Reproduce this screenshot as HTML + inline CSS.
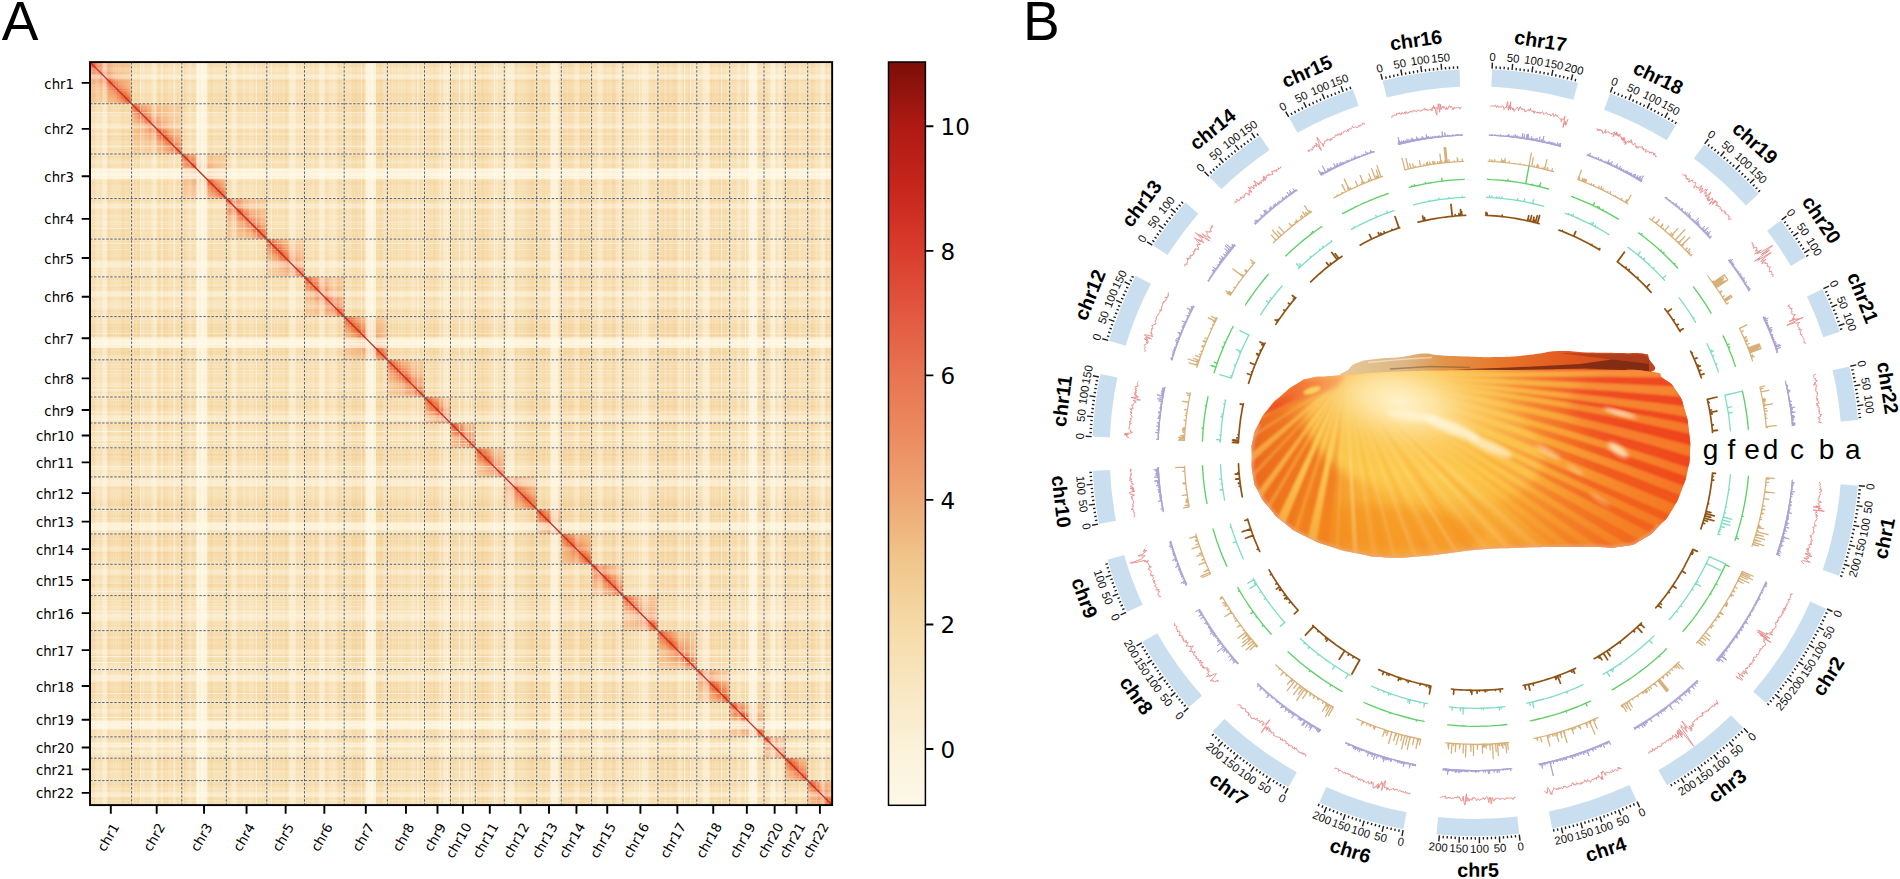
<!DOCTYPE html>
<html lang="en"><head><meta charset="utf-8"><title>Figure</title>
<style>
html,body{margin:0;padding:0;background:#fff;overflow:hidden}
svg{display:block}
.dv{font-family:"DejaVu Sans","Liberation Sans",sans-serif;fill:#000}
.ar{font-family:"Liberation Sans","DejaVu Sans",sans-serif;fill:#000}
.tl{font-size:11.4px;text-anchor:middle;fill:#111}
.cl{font-size:19.7px;font-weight:bold;text-anchor:middle}
.ln{fill:none;stroke-linejoin:round;stroke-linecap:round}
</style></head><body>
<svg width="1900" height="879" viewBox="0 0 1900 879">
<rect width="1900" height="879" fill="#fff"/>
<defs>
<linearGradient id="cbg" x1="0" y1="0" x2="0" y2="1">
<stop offset="0" stop-color="#7c0e09"/>
<stop offset="0.0863" stop-color="#ae1a13"/>
<stop offset="0.17" stop-color="#c6261c"/>
<stop offset="0.2538" stop-color="#d93c2c"/>
<stop offset="0.3375" stop-color="#e25840"/>
<stop offset="0.4213" stop-color="#e87452"/>
<stop offset="0.505" stop-color="#ec8c60"/>
<stop offset="0.5888" stop-color="#eea874"/>
<stop offset="0.6725" stop-color="#f0c68c"/>
<stop offset="0.7563" stop-color="#f5daa6"/>
<stop offset="0.84" stop-color="#f8e7c2"/>
<stop offset="0.9238" stop-color="#fbf2da"/>
<stop offset="1" stop-color="#fdf8e8"/>
</linearGradient>
<linearGradient id="dg" gradientUnits="userSpaceOnUse" x1="30" y1="122.1" x2="150" y2="2.1">
<stop offset="0.005" stop-color="#f5aa70" stop-opacity="0.26"/>
<stop offset="0.2348" stop-color="#f5aa70" stop-opacity="0.31"/>
<stop offset="0.335" stop-color="#f5a86e" stop-opacity="0.38"/>
<stop offset="0.388" stop-color="#f5a46a" stop-opacity="0.47"/>
<stop offset="0.4234" stop-color="#f49c62" stop-opacity="0.58"/>
<stop offset="0.447" stop-color="#f39058" stop-opacity="0.7"/>
<stop offset="0.4646" stop-color="#f1824c" stop-opacity="0.8"/>
<stop offset="0.4794" stop-color="#ee703e" stop-opacity="0.9"/>
<stop offset="0.4912" stop-color="#e95e32" stop-opacity="0.95"/>
<stop offset="0.5" stop-color="#e44c28" stop-opacity="0.97"/>
<stop offset="0.5088" stop-color="#e95e32" stop-opacity="0.95"/>
<stop offset="0.5206" stop-color="#ee703e" stop-opacity="0.9"/>
<stop offset="0.5354" stop-color="#f1824c" stop-opacity="0.8"/>
<stop offset="0.553" stop-color="#f39058" stop-opacity="0.7"/>
<stop offset="0.5766" stop-color="#f49c62" stop-opacity="0.58"/>
<stop offset="0.612" stop-color="#f5a46a" stop-opacity="0.47"/>
<stop offset="0.665" stop-color="#f5a86e" stop-opacity="0.38"/>
<stop offset="0.7652" stop-color="#f5aa70" stop-opacity="0.31"/>
<stop offset="0.995" stop-color="#f5aa70" stop-opacity="0.26"/>
</linearGradient>
<clipPath id="blk">
<rect x="90" y="62.1" width="41.6" height="41.65"/>
<rect x="131.6" y="103.75" width="50.2" height="50.26"/>
<rect x="181.8" y="154.01" width="44.5" height="44.55"/>
<rect x="226.3" y="198.56" width="40.5" height="40.55"/>
<rect x="266.8" y="239.1" width="37.7" height="37.74"/>
<rect x="304.5" y="276.85" width="39.7" height="39.75"/>
<rect x="344.2" y="316.59" width="43.2" height="43.25"/>
<rect x="387.4" y="359.84" width="37.1" height="37.14"/>
<rect x="424.5" y="396.98" width="26" height="26.03"/>
<rect x="450.5" y="423.01" width="24.8" height="24.83"/>
<rect x="475.3" y="447.84" width="29" height="29.03"/>
<rect x="504.3" y="476.87" width="32.4" height="32.44"/>
<rect x="536.7" y="509.31" width="24.6" height="24.63"/>
<rect x="561.3" y="533.94" width="30.3" height="30.33"/>
<rect x="591.6" y="564.27" width="31.3" height="31.34"/>
<rect x="622.9" y="595.61" width="35" height="35.04"/>
<rect x="657.9" y="630.65" width="38.9" height="38.94"/>
<rect x="696.8" y="669.59" width="32.9" height="32.94"/>
<rect x="729.7" y="702.53" width="34.3" height="34.34"/>
<rect x="764" y="736.87" width="21.3" height="21.32"/>
<rect x="785.3" y="758.2" width="22.4" height="22.43"/>
<rect x="807.7" y="780.62" width="24.45" height="24.48"/>
</clipPath>
<clipPath id="hm"><rect x="90" y="62.1" width="742.15" height="743"/></clipPath>
</defs>
<g id="panelA">
<rect x="90" y="62.1" width="742.15" height="743" fill="#f7ddae"/>
<rect x="90" y="62.1" width="742.15" height="743" fill="url(#dg)" clip-path="url(#blk)"/>
<path d="M109 63h1v742h-1zM121 63h1v742h-1zM123 63h2v742h-2zM127 63h3v742h-3zM135 63h1v742h-1zM138 63h2v742h-2zM158 63h2v742h-2zM167 63h1v742h-1zM177 63h1v742h-1zM185 63h1v742h-1zM210 63h2v742h-2zM228 63h1v742h-1zM262 63h1v742h-1zM264 63h1v742h-1zM285 63h1v742h-1zM315 63h1v742h-1zM341 63h1v742h-1zM352 63h1v742h-1zM357 63h1v742h-1zM359 63h2v742h-2zM377 63h1v742h-1zM381 63h2v742h-2zM390 63h1v742h-1zM396 63h1v742h-1zM416 63h1v742h-1zM420 63h1v742h-1zM427 63h1v742h-1zM430 63h1v742h-1zM435 63h1v742h-1zM453 63h1v742h-1zM462 63h1v742h-1zM470 63h1v742h-1zM478 63h2v742h-2zM481 63h1v742h-1zM486 63h2v742h-2zM515 63h1v742h-1zM527 63h3v742h-3zM534 63h1v742h-1zM542 63h2v742h-2zM547 63h1v742h-1zM566 63h1v742h-1zM570 63h3v742h-3zM582 63h1v742h-1zM584 63h1v742h-1zM586 63h3v742h-3zM604 63h1v742h-1zM606 63h1v742h-1zM614 63h1v742h-1zM661 63h2v742h-2zM672 63h2v742h-2zM675 63h1v742h-1zM688 63h2v742h-2zM713 63h1v742h-1zM722 63h2v742h-2zM725 63h1v742h-1zM746 63h1v742h-1zM787 63h1v742h-1zM789 63h1v742h-1zM796 63h2v742h-2zM811 63h1v742h-1zM813 63h1v742h-1zM832 63h1v742h-1z" fill="#eebb78" fill-opacity="0.08"/>
<path d="M91 81v1h741v-1zM91 93v1h741v-1zM91 95v2h741v-2zM91 99v3h741v-3zM91 107v1h741v-1zM91 110v2h741v-2zM91 130v2h741v-2zM91 139v1h741v-1zM91 149v1h741v-1zM91 157v1h741v-1zM91 182v2h741v-2zM91 200v1h741v-1zM91 234v1h741v-1zM91 236v1h741v-1zM91 257v1h741v-1zM91 287v1h741v-1zM91 313v1h741v-1zM91 324v1h741v-1zM91 329v1h741v-1zM91 331v2h741v-2zM91 349v1h741v-1zM91 353v2h741v-2zM91 362v1h741v-1zM91 368v1h741v-1zM91 388v1h741v-1zM91 392v1h741v-1zM91 399v1h741v-1zM91 402v1h741v-1zM91 407v1h741v-1zM91 425v1h741v-1zM91 434v1h741v-1zM91 442v1h741v-1zM91 450v2h741v-2zM91 453v1h741v-1zM91 458v2h741v-2zM91 487v1h741v-1zM91 499v3h741v-3zM91 506v1h741v-1zM91 514v2h741v-2zM91 519v1h741v-1zM91 538v1h741v-1zM91 542v3h741v-3zM91 554v1h741v-1zM91 556v1h741v-1zM91 558v3h741v-3zM91 576v1h741v-1zM91 578v1h741v-1zM91 586v1h741v-1zM91 633v2h741v-2zM91 644v2h741v-2zM91 647v1h741v-1zM91 660v2h741v-2zM91 685v1h741v-1zM91 694v2h741v-2zM91 697v1h741v-1zM91 718v1h741v-1zM91 759v1h741v-1zM91 761v1h741v-1zM91 768v2h741v-2zM91 783v1h741v-1zM91 785v1h741v-1zM91 804v1h741v-1z" fill="#eebb78" fill-opacity="0.08"/>
<path d="M108 63h1v742h-1zM122 63h1v742h-1zM134 63h1v742h-1zM137 63h1v742h-1zM164 63h1v742h-1zM184 63h1v742h-1zM286 63h1v742h-1zM339 63h1v742h-1zM353 63h1v742h-1zM355 63h2v742h-2zM362 63h1v742h-1zM376 63h1v742h-1zM379 63h2v742h-2zM433 63h2v742h-2zM477 63h1v742h-1zM483 63h1v742h-1zM530 63h2v742h-2zM533 63h1v742h-1zM544 63h1v742h-1zM563 63h3v742h-3zM568 63h2v742h-2zM581 63h1v742h-1zM583 63h1v742h-1zM612 63h2v742h-2zM663 63h1v742h-1zM667 63h2v742h-2zM674 63h1v742h-1zM676 63h1v742h-1zM683 63h1v742h-1zM711 63h1v742h-1zM719 63h2v742h-2zM788 63h1v742h-1zM812 63h1v742h-1zM826 63h1v742h-1z" fill="#eebb78" fill-opacity="0.16"/>
<path d="M91 80v1h741v-1zM91 94v1h741v-1zM91 106v1h741v-1zM91 109v1h741v-1zM91 136v1h741v-1zM91 156v1h741v-1zM91 258v1h741v-1zM91 311v1h741v-1zM91 325v1h741v-1zM91 327v2h741v-2zM91 334v1h741v-1zM91 348v1h741v-1zM91 351v2h741v-2zM91 405v2h741v-2zM91 449v1h741v-1zM91 455v1h741v-1zM91 502v2h741v-2zM91 505v1h741v-1zM91 516v1h741v-1zM91 535v3h741v-3zM91 540v2h741v-2zM91 553v1h741v-1zM91 555v1h741v-1zM91 584v2h741v-2zM91 635v1h741v-1zM91 639v2h741v-2zM91 646v1h741v-1zM91 648v1h741v-1zM91 655v1h741v-1zM91 683v1h741v-1zM91 691v2h741v-2zM91 760v1h741v-1zM91 784v1h741v-1zM91 798v1h741v-1z" fill="#eebb78" fill-opacity="0.16"/>
<path d="M363 63h1v742h-1zM482 63h1v742h-1zM532 63h1v742h-1zM580 63h1v742h-1z" fill="#eebb78" fill-opacity="0.26"/>
<path d="M91 335v1h741v-1zM91 454v1h741v-1zM91 504v1h741v-1zM91 552v1h741v-1z" fill="#eebb78" fill-opacity="0.26"/>
<path d="M111 63h2v742h-2zM114 63h1v742h-1zM119 63h2v742h-2zM136 63h1v742h-1zM145 63h2v742h-2zM149 63h2v742h-2zM157 63h1v742h-1zM168 63h1v742h-1zM171 63h2v742h-2zM178 63h1v742h-1zM186 63h2v742h-2zM192 63h1v742h-1zM194 63h2v742h-2zM209 63h1v742h-1zM213 63h1v742h-1zM215 63h4v742h-4zM220 63h4v742h-4zM230 63h1v742h-1zM237 63h1v742h-1zM241 63h1v742h-1zM246 63h3v742h-3zM253 63h2v742h-2zM260 63h1v742h-1zM263 63h1v742h-1zM269 63h2v742h-2zM274 63h2v742h-2zM279 63h1v742h-1zM282 63h3v742h-3zM299 63h1v742h-1zM302 63h1v742h-1zM308 63h1v742h-1zM311 63h1v742h-1zM314 63h1v742h-1zM316 63h1v742h-1zM327 63h1v742h-1zM340 63h1v742h-1zM348 63h2v742h-2zM383 63h1v742h-1zM393 63h1v742h-1zM400 63h1v742h-1zM402 63h2v742h-2zM408 63h3v742h-3zM415 63h1v742h-1zM421 63h1v742h-1zM428 63h1v742h-1zM432 63h1v742h-1zM442 63h1v742h-1zM456 63h3v742h-3zM460 63h2v742h-2zM472 63h1v742h-1zM489 63h2v742h-2zM520 63h1v742h-1zM522 63h3v742h-3zM526 63h1v742h-1zM541 63h1v742h-1zM549 63h1v742h-1zM574 63h1v742h-1zM579 63h1v742h-1zM595 63h2v742h-2zM603 63h1v742h-1zM609 63h2v742h-2zM625 63h1v742h-1zM629 63h2v742h-2zM637 63h1v742h-1zM650 63h1v742h-1zM652 63h1v742h-1zM664 63h1v742h-1zM685 63h1v742h-1zM691 63h1v742h-1zM715 63h1v742h-1zM732 63h2v742h-2zM736 63h1v742h-1zM741 63h1v742h-1zM747 63h1v742h-1zM759 63h2v742h-2zM792 63h2v742h-2zM795 63h1v742h-1zM798 63h1v742h-1zM802 63h2v742h-2zM810 63h1v742h-1zM814 63h2v742h-2zM818 63h1v742h-1zM829 63h1v742h-1z" fill="#fffaea" fill-opacity="0.08"/>
<path d="M91 83v2h741v-2zM91 86v1h741v-1zM91 91v2h741v-2zM91 108v1h741v-1zM91 117v2h741v-2zM91 121v2h741v-2zM91 129v1h741v-1zM91 140v1h741v-1zM91 143v2h741v-2zM91 150v1h741v-1zM91 158v2h741v-2zM91 164v1h741v-1zM91 166v2h741v-2zM91 181v1h741v-1zM91 185v1h741v-1zM91 187v4h741v-4zM91 192v4h741v-4zM91 202v1h741v-1zM91 209v1h741v-1zM91 213v1h741v-1zM91 218v3h741v-3zM91 225v2h741v-2zM91 232v1h741v-1zM91 235v1h741v-1zM91 241v2h741v-2zM91 246v2h741v-2zM91 251v1h741v-1zM91 254v3h741v-3zM91 271v1h741v-1zM91 274v1h741v-1zM91 280v1h741v-1zM91 283v1h741v-1zM91 286v1h741v-1zM91 288v1h741v-1zM91 299v1h741v-1zM91 312v1h741v-1zM91 320v2h741v-2zM91 355v1h741v-1zM91 365v1h741v-1zM91 372v1h741v-1zM91 374v2h741v-2zM91 380v3h741v-3zM91 387v1h741v-1zM91 393v1h741v-1zM91 400v1h741v-1zM91 404v1h741v-1zM91 414v1h741v-1zM91 428v3h741v-3zM91 432v2h741v-2zM91 444v1h741v-1zM91 461v2h741v-2zM91 492v1h741v-1zM91 494v3h741v-3zM91 498v1h741v-1zM91 513v1h741v-1zM91 521v1h741v-1zM91 546v1h741v-1zM91 551v1h741v-1zM91 567v2h741v-2zM91 575v1h741v-1zM91 581v2h741v-2zM91 597v1h741v-1zM91 601v2h741v-2zM91 609v1h741v-1zM91 622v1h741v-1zM91 624v1h741v-1zM91 636v1h741v-1zM91 657v1h741v-1zM91 663v1h741v-1zM91 687v1h741v-1zM91 704v2h741v-2zM91 708v1h741v-1zM91 713v1h741v-1zM91 719v1h741v-1zM91 731v2h741v-2zM91 764v2h741v-2zM91 767v1h741v-1zM91 770v1h741v-1zM91 774v2h741v-2zM91 782v1h741v-1zM91 786v2h741v-2zM91 790v1h741v-1zM91 801v1h741v-1z" fill="#fffaea" fill-opacity="0.08"/>
<path d="M95 63h1v742h-1zM100 63h2v742h-2zM107 63h1v742h-1zM113 63h1v742h-1zM115 63h2v742h-2zM118 63h1v742h-1zM130 63h4v742h-4zM141 63h2v742h-2zM144 63h1v742h-1zM147 63h2v742h-2zM169 63h2v742h-2zM175 63h2v742h-2zM179 63h5v742h-5zM188 63h1v742h-1zM191 63h1v742h-1zM214 63h1v742h-1zM224 63h1v742h-1zM226 63h2v742h-2zM245 63h1v742h-1zM251 63h1v742h-1zM255 63h1v742h-1zM261 63h1v742h-1zM265 63h4v742h-4zM288 63h1v742h-1zM296 63h2v742h-2zM300 63h1v742h-1zM303 63h1v742h-1zM305 63h1v742h-1zM309 63h1v742h-1zM312 63h1v742h-1zM318 63h1v742h-1zM325 63h1v742h-1zM328 63h1v742h-1zM342 63h4v742h-4zM347 63h1v742h-1zM350 63h1v742h-1zM384 63h6v742h-6zM392 63h1v742h-1zM395 63h1v742h-1zM404 63h1v742h-1zM419 63h1v742h-1zM422 63h1v742h-1zM425 63h2v742h-2zM441 63h1v742h-1zM449 63h3v742h-3zM463 63h1v742h-1zM473 63h3v742h-3zM491 63h3v742h-3zM498 63h2v742h-2zM501 63h1v742h-1zM505 63h1v742h-1zM518 63h2v742h-2zM521 63h1v742h-1zM535 63h4v742h-4zM546 63h1v742h-1zM561 63h2v742h-2zM590 63h4v742h-4zM607 63h1v742h-1zM611 63h1v742h-1zM617 63h1v742h-1zM620 63h5v742h-5zM631 63h2v742h-2zM635 63h2v742h-2zM649 63h1v742h-1zM655 63h5v742h-5zM665 63h1v742h-1zM677 63h1v742h-1zM682 63h1v742h-1zM692 63h2v742h-2zM698 63h4v742h-4zM727 63h5v742h-5zM762 63h4v742h-4zM768 63h2v742h-2zM776 63h1v742h-1zM783 63h4v742h-4zM800 63h2v742h-2zM804 63h1v742h-1zM807 63h3v742h-3zM817 63h1v742h-1zM819 63h1v742h-1zM825 63h1v742h-1zM828 63h1v742h-1z" fill="#fffaea" fill-opacity="0.16"/>
<path d="M91 67v1h741v-1zM91 72v2h741v-2zM91 79v1h741v-1zM91 85v1h741v-1zM91 87v2h741v-2zM91 90v1h741v-1zM91 102v4h741v-4zM91 113v2h741v-2zM91 116v1h741v-1zM91 119v2h741v-2zM91 141v2h741v-2zM91 147v2h741v-2zM91 151v5h741v-5zM91 160v1h741v-1zM91 163v1h741v-1zM91 186v1h741v-1zM91 196v1h741v-1zM91 198v2h741v-2zM91 217v1h741v-1zM91 223v1h741v-1zM91 227v1h741v-1zM91 233v1h741v-1zM91 237v4h741v-4zM91 260v1h741v-1zM91 268v2h741v-2zM91 272v1h741v-1zM91 275v1h741v-1zM91 277v1h741v-1zM91 281v1h741v-1zM91 284v1h741v-1zM91 290v1h741v-1zM91 297v1h741v-1zM91 300v1h741v-1zM91 314v4h741v-4zM91 319v1h741v-1zM91 322v1h741v-1zM91 356v6h741v-6zM91 364v1h741v-1zM91 367v1h741v-1zM91 376v1h741v-1zM91 391v1h741v-1zM91 394v1h741v-1zM91 397v2h741v-2zM91 413v1h741v-1zM91 421v3h741v-3zM91 435v1h741v-1zM91 445v3h741v-3zM91 463v3h741v-3zM91 470v2h741v-2zM91 473v1h741v-1zM91 477v1h741v-1zM91 490v2h741v-2zM91 493v1h741v-1zM91 507v4h741v-4zM91 518v1h741v-1zM91 533v2h741v-2zM91 562v4h741v-4zM91 579v1h741v-1zM91 583v1h741v-1zM91 589v1h741v-1zM91 592v5h741v-5zM91 603v2h741v-2zM91 607v2h741v-2zM91 621v1h741v-1zM91 627v5h741v-5zM91 637v1h741v-1zM91 649v1h741v-1zM91 654v1h741v-1zM91 664v2h741v-2zM91 670v4h741v-4zM91 699v5h741v-5zM91 734v4h741v-4zM91 740v2h741v-2zM91 748v1h741v-1zM91 755v4h741v-4zM91 772v2h741v-2zM91 776v1h741v-1zM91 779v3h741v-3zM91 789v1h741v-1zM91 791v1h741v-1zM91 797v1h741v-1zM91 800v1h741v-1z" fill="#fffaea" fill-opacity="0.16"/>
<path d="M96 63h4v742h-4zM143 63h1v742h-1zM151 63h1v742h-1zM156 63h1v742h-1zM161 63h2v742h-2zM173 63h1v742h-1zM189 63h2v742h-2zM207 63h1v742h-1zM225 63h1v742h-1zM231 63h1v742h-1zM236 63h1v742h-1zM243 63h2v742h-2zM249 63h2v742h-2zM252 63h1v742h-1zM277 63h1v742h-1zM298 63h1v742h-1zM301 63h1v742h-1zM313 63h1v742h-1zM329 63h4v742h-4zM335 63h2v742h-2zM398 63h1v742h-1zM401 63h1v742h-1zM411 63h4v742h-4zM418 63h1v742h-1zM423 63h2v742h-2zM439 63h1v742h-1zM464 63h1v742h-1zM467 63h1v742h-1zM495 63h1v742h-1zM500 63h1v742h-1zM502 63h3v742h-3zM514 63h1v742h-1zM559 63h2v742h-2zM575 63h4v742h-4zM597 63h1v742h-1zM602 63h1v742h-1zM616 63h1v742h-1zM618 63h1v742h-1zM628 63h1v742h-1zM638 63h1v742h-1zM640 63h2v742h-2zM648 63h1v742h-1zM678 63h1v742h-1zM680 63h2v742h-2zM695 63h2v742h-2zM702 63h1v742h-1zM709 63h1v742h-1zM737 63h1v742h-1zM739 63h2v742h-2zM777 63h1v742h-1zM782 63h1v742h-1zM799 63h1v742h-1zM806 63h1v742h-1zM816 63h1v742h-1z" fill="#fffaea" fill-opacity="0.26"/>
<path d="M91 68v4h741v-4zM91 115v1h741v-1zM91 123v1h741v-1zM91 128v1h741v-1zM91 133v2h741v-2zM91 145v1h741v-1zM91 161v2h741v-2zM91 179v1h741v-1zM91 197v1h741v-1zM91 203v1h741v-1zM91 208v1h741v-1zM91 215v2h741v-2zM91 221v2h741v-2zM91 224v1h741v-1zM91 249v1h741v-1zM91 270v1h741v-1zM91 273v1h741v-1zM91 285v1h741v-1zM91 301v4h741v-4zM91 307v2h741v-2zM91 370v1h741v-1zM91 373v1h741v-1zM91 383v4h741v-4zM91 390v1h741v-1zM91 395v2h741v-2zM91 411v1h741v-1zM91 436v1h741v-1zM91 439v1h741v-1zM91 467v1h741v-1zM91 472v1h741v-1zM91 474v3h741v-3zM91 486v1h741v-1zM91 531v2h741v-2zM91 547v4h741v-4zM91 569v1h741v-1zM91 574v1h741v-1zM91 588v1h741v-1zM91 590v1h741v-1zM91 600v1h741v-1zM91 610v1h741v-1zM91 612v2h741v-2zM91 620v1h741v-1zM91 650v1h741v-1zM91 652v2h741v-2zM91 667v2h741v-2zM91 674v1h741v-1zM91 681v1h741v-1zM91 709v1h741v-1zM91 711v2h741v-2zM91 749v1h741v-1zM91 754v1h741v-1zM91 771v1h741v-1zM91 778v1h741v-1zM91 788v1h741v-1z" fill="#fffaea" fill-opacity="0.26"/>
<path d="M102 63h1v742h-1zM106 63h1v742h-1zM152 63h2v742h-2zM232 63h1v742h-1zM234 63h1v742h-1zM289 63h1v742h-1zM295 63h1v742h-1zM319 63h1v742h-1zM324 63h1v742h-1zM333 63h2v742h-2zM361 63h1v742h-1zM365 63h1v742h-1zM440 63h1v742h-1zM443 63h1v742h-1zM445 63h1v742h-1zM448 63h1v742h-1zM465 63h2v742h-2zM476 63h1v742h-1zM496 63h2v742h-2zM506 63h2v742h-2zM550 63h1v742h-1zM558 63h1v742h-1zM598 63h4v742h-4zM634 63h1v742h-1zM646 63h1v742h-1zM679 63h1v742h-1zM694 63h1v742h-1zM738 63h1v742h-1zM748 63h1v742h-1zM757 63h1v742h-1zM770 63h1v742h-1zM775 63h1v742h-1zM778 63h1v742h-1zM780 63h2v742h-2zM820 63h2v742h-2zM824 63h1v742h-1z" fill="#fffaea" fill-opacity="0.38"/>
<path d="M91 74v1h741v-1zM91 78v1h741v-1zM91 124v2h741v-2zM91 204v1h741v-1zM91 206v1h741v-1zM91 261v1h741v-1zM91 267v1h741v-1zM91 291v1h741v-1zM91 296v1h741v-1zM91 305v2h741v-2zM91 333v1h741v-1zM91 337v1h741v-1zM91 412v1h741v-1zM91 415v1h741v-1zM91 417v1h741v-1zM91 420v1h741v-1zM91 437v2h741v-2zM91 448v1h741v-1zM91 468v2h741v-2zM91 478v2h741v-2zM91 522v1h741v-1zM91 530v1h741v-1zM91 570v4h741v-4zM91 606v1h741v-1zM91 618v1h741v-1zM91 651v1h741v-1zM91 666v1h741v-1zM91 710v1h741v-1zM91 720v1h741v-1zM91 729v1h741v-1zM91 742v1h741v-1zM91 747v1h741v-1zM91 750v1h741v-1zM91 752v2h741v-2zM91 792v2h741v-2zM91 796v1h741v-1z" fill="#fffaea" fill-opacity="0.38"/>
<path d="M103 63h3v742h-3zM140 63h1v742h-1zM154 63h2v742h-2zM174 63h1v742h-1zM196 63h1v742h-1zM233 63h1v742h-1zM235 63h1v742h-1zM256 63h1v742h-1zM271 63h1v742h-1zM290 63h5v742h-5zM304 63h1v742h-1zM320 63h4v742h-4zM417 63h1v742h-1zM444 63h1v742h-1zM446 63h2v742h-2zM468 63h1v742h-1zM471 63h1v742h-1zM508 63h6v742h-6zM619 63h1v742h-1zM639 63h1v742h-1zM642 63h4v742h-4zM647 63h1v742h-1zM697 63h1v742h-1zM703 63h6v742h-6zM721 63h1v742h-1zM772 63h1v742h-1zM779 63h1v742h-1zM822 63h2v742h-2z" fill="#fffaea" fill-opacity="0.52"/>
<path d="M91 75v3h741v-3zM91 112v1h741v-1zM91 126v2h741v-2zM91 146v1h741v-1zM91 168v1h741v-1zM91 205v1h741v-1zM91 207v1h741v-1zM91 228v1h741v-1zM91 243v1h741v-1zM91 262v5h741v-5zM91 276v1h741v-1zM91 292v4h741v-4zM91 389v1h741v-1zM91 416v1h741v-1zM91 418v2h741v-2zM91 440v1h741v-1zM91 443v1h741v-1zM91 480v6h741v-6zM91 591v1h741v-1zM91 611v1h741v-1zM91 614v4h741v-4zM91 619v1h741v-1zM91 669v1h741v-1zM91 675v6h741v-6zM91 693v1h741v-1zM91 744v1h741v-1zM91 751v1h741v-1zM91 794v2h741v-2z" fill="#fffaea" fill-opacity="0.52"/>
<path d="M199 63h2v742h-2zM204 63h1v742h-1zM206 63h1v742h-1zM366 63h2v742h-2zM370 63h1v742h-1zM373 63h3v742h-3zM459 63h1v742h-1zM494 63h1v742h-1zM551 63h7v742h-7zM684 63h1v742h-1zM690 63h1v742h-1zM745 63h1v742h-1zM749 63h1v742h-1zM751 63h1v742h-1zM754 63h1v742h-1zM756 63h1v742h-1zM771 63h1v742h-1zM773 63h2v742h-2z" fill="#fffaea" fill-opacity="0.68"/>
<path d="M91 171v2h741v-2zM91 176v1h741v-1zM91 178v1h741v-1zM91 338v2h741v-2zM91 342v1h741v-1zM91 345v3h741v-3zM91 431v1h741v-1zM91 466v1h741v-1zM91 523v7h741v-7zM91 656v1h741v-1zM91 662v1h741v-1zM91 717v1h741v-1zM91 721v1h741v-1zM91 723v1h741v-1zM91 726v1h741v-1zM91 728v1h741v-1zM91 743v1h741v-1zM91 745v2h741v-2z" fill="#fffaea" fill-opacity="0.68"/>
<path d="M197 63h2v742h-2zM201 63h3v742h-3zM205 63h1v742h-1zM368 63h2v742h-2zM371 63h2v742h-2zM750 63h1v742h-1zM752 63h2v742h-2zM755 63h1v742h-1z" fill="#fffaea" fill-opacity="0.84"/>
<path d="M91 169v2h741v-2zM91 173v3h741v-3zM91 177v1h741v-1zM91 340v2h741v-2zM91 343v2h741v-2zM91 722v1h741v-1zM91 724v2h741v-2zM91 727v1h741v-1z" fill="#fffaea" fill-opacity="0.84"/>
<line x1="90" y1="62.1" x2="832.15" y2="805.1" stroke="#c22c1c" stroke-width="1.3"/>
<path d="M131.6 62.1V805.1M90 103.75H832.15M181.8 62.1V805.1M90 154.01H832.15M226.3 62.1V805.1M90 198.56H832.15M266.8 62.1V805.1M90 239.1H832.15M304.5 62.1V805.1M90 276.85H832.15M344.2 62.1V805.1M90 316.59H832.15M387.4 62.1V805.1M90 359.84H832.15M424.5 62.1V805.1M90 396.98H832.15M450.5 62.1V805.1M90 423.01H832.15M475.3 62.1V805.1M90 447.84H832.15M504.3 62.1V805.1M90 476.87H832.15M536.7 62.1V805.1M90 509.31H832.15M561.3 62.1V805.1M90 533.94H832.15M591.6 62.1V805.1M90 564.27H832.15M622.9 62.1V805.1M90 595.61H832.15M657.9 62.1V805.1M90 630.65H832.15M696.8 62.1V805.1M90 669.59H832.15M729.7 62.1V805.1M90 702.53H832.15M764 62.1V805.1M90 736.87H832.15M785.3 62.1V805.1M90 758.2H832.15M807.7 62.1V805.1M90 780.62H832.15" fill="none" stroke="#566373" stroke-width="1" stroke-dasharray="2.4 1.65"/>
<rect x="90" y="62.1" width="742.15" height="743" fill="none" stroke="#000" stroke-width="1.9"/>
<path d="M110.8 806v7.7M89.1 82.92h-7.4M156.7 806v7.7M89.1 128.88h-7.4M204.05 806v7.7M89.1 176.28h-7.4M246.55 806v7.7M89.1 218.83h-7.4M285.65 806v7.7M89.1 257.97h-7.4M324.35 806v7.7M89.1 296.72h-7.4M365.8 806v7.7M89.1 338.22h-7.4M405.95 806v7.7M89.1 378.41h-7.4M437.5 806v7.7M89.1 410h-7.4M462.9 806v7.7M89.1 435.43h-7.4M489.8 806v7.7M89.1 462.36h-7.4M520.5 806v7.7M89.1 493.09h-7.4M549 806v7.7M89.1 521.63h-7.4M576.45 806v7.7M89.1 549.11h-7.4M607.25 806v7.7M89.1 579.94h-7.4M640.4 806v7.7M89.1 613.13h-7.4M677.35 806v7.7M89.1 650.12h-7.4M713.25 806v7.7M89.1 686.06h-7.4M746.85 806v7.7M89.1 719.7h-7.4M774.65 806v7.7M89.1 747.53h-7.4M796.5 806v7.7M89.1 769.41h-7.4M819.92 806v7.7M89.1 792.86h-7.4" fill="none" stroke="#000" stroke-width="1.9"/>
<text class="dv" font-size="13.3" text-anchor="end" x="74" y="88.52">chr1</text>
<text class="dv" font-size="13.3" text-anchor="end" x="74" y="134.48">chr2</text>
<text class="dv" font-size="13.3" text-anchor="end" x="74" y="181.88">chr3</text>
<text class="dv" font-size="13.3" text-anchor="end" x="74" y="224.43">chr4</text>
<text class="dv" font-size="13.3" text-anchor="end" x="74" y="263.57">chr5</text>
<text class="dv" font-size="13.3" text-anchor="end" x="74" y="302.32">chr6</text>
<text class="dv" font-size="13.3" text-anchor="end" x="74" y="343.82">chr7</text>
<text class="dv" font-size="13.3" text-anchor="end" x="74" y="384.01">chr8</text>
<text class="dv" font-size="13.3" text-anchor="end" x="74" y="415.6">chr9</text>
<text class="dv" font-size="13.3" text-anchor="end" x="74" y="441.03">chr10</text>
<text class="dv" font-size="13.3" text-anchor="end" x="74" y="467.96">chr11</text>
<text class="dv" font-size="13.3" text-anchor="end" x="74" y="498.69">chr12</text>
<text class="dv" font-size="13.3" text-anchor="end" x="74" y="527.23">chr13</text>
<text class="dv" font-size="13.3" text-anchor="end" x="74" y="554.71">chr14</text>
<text class="dv" font-size="13.3" text-anchor="end" x="74" y="585.54">chr15</text>
<text class="dv" font-size="13.3" text-anchor="end" x="74" y="618.73">chr16</text>
<text class="dv" font-size="13.3" text-anchor="end" x="74" y="655.72">chr17</text>
<text class="dv" font-size="13.3" text-anchor="end" x="74" y="691.66">chr18</text>
<text class="dv" font-size="13.3" text-anchor="end" x="74" y="725.3">chr19</text>
<text class="dv" font-size="13.3" text-anchor="end" x="74" y="753.13">chr20</text>
<text class="dv" font-size="13.3" text-anchor="end" x="74" y="775.01">chr21</text>
<text class="dv" font-size="13.3" text-anchor="end" x="74" y="798.46">chr22</text>
<text class="dv" font-size="13.3" text-anchor="middle" transform="translate(107.9 837.1) rotate(-60)" x="0" y="5.05">chr1</text>
<text class="dv" font-size="13.3" text-anchor="middle" transform="translate(153.8 837.1) rotate(-60)" x="0" y="5.05">chr2</text>
<text class="dv" font-size="13.3" text-anchor="middle" transform="translate(201.15 837.1) rotate(-60)" x="0" y="5.05">chr3</text>
<text class="dv" font-size="13.3" text-anchor="middle" transform="translate(243.65 837.1) rotate(-60)" x="0" y="5.05">chr4</text>
<text class="dv" font-size="13.3" text-anchor="middle" transform="translate(282.75 837.1) rotate(-60)" x="0" y="5.05">chr5</text>
<text class="dv" font-size="13.3" text-anchor="middle" transform="translate(321.45 837.1) rotate(-60)" x="0" y="5.05">chr6</text>
<text class="dv" font-size="13.3" text-anchor="middle" transform="translate(362.9 837.1) rotate(-60)" x="0" y="5.05">chr7</text>
<text class="dv" font-size="13.3" text-anchor="middle" transform="translate(403.05 837.1) rotate(-60)" x="0" y="5.05">chr8</text>
<text class="dv" font-size="13.3" text-anchor="middle" transform="translate(434.6 837.1) rotate(-60)" x="0" y="5.05">chr9</text>
<text class="dv" font-size="13.3" text-anchor="middle" transform="translate(458.2 840.2) rotate(-60)" x="0" y="5.05">chr10</text>
<text class="dv" font-size="13.3" text-anchor="middle" transform="translate(485.1 840.2) rotate(-60)" x="0" y="5.05">chr11</text>
<text class="dv" font-size="13.3" text-anchor="middle" transform="translate(515.8 840.2) rotate(-60)" x="0" y="5.05">chr12</text>
<text class="dv" font-size="13.3" text-anchor="middle" transform="translate(544.3 840.2) rotate(-60)" x="0" y="5.05">chr13</text>
<text class="dv" font-size="13.3" text-anchor="middle" transform="translate(571.75 840.2) rotate(-60)" x="0" y="5.05">chr14</text>
<text class="dv" font-size="13.3" text-anchor="middle" transform="translate(602.55 840.2) rotate(-60)" x="0" y="5.05">chr15</text>
<text class="dv" font-size="13.3" text-anchor="middle" transform="translate(635.7 840.2) rotate(-60)" x="0" y="5.05">chr16</text>
<text class="dv" font-size="13.3" text-anchor="middle" transform="translate(672.65 840.2) rotate(-60)" x="0" y="5.05">chr17</text>
<text class="dv" font-size="13.3" text-anchor="middle" transform="translate(708.55 840.2) rotate(-60)" x="0" y="5.05">chr18</text>
<text class="dv" font-size="13.3" text-anchor="middle" transform="translate(742.15 840.2) rotate(-60)" x="0" y="5.05">chr19</text>
<text class="dv" font-size="13.3" text-anchor="middle" transform="translate(769.95 840.2) rotate(-60)" x="0" y="5.05">chr20</text>
<text class="dv" font-size="13.3" text-anchor="middle" transform="translate(791.8 840.2) rotate(-60)" x="0" y="5.05">chr21</text>
<text class="dv" font-size="13.3" text-anchor="middle" transform="translate(815.22 840.2) rotate(-60)" x="0" y="5.05">chr22</text>
<rect x="888.5" y="62" width="36.9" height="743.3" fill="url(#cbg)" stroke="#000" stroke-width="1.5"/>
<text class="dv" font-size="23" x="940.6" y="757.8">0</text>
<text class="dv" font-size="23" x="940.6" y="633.26">2</text>
<text class="dv" font-size="23" x="940.6" y="508.72">4</text>
<text class="dv" font-size="23" x="940.6" y="384.18">6</text>
<text class="dv" font-size="23" x="940.6" y="259.64">8</text>
<text class="dv" font-size="23" x="940.6" y="135.1">10</text>
<path d="M926.1 749h7.3M926.1 624.46h7.3M926.1 499.92h7.3M926.1 375.38h7.3M926.1 250.84h7.3M926.1 126.3h7.3" fill="none" stroke="#000" stroke-width="1.9"/>
<text class="ar" font-size="55" x="1.8" y="39.9">A</text>
<text class="ar" font-size="55" x="1022.9" y="39.7">B</text>
</g>
<g id="panelB">
<path d="M1857.9 485.7A383.5 383.5 0 0 1 1839.1 575.7L1822.7 570.1A366.2 366.2 0 0 0 1840.6 484.2ZM1826.1 608.7A383.5 383.5 0 0 1 1766.3 703L1753.2 691.7A366.2 366.2 0 0 0 1810.3 601.6ZM1743.2 727.6A383.5 383.5 0 0 1 1667 785.2L1658.3 770.2A366.2 366.2 0 0 0 1731.1 715.2ZM1636.7 800.8A383.5 383.5 0 0 1 1552.3 828.5L1548.8 811.5A366.2 366.2 0 0 0 1629.4 785.1ZM1519.2 833.7A383.5 383.5 0 0 1 1436.4 834.2L1438.2 817A366.2 366.2 0 0 0 1517.3 816.5ZM1403.3 829.3A383.5 383.5 0 0 1 1319.2 802.8L1326.3 787A366.2 366.2 0 0 0 1406.6 812.3ZM1288.4 787.3A383.5 383.5 0 0 1 1212.6 731.6L1224.5 719A366.2 366.2 0 0 0 1296.9 772.2ZM1189 707.3A383.5 383.5 0 0 1 1142.2 641.8L1157.2 633.3A366.2 366.2 0 0 0 1202 695.8ZM1126.9 612A383.5 383.5 0 0 1 1107.5 559.7L1124.1 554.9A366.2 366.2 0 0 0 1142.7 604.8ZM1099 523.9A383.5 383.5 0 0 1 1092.7 470.8L1110 470A366.2 366.2 0 0 0 1116 520.7ZM1092.6 436.6A383.5 383.5 0 0 1 1100.5 374L1117.4 377.6A366.2 366.2 0 0 0 1109.9 437.4ZM1109 340.7A383.5 383.5 0 0 1 1135.6 275.7L1150.9 283.7A366.2 366.2 0 0 0 1125.6 345.8ZM1153 245.6A383.5 383.5 0 0 1 1185.3 202.4L1198.4 213.7A366.2 366.2 0 0 0 1167.6 255ZM1209.4 176.8A383.5 383.5 0 0 1 1259.9 135.8L1269.6 150.1A366.2 366.2 0 0 0 1221.4 189.3ZM1289.1 117.7A383.5 383.5 0 0 1 1353 89.4L1358.6 105.8A366.2 366.2 0 0 0 1297.5 132.8ZM1382.6 80.7A383.5 383.5 0 0 1 1459.5 69.5L1460.2 86.8A366.2 366.2 0 0 0 1386.8 97.5ZM1492.1 69.5A383.5 383.5 0 0 1 1578 83.1L1573.4 99.7A366.2 366.2 0 0 0 1491.3 86.8ZM1610 93.5A383.5 383.5 0 0 1 1675.7 125.4L1666.7 140.2A366.2 366.2 0 0 0 1604 109.7ZM1704.2 144.6A383.5 383.5 0 0 1 1758.7 193.8L1746 205.5A366.2 366.2 0 0 0 1693.9 158.5ZM1780.9 220.4A383.5 383.5 0 0 1 1805.7 257.1L1790.8 265.9A366.2 366.2 0 0 0 1767.1 230.8ZM1822.6 289.1A383.5 383.5 0 0 1 1839.7 331.8L1823.3 337.2A366.2 366.2 0 0 0 1807 296.4ZM1849.5 366.4A383.5 383.5 0 0 1 1857.9 419.9L1840.7 421.4A366.2 366.2 0 0 0 1832.6 370.3Z" fill="#c9dff0"/>
<path d="M1858.8 485.7L1864.9 486.3M1856.5 505.6L1862.6 506.5M1853.3 525.4L1859.3 526.5M1849 544.9L1854.9 546.4M1843.7 564.3L1849.5 566M1827 609L1832.5 611.5M1818.3 627.1L1823.8 629.9M1808.8 644.7L1814.1 647.8M1798.3 661.8L1803.5 665.1M1787 678.3L1792 681.9M1774.9 694.2L1779.6 698.1M1743.8 728.3L1748 732.7M1729.1 741.9L1733.1 746.5M1713.7 754.7L1717.4 759.5M1697.6 766.6L1701.1 771.6M1681 777.8L1684.2 782.9M1637 801.6L1639.6 807.2M1618.6 809.6L1620.9 815.2M1599.9 816.5L1601.8 822.3M1580.8 822.5L1582.4 828.4M1561.4 827.5L1562.7 833.4M1519.3 834.6L1520 840.7M1499.4 836.4L1499.7 842.5M1479.4 837.1L1479.4 843.2M1459.3 836.7L1459.1 842.8M1439.4 835.4L1438.8 841.4M1403.1 830.2L1402 836.2M1383.6 825.9L1382.1 831.8M1364.2 820.6L1362.5 826.4M1345.2 814.2L1343.2 820M1326.6 807L1324.2 812.6M1288 788.1L1285 793.4M1270.8 777.9L1267.5 783M1254.1 766.7L1250.6 771.7M1238.1 754.8L1234.3 759.6M1222.7 742L1218.6 746.6M1188.3 707.9L1183.8 712M1175.4 692.6L1170.7 696.4M1163.4 676.6L1158.4 680.2M1152.1 660.1L1147 663.3M1141.8 642.9L1136.5 645.9M1126.1 612.4L1120.6 614.9M1118.3 593.9L1112.6 596.2M1111.4 575.1L1105.6 577.1M1098.1 524.1L1092.1 525.2M1094.9 504.3L1088.8 505.1M1092.7 484.4L1086.6 484.9M1091.7 436.6L1085.6 436.3M1093.1 416.6L1087 416.1M1095.5 396.7L1089.5 395.9M1098.9 377L1092.9 375.8M1108.2 340.4L1102.3 338.7M1114.5 321.4L1108.8 319.4M1121.8 302.8L1116.2 300.4M1130.1 284.6L1124.6 281.9M1152.3 245.1L1147.1 241.9M1163.5 228.6L1158.5 225M1175.6 212.6L1170.8 208.8M1208.8 176.2L1204.5 171.8M1223.5 162.7L1219.5 158.1M1239 149.9L1235.2 145.1M1255.1 138L1251.6 133M1288.7 116.9L1285.7 111.6M1306.4 107.6L1303.7 102.2M1324.6 99.3L1322.2 93.7M1343.2 91.9L1341.1 86.2M1382.4 79.8L1380.9 73.9M1402 75.5L1400.8 69.5M1421.7 72.1L1420.8 66.1M1441.6 69.8L1441.1 63.7M1492.1 68.6L1492.4 62.6M1512.1 70L1512.7 63.9M1532 72.4L1532.8 66.4M1551.7 75.9L1552.9 69.9M1571.2 80.3L1572.7 74.4M1610.4 92.6L1612.5 86.9M1628.9 100.1L1631.4 94.5M1647.1 108.6L1649.8 103.1M1664.8 118L1667.8 112.6M1704.7 143.9L1708.4 139M1720.5 156.2L1724.4 151.5M1735.6 169.4L1739.7 164.9M1750 183.3L1754.3 179M1781.6 219.8L1786.5 216.1M1793.3 236.1L1798.4 232.6M1804.2 252.9L1809.4 249.7M1823.4 288.7L1829 286.1M1831.5 307L1837.2 304.7M1838.6 325.7L1844.4 323.7M1850.3 366.2L1856.3 364.9M1854.3 385.9L1860.3 384.8M1857.3 405.7L1863.4 404.9" fill="none" stroke="#222" stroke-width="1.45"/>
<path d="M1858.4 489.7L1860.9 490M1858 493.7L1860.5 494M1857.6 497.7L1860 498M1857.1 501.7L1859.5 502M1856 509.6L1858.4 510M1855.4 513.6L1857.8 514M1854.7 517.5L1857.2 517.9M1854 521.5L1856.5 521.9M1852.5 529.3L1854.9 529.8M1851.7 533.2L1854.1 533.8M1850.8 537.1L1853.2 537.7M1849.9 541.1L1852.3 541.6M1848 548.8L1850.4 549.5M1847 552.7L1849.4 553.4M1845.9 556.6L1848.3 557.2M1844.8 560.4L1847.2 561.1M1842.5 568.1L1844.9 568.8M1841.3 571.9L1843.6 572.7M1840 575.7L1842.4 576.5M1825.3 612.7L1827.6 613.7M1823.6 616.3L1825.9 617.4M1821.9 619.9L1824.2 621M1820.1 623.5L1822.4 624.7M1816.5 630.7L1818.7 631.8M1814.6 634.2L1816.8 635.4M1812.7 637.7L1814.9 638.9M1810.8 641.2L1813 642.5M1806.8 648.2L1808.9 649.5M1804.7 651.6L1806.9 652.9M1802.6 655L1804.8 656.4M1800.5 658.4L1802.6 659.8M1796.2 665.2L1798.2 666.5M1793.9 668.5L1796 669.9M1791.7 671.8L1793.7 673.2M1789.4 675.1L1791.4 676.5M1784.7 681.5L1786.7 683M1782.3 684.8L1784.2 686.3M1779.8 687.9L1781.8 689.5M1777.4 691.1L1779.3 692.6M1772.3 697.3L1774.2 698.9M1769.8 700.4L1771.7 702M1767.2 703.4L1769.1 705.1M1740.9 731.1L1742.6 732.9M1738 733.8L1739.7 735.6M1735 736.5L1736.7 738.4M1732.1 739.2L1733.7 741.1M1726 744.5L1727.7 746.4M1723 747.1L1724.6 749M1719.9 749.6L1721.5 751.6M1716.8 752.2L1718.4 754.1M1710.5 757.1L1712 759.1M1707.3 759.6L1708.8 761.5M1704.1 761.9L1705.6 764M1700.9 764.3L1702.4 766.3M1694.3 768.9L1695.8 771M1691 771.2L1692.4 773.3M1687.7 773.4L1689.1 775.5M1684.4 775.6L1685.7 777.7M1677.6 779.9L1678.9 782M1674.2 782L1675.5 784.1M1670.7 784L1672 786.2M1633.4 803.3L1634.4 805.6M1629.7 804.9L1630.7 807.2M1626.1 806.5L1627 808.8M1622.4 808.1L1623.3 810.4M1614.9 811L1615.8 813.4M1611.2 812.5L1612.1 814.8M1607.4 813.9L1608.3 816.2M1603.7 815.2L1604.5 817.6M1596.1 817.8L1596.9 820.2M1592.3 819L1593 821.4M1588.4 820.2L1589.2 822.6M1584.6 821.4L1585.3 823.8M1576.9 823.6L1577.6 826M1573 824.6L1573.7 827M1569.1 825.6L1569.8 828M1565.3 826.5L1565.8 829M1557.4 828.3L1558 830.8M1553.5 829.2L1554 831.6M1515.3 835.1L1515.6 837.5M1511.3 835.5L1511.6 837.9M1507.4 835.8L1507.6 838.3M1503.4 836.1L1503.5 838.6M1495.4 836.6L1495.5 839.1M1491.4 836.8L1491.5 839.3M1487.4 836.9L1487.4 839.4M1483.4 837L1483.4 839.5M1475.4 837.1L1475.3 839.6M1471.3 837.1L1471.3 839.6M1467.3 837L1467.3 839.5M1463.3 836.9L1463.3 839.4M1455.3 836.6L1455.2 839.1M1451.3 836.3L1451.2 838.8M1447.3 836L1447.2 838.5M1443.3 835.7L1443.1 838.2M1399.2 829.4L1398.7 831.8M1395.3 828.6L1394.7 831M1391.4 827.7L1390.8 830.1M1387.4 826.8L1386.9 829.2M1379.7 824.9L1379 827.3M1375.8 823.9L1375.1 826.3M1371.9 822.8L1371.3 825.2M1368.1 821.7L1367.4 824.1M1360.4 819.4L1359.7 821.8M1356.6 818.2L1355.8 820.5M1352.8 816.9L1352 819.3M1349 815.6L1348.2 818M1341.5 812.9L1340.6 815.2M1337.7 811.5L1336.8 813.8M1334 810L1333.1 812.3M1330.3 808.5L1329.3 810.8M1322.9 805.4L1321.9 807.7M1319.2 803.8L1318.2 806.1M1284.5 786.1L1283.2 788.3M1281 784.1L1279.8 786.3M1277.6 782.1L1276.3 784.2M1274.2 780L1272.9 782.1M1267.4 775.7L1266 777.8M1264 773.5L1262.7 775.6M1260.7 771.3L1259.3 773.4M1257.4 769L1256 771.1M1250.8 764.4L1249.4 766.4M1247.6 762L1246.1 764.1M1244.4 759.7L1242.9 761.6M1241.2 757.2L1239.7 759.2M1234.9 752.3L1233.4 754.2M1231.8 749.7L1230.2 751.7M1228.7 747.2L1227.1 749.1M1225.7 744.6L1224.1 746.5M1219.6 739.3L1218 741.2M1216.7 736.6L1215 738.5M1213.7 733.9L1212 735.7M1185.7 704.9L1183.8 706.5M1183.1 701.9L1181.2 703.5M1180.5 698.8L1178.6 700.4M1178 695.7L1176 697.3M1173 689.5L1171 691M1170.5 686.3L1168.5 687.8M1168.1 683.1L1166.1 684.6M1165.7 679.9L1163.7 681.4M1161 673.4L1159 674.8M1158.8 670.1L1156.7 671.5M1156.5 666.8L1154.4 668.1M1154.3 663.4L1152.2 664.8M1150 656.7L1147.9 658M1147.9 653.3L1145.7 654.6M1145.8 649.8L1143.7 651.1M1143.8 646.4L1141.6 647.7M1124.5 608.7L1122.2 609.7M1122.9 605L1120.6 606M1121.3 601.3L1119 602.3M1119.8 597.6L1117.5 598.6M1116.8 590.2L1114.5 591.1M1115.4 586.4L1113.1 587.3M1114 582.7L1111.7 583.5M1112.7 578.9L1110.3 579.7M1110.2 571.3L1107.8 572.1M1108.9 567.5L1106.6 568.2M1107.8 563.7L1105.4 564.4M1097.4 520.1L1094.9 520.6M1096.7 516.2L1094.2 516.6M1096 512.2L1093.6 512.6M1095.4 508.3L1093 508.6M1094.4 500.3L1091.9 500.6M1093.9 496.4L1091.4 496.6M1093.5 492.4L1091 492.6M1093.1 488.4L1090.6 488.6M1092.4 480.4L1089.9 480.6M1092.1 476.4L1089.6 476.6M1091.9 472.4L1089.4 472.5M1091.9 432.6L1089.4 432.5M1092.2 428.6L1089.7 428.4M1092.4 424.6L1089.9 424.4M1092.7 420.6L1090.3 420.4M1093.5 412.6L1091 412.4M1093.9 408.7L1091.4 408.4M1094.4 404.7L1091.9 404.4M1094.9 400.7L1092.5 400.4M1096.1 392.8L1093.6 392.4M1096.7 388.8L1094.3 388.4M1097.4 384.9L1095 384.4M1098.2 380.9L1095.7 380.5M1109.3 336.6L1107 335.9M1110.6 332.8L1108.2 332M1111.8 329L1109.5 328.2M1113.2 325.2L1110.8 324.4M1115.9 317.7L1113.5 316.8M1117.3 313.9L1115 313M1118.8 310.2L1116.5 309.3M1120.3 306.5L1118 305.6M1123.4 299.1L1121.1 298.1M1125 295.5L1122.7 294.4M1126.7 291.8L1124.4 290.8M1128.4 288.2L1126.1 287.1M1131.9 281L1129.6 279.9M1133.7 277.4L1131.5 276.3M1154.4 241.8L1152.3 240.4M1156.6 238.4L1154.6 237.1M1158.9 235.1L1156.8 233.7M1161.2 231.8L1159.1 230.4M1165.9 225.3L1163.8 223.9M1168.2 222.1L1166.2 220.6M1170.7 218.9L1168.7 217.4M1173.1 215.8L1171.1 214.2M1178.1 209.5L1176.2 207.9M1180.7 206.4L1178.7 204.8M1183.2 203.4L1181.3 201.7M1211.7 173.4L1210 171.6M1214.6 170.7L1212.9 168.8M1217.5 168L1215.9 166.1M1220.5 165.3L1218.9 163.4M1226.6 160L1224.9 158.1M1229.6 157.5L1228 155.5M1232.7 154.9L1231.1 153M1235.8 152.4L1234.3 150.4M1242.1 147.5L1240.6 145.5M1245.3 145L1243.8 143M1248.6 142.7L1247.1 140.6M1251.8 140.3L1250.3 138.3M1258.4 135.7L1256.9 133.6M1292.2 115L1291 112.8M1295.7 113.1L1294.5 110.9M1299.3 111.2L1298.1 109M1302.8 109.4L1301.7 107.2M1310 105.9L1308.9 103.6M1313.6 104.2L1312.6 101.9M1317.3 102.5L1316.3 100.2M1320.9 100.9L1319.9 98.6M1328.3 97.7L1327.3 95.4M1332 96.2L1331.1 93.9M1335.7 94.7L1334.8 92.4M1339.5 93.3L1338.6 90.9M1347 90.5L1346.2 88.2M1350.8 89.2L1350 86.8M1386.3 78.9L1385.7 76.4M1390.2 78L1389.6 75.5M1394.1 77.1L1393.6 74.6M1398 76.2L1397.5 73.8M1405.9 74.7L1405.4 72.3M1409.8 74L1409.4 71.5M1413.8 73.3L1413.4 70.9M1417.7 72.7L1417.4 70.2M1425.7 71.6L1425.3 69.1M1429.6 71.1L1429.3 68.6M1433.6 70.6L1433.4 68.1M1437.6 70.2L1437.4 67.7M1445.6 69.5L1445.4 67M1449.6 69.2L1449.4 66.7M1453.6 68.9L1453.4 66.4M1457.6 68.7L1457.5 66.2M1496.1 68.8L1496.2 66.3M1500.1 69.1L1500.3 66.6M1504.1 69.3L1504.3 66.8M1508.1 69.7L1508.3 67.2M1516.1 70.4L1516.3 67.9M1520 70.9L1520.3 68.4M1524 71.3L1524.3 68.9M1528 71.9L1528.3 69.4M1535.9 73L1536.3 70.6M1539.9 73.7L1540.3 71.2M1543.8 74.4L1544.3 71.9M1547.8 75.1L1548.2 72.6M1555.6 76.7L1556.1 74.2M1559.5 77.5L1560.1 75.1M1563.4 78.4L1564 76M1567.3 79.4L1567.9 76.9M1575.1 81.3L1575.7 78.9M1614.1 94L1615 91.7M1617.8 95.5L1618.8 93.2M1621.5 97L1622.5 94.7M1625.2 98.5L1626.2 96.2M1632.6 101.7L1633.6 99.4M1636.2 103.4L1637.3 101.1M1639.9 105.1L1640.9 102.8M1643.5 106.8L1644.6 104.6M1650.7 110.4L1651.8 108.1M1654.2 112.2L1655.4 110M1657.7 114.1L1658.9 111.9M1661.3 116L1662.5 113.8M1668.2 119.9L1669.5 117.8M1671.7 122L1673 119.8M1675.1 124L1676.4 121.9M1707.9 146.3L1709.4 144.3M1711.1 148.7L1712.6 146.8M1714.3 151.2L1715.8 149.2M1717.4 153.7L1719 151.8M1723.6 158.8L1725.2 156.9M1726.6 161.4L1728.2 159.5M1729.6 164L1731.3 162.2M1732.6 166.7L1734.3 164.8M1738.5 172.1L1740.2 170.3M1741.4 174.9L1743.2 173M1744.3 177.6L1746.1 175.9M1747.2 180.5L1748.9 178.7M1752.8 186.2L1754.6 184.4M1755.6 189.1L1757.4 187.4M1758.3 192L1760.1 190.3M1784 223L1786 221.5M1786.4 226.2L1788.4 224.8M1788.7 229.5L1790.8 228M1791.1 232.8L1793.1 231.3M1795.6 239.4L1797.7 238M1797.8 242.7L1799.9 241.4M1799.9 246.1L1802.1 244.7M1802.1 249.5L1804.2 248.1M1806.2 256.3L1808.4 255M1825.1 292.3L1827.4 291.3M1826.8 295.9L1829.1 294.9M1828.4 299.6L1830.7 298.6M1830 303.3L1832.3 302.3M1833 310.7L1835.3 309.8M1834.5 314.4L1836.8 313.5M1835.9 318.2L1838.2 317.3M1837.3 321.9L1839.6 321.1M1839.9 329.5L1842.3 328.7M1851.2 370.1L1853.7 369.6M1852.1 374.1L1854.5 373.5M1852.9 378L1855.3 377.5M1853.6 381.9L1856.1 381.4M1855 389.8L1857.5 389.4M1855.7 393.8L1858.1 393.4M1856.2 397.7L1858.7 397.4M1856.8 401.7L1859.3 401.3M1857.8 409.6L1860.3 409.4M1858.2 413.6L1860.7 413.4M1858.6 417.6L1861.1 417.4" fill="none" stroke="#222" stroke-width="1.4"/>
<text class="ar tl" transform="translate(1870.5 486.7) rotate(274.9)" y="3.9">0</text>
<text class="ar tl" transform="translate(1868.2 507.3) rotate(277.9)" y="3.9">50</text>
<text class="ar tl" transform="translate(1864.9 527.6) rotate(280.9)" y="3.9">100</text>
<text class="ar tl" transform="translate(1860.4 547.8) rotate(283.9)" y="3.9">150</text>
<text class="ar tl" transform="translate(1854.9 567.7) rotate(286.9)" y="3.9">200</text>
<text class="ar cl" transform="translate(1884.1 538.1) rotate(281.8)" y="7">chr1</text>
<text class="ar tl" transform="translate(1837.7 613.8) rotate(294)" y="3.9">0</text>
<text class="ar tl" transform="translate(1828.9 632.5) rotate(297)" y="3.9">50</text>
<text class="ar tl" transform="translate(1819 650.6) rotate(300)" y="3.9">100</text>
<text class="ar tl" transform="translate(1808.3 668.2) rotate(303)" y="3.9">150</text>
<text class="ar tl" transform="translate(1796.6 685.2) rotate(305.9)" y="3.9">200</text>
<text class="ar tl" transform="translate(1784 701.6) rotate(308.9)" y="3.9">250</text>
<text class="ar cl" transform="translate(1828.1 676.1) rotate(302.4)" y="7">chr2</text>
<text class="ar tl" transform="translate(1752 736.7) rotate(315.8)" y="3.9">0</text>
<text class="ar tl" transform="translate(1736.9 750.7) rotate(318.8)" y="3.9">50</text>
<text class="ar tl" transform="translate(1721 763.9) rotate(321.8)" y="3.9">100</text>
<text class="ar tl" transform="translate(1704.4 776.3) rotate(324.8)" y="3.9">150</text>
<text class="ar tl" transform="translate(1687.3 787.7) rotate(327.7)" y="3.9">200</text>
<text class="ar cl" transform="translate(1727.1 785.6) rotate(322.9)" y="7">chr3</text>
<text class="ar tl" transform="translate(1642 812.4) rotate(335.2)" y="3.9">0</text>
<text class="ar tl" transform="translate(1623 820.5) rotate(338.2)" y="3.9">50</text>
<text class="ar tl" transform="translate(1603.7 827.7) rotate(341.2)" y="3.9">100</text>
<text class="ar tl" transform="translate(1584 833.8) rotate(344.2)" y="3.9">150</text>
<text class="ar tl" transform="translate(1564 839) rotate(347.1)" y="3.9">200</text>
<text class="ar cl" transform="translate(1605.7 849.1) rotate(341.9)" y="7">chr4</text>
<text class="ar tl" transform="translate(1520.7 846.4) rotate(353.5)" y="3.9">0</text>
<text class="ar tl" transform="translate(1500.1 848.2) rotate(356.5)" y="3.9">50</text>
<text class="ar tl" transform="translate(1479.5 848.9) rotate(359.5)" y="3.9">100</text>
<text class="ar tl" transform="translate(1458.8 848.5) rotate(2.5)" y="3.9">150</text>
<text class="ar tl" transform="translate(1438.2 847.1) rotate(5.4)" y="3.9">200</text>
<text class="ar cl" transform="translate(1478 869.8) rotate(359.7)" y="7">chr5</text>
<text class="ar tl" transform="translate(1400.9 841.8) rotate(10.9)" y="3.9">0</text>
<text class="ar tl" transform="translate(1380.7 837.3) rotate(13.9)" y="3.9">50</text>
<text class="ar tl" transform="translate(1360.8 831.8) rotate(16.9)" y="3.9">100</text>
<text class="ar tl" transform="translate(1341.2 825.3) rotate(19.9)" y="3.9">150</text>
<text class="ar tl" transform="translate(1322 817.8) rotate(22.8)" y="3.9">200</text>
<text class="ar cl" transform="translate(1350.4 850.5) rotate(17.5)" y="7">chr6</text>
<text class="ar tl" transform="translate(1282.2 798.4) rotate(29.2)" y="3.9">0</text>
<text class="ar tl" transform="translate(1264.5 787.8) rotate(32.2)" y="3.9">50</text>
<text class="ar tl" transform="translate(1247.3 776.4) rotate(35.2)" y="3.9">100</text>
<text class="ar tl" transform="translate(1230.8 764) rotate(38.2)" y="3.9">150</text>
<text class="ar tl" transform="translate(1214.9 750.9) rotate(41.2)" y="3.9">200</text>
<text class="ar cl" transform="translate(1228.9 788.9) rotate(36.3)" y="7">chr7</text>
<text class="ar tl" transform="translate(1179.5 715.7) rotate(48.4)" y="3.9">0</text>
<text class="ar tl" transform="translate(1166.2 700) rotate(51.4)" y="3.9">50</text>
<text class="ar tl" transform="translate(1153.8 683.5) rotate(54.4)" y="3.9">100</text>
<text class="ar tl" transform="translate(1142.2 666.4) rotate(57.4)" y="3.9">150</text>
<text class="ar tl" transform="translate(1131.5 648.8) rotate(60.3)" y="3.9">200</text>
<text class="ar cl" transform="translate(1136.5 695.4) rotate(54.4)" y="7">chr8</text>
<text class="ar tl" transform="translate(1115.4 617.3) rotate(65.5)" y="3.9">0</text>
<text class="ar tl" transform="translate(1107.3 598.3) rotate(68.4)" y="3.9">50</text>
<text class="ar tl" transform="translate(1100.2 578.9) rotate(71.4)" y="3.9">100</text>
<text class="ar cl" transform="translate(1084.7 597.9) rotate(69.6)" y="7">chr9</text>
<text class="ar tl" transform="translate(1086.5 526.3) rotate(79.3)" y="3.9">0</text>
<text class="ar tl" transform="translate(1083.2 505.9) rotate(82.3)" y="3.9">50</text>
<text class="ar tl" transform="translate(1080.9 485.4) rotate(85.3)" y="3.9">100</text>
<text class="ar cl" transform="translate(1061.5 501.4) rotate(83.3)" y="7">chr10</text>
<text class="ar tl" transform="translate(1079.9 436.1) rotate(272.4)" y="3.9">0</text>
<text class="ar tl" transform="translate(1081.3 415.5) rotate(275.4)" y="3.9">50</text>
<text class="ar tl" transform="translate(1083.8 395) rotate(278.4)" y="3.9">100</text>
<text class="ar tl" transform="translate(1087.4 374.7) rotate(281.4)" y="3.9">150</text>
<text class="ar cl" transform="translate(1061.9 401) rotate(277.1)" y="7">chr11</text>
<text class="ar tl" transform="translate(1096.9 337) rotate(287)" y="3.9">0</text>
<text class="ar tl" transform="translate(1103.4 317.4) rotate(290)" y="3.9">50</text>
<text class="ar tl" transform="translate(1111 298.2) rotate(293)" y="3.9">100</text>
<text class="ar tl" transform="translate(1119.5 279.4) rotate(295.9)" y="3.9">150</text>
<text class="ar cl" transform="translate(1089.7 294.9) rotate(292.2)" y="7">chr12</text>
<text class="ar tl" transform="translate(1142.3 238.8) rotate(302.7)" y="3.9">0</text>
<text class="ar tl" transform="translate(1153.9 221.7) rotate(305.7)" y="3.9">50</text>
<text class="ar tl" transform="translate(1166.4 205.2) rotate(308.7)" y="3.9">100</text>
<text class="ar cl" transform="translate(1141.4 203.3) rotate(306.7)" y="7">chr13</text>
<text class="ar tl" transform="translate(1200.6 167.7) rotate(316)" y="3.9">0</text>
<text class="ar tl" transform="translate(1215.8 153.8) rotate(319)" y="3.9">50</text>
<text class="ar tl" transform="translate(1231.7 140.6) rotate(322)" y="3.9">100</text>
<text class="ar tl" transform="translate(1248.3 128.3) rotate(325)" y="3.9">150</text>
<text class="ar cl" transform="translate(1212.5 129.1) rotate(320.9)" y="7">chr14</text>
<text class="ar tl" transform="translate(1282.9 106.6) rotate(330.9)" y="3.9">0</text>
<text class="ar tl" transform="translate(1301.2 97) rotate(333.9)" y="3.9">50</text>
<text class="ar tl" transform="translate(1320 88.4) rotate(336.8)" y="3.9">100</text>
<text class="ar tl" transform="translate(1339.2 80.8) rotate(339.8)" y="3.9">150</text>
<text class="ar cl" transform="translate(1306.8 71.3) rotate(336.1)" y="7">chr15</text>
<text class="ar tl" transform="translate(1379.5 68.4) rotate(345.9)" y="3.9">0</text>
<text class="ar tl" transform="translate(1399.7 63.9) rotate(348.9)" y="3.9">50</text>
<text class="ar tl" transform="translate(1420 60.4) rotate(351.9)" y="3.9">100</text>
<text class="ar tl" transform="translate(1440.5 58.1) rotate(354.9)" y="3.9">150</text>
<text class="ar cl" transform="translate(1415.9 39.9) rotate(351.8)" y="7">chr16</text>
<text class="ar tl" transform="translate(1492.6 56.9) rotate(2.4)" y="3.9">0</text>
<text class="ar tl" transform="translate(1513.2 58.3) rotate(5.4)" y="3.9">50</text>
<text class="ar tl" transform="translate(1533.7 60.8) rotate(8.4)" y="3.9">100</text>
<text class="ar tl" transform="translate(1554 64.3) rotate(11.4)" y="3.9">150</text>
<text class="ar tl" transform="translate(1574.1 68.9) rotate(14.4)" y="3.9">200</text>
<text class="ar cl" transform="translate(1540.6 40.6) rotate(8.9)" y="7">chr17</text>
<text class="ar tl" transform="translate(1614.5 81.6) rotate(20.5)" y="3.9">0</text>
<text class="ar tl" transform="translate(1633.6 89.3) rotate(23.5)" y="3.9">50</text>
<text class="ar tl" transform="translate(1652.3 98) rotate(26.5)" y="3.9">100</text>
<text class="ar tl" transform="translate(1670.6 107.7) rotate(29.4)" y="3.9">150</text>
<text class="ar cl" transform="translate(1658.4 77.6) rotate(26)" y="7">chr18</text>
<text class="ar tl" transform="translate(1711.7 134.4) rotate(36.5)" y="3.9">0</text>
<text class="ar tl" transform="translate(1728 147.1) rotate(39.5)" y="3.9">50</text>
<text class="ar tl" transform="translate(1743.6 160.7) rotate(42.5)" y="3.9">100</text>
<text class="ar tl" transform="translate(1758.4 175) rotate(45.5)" y="3.9">150</text>
<text class="ar cl" transform="translate(1755.2 142.9) rotate(42)" y="7">chr19</text>
<text class="ar tl" transform="translate(1791 212.7) rotate(52.7)" y="3.9">0</text>
<text class="ar tl" transform="translate(1803.1 229.4) rotate(55.7)" y="3.9">50</text>
<text class="ar tl" transform="translate(1814.3 246.7) rotate(58.7)" y="3.9">100</text>
<text class="ar cl" transform="translate(1821.7 219.6) rotate(56)" y="7">chr20</text>
<text class="ar tl" transform="translate(1834.1 283.6) rotate(64.7)" y="3.9">0</text>
<text class="ar tl" transform="translate(1842.4 302.5) rotate(67.7)" y="3.9">50</text>
<text class="ar tl" transform="translate(1849.8 321.8) rotate(70.7)" y="3.9">100</text>
<text class="ar cl" transform="translate(1863.1 297.6) rotate(68.2)" y="7">chr21</text>
<text class="ar tl" transform="translate(1861.8 363.6) rotate(77)" y="3.9">0</text>
<text class="ar tl" transform="translate(1866 383.8) rotate(80)" y="3.9">50</text>
<text class="ar tl" transform="translate(1869 404.2) rotate(83)" y="3.9">100</text>
<text class="ar cl" transform="translate(1887.9 387.8) rotate(81)" y="7">chr22</text>
<path class="ln" d="M1819.3 482.3L1819.7 482.9L1819.6 483.4L1820.6 484.1L1820.3 484.6L1820.3 485.2L1819.4 485.6L1820.1 486.2L1820.5 486.8L1820.2 487.3L1820.3 487.9L1820.7 488.5L1820.9 489.1L1819.4 489.5L1822.1 490.3L1821.4 490.8L1821.7 491.4L1820.4 491.8L1819.8 492.3L1819.6 492.8L1820.7 493.5L1820.2 494L1820.4 494.5L1820.1 495.1L1819.8 495.6L1819.8 496.1L1818.7 496.5L1819.3 497.2L1819.8 497.8L1818.6 498.2L1818.4 498.7L1818.1 499.2L1818.2 499.8L1817.9 500.3L1818 500.9L1821.2 501.9L1821.1 502.4L1819.4 502.7L1818.7 503.2L1817.8 503.6L1818.3 504.2L1819.1 504.9L1820.2 505.6L1819.9 506.1L1815.9 506.1L1819.8 507.2L1813.2 506.7L1821.5 508.6L1819.1 508.8L1818 509.2L1819.5 510L1824.3 511.3L1813.2 510L1816.8 511.2L1816.5 511.7L1817.1 512.3L1815.8 512.7L1815.3 513.1L1816.2 513.9L1816.8 514.5L1815.6 514.9L1817.9 515.8L1816.9 516.2L1816.1 516.6L1816.1 517.2L1816.4 517.8L1817.4 518.5L1816.9 519L1816.5 519.5L1816.8 520.1L1815.5 520.4L1815.6 521L1815.3 521.5L1814.8 521.9L1814.7 522.5L1814.5 523L1814.2 523.5L1814.8 524.2L1814.4 524.6L1816.5 525.7L1815.3 526L1814 526.2L1814.5 526.9L1813.8 527.3L1812.6 527.6L1814.3 528.6L1813.6 529L1813.3 529.4L1813.9 530.1L1813.4 530.6L1813.2 531.1L1814.4 532L1813.1 532.2L1813.4 532.9L1813.2 533.4L1812.9 533.9L1812 534.2L1811.9 534.7L1811.4 535.2L1811.3 535.7L1809.8 535.9L1811.6 536.9L1810.5 537.2L1811.2 538L1811.6 538.6L1810.9 539L1812 539.8L1812.7 540.6L1811.7 540.9L1810.4 541.1L1810.9 541.8L1811.9 542.7L1811.3 543.1L1810.2 543.4L1811.9 544.4L1809.8 544.4L1808.8 544.7L1808.5 545.1L1809.3 545.9L1809.4 546.5L1810.1 547.3L1809 547.6L1808.5 548L1807.3 548.2L1809 549.3L1806.3 549.1L1807.1 549.9L1808.8 550.9L1808 551.3L1806.9 551.5L1807.6 552.3L1810.5 553.7L1810.3 554.3L1805.3 553.3L1805.2 553.8L1811.9 556.5L1808.5 556L1807.5 556.3L1806.3 556.5L1808.9 557.9L1808.4 558.3L1807.2 558.5L1803.9 558L1807.1 559.6L1807.3 560.2L1807.3 560.8L1810.2 562.3L1803 560.6L1802.4 560.9L1801.3 561.2L1802.3 562.1L1802.9 562.8L1803.7 563.7M1791.9 593.4L1792.3 594.2L1791.7 594.5L1790.2 594.4L1790.3 595.1L1791.2 596.1L1790.4 596.3L1790.1 596.8L1790.3 597.5L1790.2 598L1789.6 598.4L1790.2 599.3L1790 599.7L1788.2 599.5L1788.6 600.3L1788.1 600.7L1789.4 601.9L1788.9 602.3L1788.4 602.6L1787.7 602.9L1787.2 603.2L1786.7 603.6L1787.9 604.8L1786.8 604.9L1786 605.1L1786.5 605.9L1786.6 606.6L1785.9 606.8L1784.9 606.9L1785.9 608.1L1786 608.7L1783.7 608.2L1783.5 608.7L1785.4 610.3L1783.9 610.1L1782.6 610L1783.6 611.2L1783.1 611.5L1783.6 612.4L1781.7 612L1783.2 613.4L1783 613.9L1782 614L1781.4 614.3L1781.9 615.2L1781 615.3L1781.5 616.2L1780.6 616.4L1780.8 617.1L1779.2 616.9L1779.2 617.5L1778.2 617.5L1778.7 618.4L1778.6 619L1778.6 619.6L1778.7 620.3L1777.1 620L1777.7 621L1777.9 621.7L1776.8 621.7L1777.1 622.5L1775.4 622.2L1775.6 622.9L1775.5 623.4L1775 623.8L1776.4 625.2L1776.3 625.8L1775.8 626.2L1775.1 626.4L1776 627.5L1775.7 628L1775.1 628.2L1774.3 628.4L1773.7 628.7L1773.3 629.1L1773.3 629.7L1772.1 629.6L1772.5 630.5L1773 631.4L1772.5 631.8L1771.3 631.7L1771.6 632.5L1770.6 632.6L1769.7 632.6L1772.7 635.1L1770.6 634.4L1768.6 633.9L1766.1 632.9L1767.3 634.3L1766.6 634.5L1759.1 630.5L1757.7 630.2L1770 638.6L1763.5 635.1L1757.5 631.9L1767.2 638.7L1759.8 634.6L1771.2 642.6L1763.8 638.5L1763.9 639.2L1763.8 639.8L1764.6 640.9L1763.5 640.8L1763.9 641.7L1765 643.1L1765.5 644.1L1765.7 644.9L1765.3 645.3L1764.3 645.3L1764 645.7L1763.9 646.3L1762.7 646.2L1762.9 647L1762.7 647.5L1762.2 647.8L1761.7 648.2L1761.8 648.9L1760.6 648.7L1759.8 648.8L1760.3 649.8L1760.4 650.6L1759.2 650.4L1759.6 651.3L1759.5 651.9L1759 652.2L1759.1 652.9L1758.8 653.4L1758.4 653.8L1758.4 654.5L1757.5 654.5L1756.3 654.3L1756.7 655.2L1756.9 656.1L1756.3 656.3L1756.3 657L1755.8 657.3L1754.8 657.3L1753.7 657.1L1753.8 657.9L1753.6 658.4L1753.8 659.2L1754.7 660.6L1752.8 659.8L1752.4 660.2L1753.2 661.5L1753.3 662.2L1752.2 662.1L1751.8 662.5L1751.6 663.1L1752.3 664.2L1750.8 663.8L1749.9 663.7L1750.4 664.9L1749.4 664.7L1749.3 665.3L1750 666.6L1749 666.5L1748.5 666.9L1748.2 667.3L1747.2 667.2L1747.4 668L1747.4 668.7L1745.7 668.1L1745.7 668.7L1745.5 669.3L1746 670.4L1746.3 671.4L1745.3 671.2L1747.6 673.8L1743.2 670.9L1743.4 671.8L1745 673.8L1743.7 673.5L1741.9 672.7L1742 673.5L1742.1 674.3L1741.8 674.7L1743.6 677L1737.8 672.8L1740.1 675.5L1739.5 675.6L1739.5 676.3L1742.7 679.7L1742.2 680L1741.2 679.9L1736 676.2L1738.1 678.7M1716.5 700.2L1717 701.5L1717.5 702.8L1718.1 704.2L1716 702.8L1716.4 704L1715.5 704L1715.5 704.7L1714 703.9L1714.8 705.6L1714.4 706L1714.2 706.5L1712.6 705.7L1712.5 706.3L1711.7 706.2L1711.6 707L1711.3 707.5L1711 707.9L1710.1 707.8L1709.7 708.1L1709.7 708.9L1709.4 709.4L1709.2 710L1708.1 709.6L1708.6 711L1707.9 711.1L1706.9 710.7L1706.2 710.8L1706.4 711.8L1705.6 711.8L1704.9 711.7L1704.6 712.2L1704.1 712.5L1703.7 712.9L1702.5 712.4L1702.9 713.6L1701.7 713.1L1703.1 715.6L1702.3 715.4L1702.1 716.1L1701.2 715.8L1701.2 716.7L1700.1 716.2L1699.9 716.8L1699.4 717.2L1698.7 717.2L1698.2 717.5L1697.7 717.6L1697.8 718.6L1696.7 718.2L1697.4 719.8L1696.6 719.8L1695.8 719.6L1695.3 719.9L1694.7 720.1L1694.6 720.7L1694 720.9L1694.2 722L1693.3 721.7L1692.7 721.9L1692.4 722.4L1693.7 724.8L1692.2 723.9L1693 725.7L1693.1 726.8L1691.2 725.3L1691.3 726.3L1690.9 726.6L1692.1 729.1L1689.1 726.2L1691.5 730.2L1691.6 731.2L1688.4 727.9L1685.9 725.5L1681.7 721.1L1686.6 728.2L1684.9 727L1684.8 727.7L1687.1 731.7L1683.6 728L1680.9 725.3L1681.7 727.3L1680.9 727L1688.3 737.9L1693.7 746.2L1687.3 738.5L1681.8 732L1678.7 728.7L1682.6 734.9L1681.7 734.6L1677.6 729.9L1682.4 737.5L1677.3 731.4L1678.6 734.1L1677 732.7L1679 736.4L1678.3 736.4L1678.6 737.8L1675.2 734L1675.6 735.6L1677.1 738.6L1674.9 736.4L1674.6 737L1672.7 735.1L1672.3 735.6L1672.7 737L1672.9 738.4L1672.6 738.9L1671.2 737.9L1671.3 739L1670.1 738.1L1670.9 740.2L1669.3 738.9L1668.8 739.2L1668.7 740L1668.6 740.8L1667.7 740.4L1667 740.4L1666.6 740.8L1666.1 740.9L1666.1 742L1665.8 742.6L1665.3 742.8L1664.2 742L1663.8 742.5L1663.6 743.2L1663.3 743.6L1662.8 744L1661.7 743.2L1662 744.7L1661.5 744.9L1661.4 745.8L1661.2 746.5L1660.7 746.7L1659.7 746.2L1659.5 746.9L1658.8 746.8L1657.7 746.1L1657.3 746.5L1657.2 747.3L1657.3 748.5L1656.6 748.4L1655.6 747.9L1655.4 748.5L1655.2 749.3L1654.5 749.2L1654.7 750.6L1652.8 748.5L1652.3 748.7L1653 751L1652.4 751.1L1652.1 751.7L1651.1 751L1650.4 750.9L1649.8 750.9L1650 752.4L1649.4 752.3L1649.2 753.1L1648.5 753.1M1621.7 768.5L1621.3 768.9L1620.6 768.7L1619.5 767.5L1619.6 769.2L1618.1 767.1L1618.3 768.9L1618 769.5L1617.7 770.2L1617.5 771.2L1616.4 770L1615.6 769.5L1615 769.5L1614.6 769.9L1614.2 770.6L1613.8 770.9L1613.5 771.5L1612.1 769.7L1612.2 771.3L1612 772.2L1611.5 772.5L1610.4 771.5L1610.2 772.3L1609.8 772.7L1609.3 772.9L1608.5 772.5L1608.1 773L1607.1 771.9L1606.5 771.8L1606.1 772.3L1605.7 772.9L1606.1 775.3L1605.5 775.3L1603.5 771.7L1602.6 770.9L1602.7 772.7L1602.4 773.3L1601.3 772.1L1602 775.3L1603 779.3L1601.3 776.7L1601.9 779.7L1600.7 778L1599.6 776.7L1598.4 775.2L1598.1 775.9L1598.3 778.1L1597.3 776.9L1596.9 777.3L1596.4 777.6L1596.5 779.5L1595.3 777.8L1594.9 778.3L1594.6 779.1L1593.8 778.5L1593.4 779L1593.2 780L1592.3 779.1L1591.9 779.7L1591.5 780.2L1591.2 780.9L1590.8 781.5L1590.6 782.5L1589.4 780.7L1589 781.3L1588.1 780.3L1587.2 779.5L1587.1 780.8L1586.9 782L1586.4 782.1L1585.2 780.3L1584.5 780L1584.4 781.4L1583.9 781.5L1583.5 782.1L1583.1 782.6L1582.4 782.4L1581.8 782.3L1581.8 784.1L1580.8 782.7L1580.7 784.3L1580.2 784.4L1579.4 783.7L1579 784.1L1578.3 783.7L1577.8 784.2L1576.8 782.5L1576.4 783.2L1576.2 784.3L1575.8 785L1575.2 785L1574.3 783.8L1574.1 785.2L1572.8 782.6L1572.3 782.8L1572 783.7L1571.7 784.6L1571.4 785.7L1570.9 785.8L1570.2 785.4L1569.8 786.1L1569.2 786L1568.7 786L1568.4 786.9L1568 787.5L1567.2 786.9L1566.7 787.2L1566.2 787.5L1565.3 786.1L1564.7 785.9L1564.4 787L1563.6 786.2L1563.5 787.8L1563 788.2L1562.6 788.5L1561.9 788.1L1561.2 787.7L1560.8 788.5L1560.2 788.1L1559.8 788.9L1558.9 787.5L1558.8 789.4L1558.2 789.1L1557.7 789.3L1556.9 788.4L1556.7 789.9L1555.9 788.9L1555.4 789.2L1554.7 788.4L1553.9 787.7L1553.6 788.6L1553.3 789.9L1552.9 790.3L1552.6 791.6L1552 791.4L1552.1 794.4L1551.2 793L1551 794.4L1549.4 789.8L1548.6 788.5L1547.8 787.4L1547.4 788.5L1547.6 792.1L1547 791.9L1546.8 793.5L1546.1 792.9L1545.4 792.1L1544.7 791.1M1515.1 797.4L1514.5 796.8L1514.1 798.4L1513.5 798.4L1513.1 799.7L1512.5 798.9L1511.8 797.9L1511.2 797.6L1510.8 798.3L1510.2 798.1L1509.6 797.9L1509.1 798L1508.5 797.9L1508 798.7L1507.4 797.6L1506.9 797.8L1506.3 798L1505.9 799L1505.3 798.8L1504.8 799.7L1504.2 798.8L1503.6 798.8L1503.1 798.4L1502.5 798.7L1502 798.8L1501.4 798.5L1500.8 798.2L1500.3 798.4L1499.9 799.8L1499.3 798.9L1498.7 798.1L1498.1 797.9L1497.6 798.7L1497 798L1496.5 798.2L1495.9 798.1L1495.4 799.4L1494.9 798.8L1494.4 800.2L1493.9 801.1L1493.3 799.9L1492.6 797.7L1492 797.4L1491.7 802.5L1491.2 803.8L1490.4 797.5L1489.9 799.1L1489.3 797.2L1489 802.6L1488.3 800.4L1487.7 797.2L1487.1 797.2L1486.6 796.8L1486 797.1L1485.5 798.4L1485 798L1484.5 799.4L1483.9 798.2L1483.4 799L1482.8 797.7L1482.3 798.3L1481.7 799.3L1481.2 798.8L1480.6 799.7L1480.1 799.4L1479.5 800.6L1479 799.9L1478.4 798.9L1477.9 798.6L1477.3 799.5L1476.8 800.7L1476.2 800.3L1475.7 798.4L1475.2 798.4L1474.6 797.6L1474.1 797.7L1473.5 798.8L1473 797.4L1472.4 797.9L1471.9 800.4L1471.3 799.3L1470.8 799.2L1470.2 798.7L1469.7 798.9L1469.1 801.3L1468.6 798.5L1468.1 798.3L1467.5 797.6L1466.9 801.4L1466.5 793.8L1465.9 796.3L1465.1 804.9L1464.6 804.7L1464.1 802.3L1463.6 800L1463.2 796.2L1462.5 799.8L1461.9 801L1461.4 800.7L1460.8 800.7L1460.4 798.7L1459.8 798.6L1459.4 797.1L1458.8 797.4L1458.2 797.7L1457.8 796.3L1457.1 797.9L1456.6 797.8L1456.1 797.5L1455.6 796.9L1455 797.9L1454.4 797.4L1453.8 798.6L1453.3 798L1452.8 797.7L1452.2 798L1451.6 798.9L1451.1 798.2L1450.6 798.1L1450 797.8L1449.6 796.9L1448.9 798.2L1448.4 797.4L1447.8 798.3L1447.2 798.3L1446.8 797.5L1446.1 798.7L1445.7 797.4L1445.3 795.8L1444.6 796.8L1444.1 796.9L1443.5 797L1443 796.4L1442.4 796.7L1441.9 796.8L1441.3 797.1L1440.7 797.5L1440.2 797.5M1410.2 793.4L1409.5 794.2L1409.2 793L1408.5 793.3L1407.9 793.7L1407.5 793L1407.1 792.4L1406.2 793.6L1405.9 792.4L1405.6 791.4L1404.8 792.4L1404.1 793L1403.8 792.1L1403.3 791.4L1402.6 792.1L1402.1 792L1401.8 790.9L1401.1 791.6L1400.7 790.7L1400.2 790.5L1399.7 790.1L1399.1 790.5L1398.3 791.3L1397.9 790.9L1397.5 790.1L1397.1 789.5L1396.6 789L1395.8 790L1395.5 788.9L1394.7 790.1L1394 790.6L1393.7 789.3L1393.4 788.5L1392.8 788.5L1392.3 788.4L1391.4 789.5L1390.9 789.5L1390.5 788.9L1389.5 790.4L1389.2 789.3L1388.7 789L1388.3 788.3L1387.9 787.7L1386.7 790.1L1386.9 787.4L1386.4 787.2L1385.7 787.7L1385.2 787.4L1384.5 787.8L1385 783.8L1385.4 780.5L1383.8 784.3L1381.5 790.5L1383.1 782.8L1382 784.5L1381.6 783.9L1381.8 781.4L1380.6 783.6L1378.6 788.3L1379.1 784.7L1377.4 788.6L1378.3 783.6L1377.4 784.8L1376.1 787.3L1375.6 787.1L1375.3 786.2L1374.2 787.9L1373.6 787.8L1373 788L1373 786.2L1373.3 783.4L1373 782.4L1372.1 783.4L1371.3 784.2L1371.6 781.4L1370.6 782.8L1369.8 783.3L1369 784.2L1368.7 783.4L1368.5 782.2L1368.2 781.2L1367.4 782.1L1366.5 782.9L1366 782.6L1365.5 782.4L1365.2 781.6L1364.8 781.2L1364.3 780.9L1363.3 782.2L1363.3 780.4L1362.6 780.6L1362.2 780.2L1362 779.2L1361.1 780L1360.3 780.6L1359.9 780.3L1359.9 778.4L1358.8 780L1358.6 779L1357.9 779.2L1357.6 778.6L1357.3 777.8L1357 777.1L1356.5 776.9L1355.6 777.7L1355 777.6L1354.6 777.1L1354.3 776.5L1353.9 775.9L1352.7 777.6L1352.4 776.7L1352.4 775.3L1351.3 776.7L1350.8 776.4L1350.8 774.9L1350.1 775.2L1350 774L1349.1 774.8L1349 773.6L1348.1 774.2L1347.6 774L1347.4 773.1L1346.8 773.2L1346 773.7L1345.3 774L1345.2 772.7L1344.9 772L1344 772.7L1343.2 773.2L1342.9 772.6L1342.5 772L1342.3 771.3L1341.7 771.1L1341.2 770.9L1340.7 770.8L1340.4 770.1L1339.7 770.3L1338.6 771.4L1338.9 769.4L1338.6 768.8L1337.8 769.2L1337.2 769.1L1336.9 768.5L1336.3 768.5L1336.1 767.8L1335.2 768.4L1334.5 768.6M1305.8 756.2L1305.9 754.9L1305.6 754.4L1304.9 754.5L1304.7 753.7L1303.6 754.5L1303.8 753.2L1302.8 753.8L1302.7 752.9L1301.6 753.7L1301.6 752.6L1301.1 752.3L1300.1 753L1300 752L1299.5 751.9L1298.6 752.3L1298.4 751.5L1298.2 750.9L1297.6 750.8L1297.2 750.3L1297.1 749.5L1296.5 749.4L1296.3 748.6L1296.3 747.7L1294.6 749.4L1294 749.2L1294.6 747.2L1293.3 748.4L1293.1 747.6L1292.2 748.1L1292.3 746.8L1292.2 746L1291.7 745.8L1291.4 745.2L1290.2 746L1289.9 745.5L1288.9 746.1L1288.4 745.8L1288.9 744L1288.2 744.1L1287.6 744L1287.5 743.1L1286.5 743.7L1285.9 743.6L1286.2 742.2L1286.1 741.3L1285.3 741.6L1285.3 740.6L1284.5 740.7L1284.3 740.1L1283.6 740.2L1282.8 740.3L1282.1 740.5L1282.6 738.7L1281.3 739.7L1280.5 739.8L1280.5 739L1280.5 737.9L1280 737.7L1279.6 737.4L1278.8 737.6L1278.2 737.4L1278 736.8L1277.4 736.7L1276.5 736.9L1276.2 736.4L1275.7 736.3L1275 736.3L1274.6 735.8L1274.2 735.5L1273.5 735.6L1274.1 733.8L1273.9 733.2L1273.8 732.4L1272.7 732.9L1272.3 732.6L1271.2 733.2L1271.2 732.3L1271.1 731.4L1270.5 731.3L1270.8 730L1268.8 731.7L1269 730.6L1269.9 728.5L1269.1 728.7L1268.3 728.8L1266.4 730.4L1268.4 726.9L1266.1 729L1266 728.2L1266.5 726.6L1261.1 732.8L1264.6 727.3L1269.9 719.7L1265.6 724.2L1265.2 723.8L1264.7 723.6L1262.9 725.1L1262.1 725.2L1263.6 722.5L1263 722.3L1263 721.5L1262.4 721.3L1262.2 720.8L1259.8 722.9L1260.1 721.6L1259.7 721.2L1259.6 720.5L1258.6 720.8L1258 720.8L1257.3 720.7L1257.1 720.1L1257.1 719.2L1257.4 718.1L1255.3 719.7L1255.3 718.9L1254.6 718.8L1254.7 718L1254 718L1252.9 718.4L1251.8 718.8L1251.8 718L1251.1 718L1251 717.2L1250.5 717L1250.4 716.3L1250.3 715.5L1249.9 715.1L1249.6 714.6L1248.1 715.6L1248.6 714.2L1249 712.8L1248 713.2L1247.9 712.5L1247.2 712.4L1247.1 711.7L1246.1 712.1L1245.7 711.7L1245.7 710.9L1245.8 709.9L1245.1 709.8L1245.4 708.7L1244.6 708.8L1244.2 708.4L1243.7 708.2L1242.2 709L1242.4 708L1242.1 707.5L1240.9 708L1240.8 707.3L1240.8 706.5L1240.8 705.7L1240.6 705.1L1239.9 705.1L1239 705.2L1238.7 704.8L1237.8 704.9M1218.3 681.4L1217.4 681.4L1217.9 680.2L1216.5 680.7L1214.5 681.8L1214.1 681.4L1213.2 681.5L1213 680.9L1213.1 680L1211.3 680.9L1210.4 681L1214.9 676.4L1214.9 675.7L1216.4 673.6L1214.9 674.2L1214.5 673.8L1211.9 675.3L1209.8 676.4L1210.2 675.3L1208.7 675.8L1206.5 677L1209.1 674.1L1208.2 674.1L1207.9 673.6L1207.5 673.3L1209.5 670.9L1208.3 671.2L1207.6 671.1L1207.8 670.2L1208.6 668.9L1206.8 669.7L1207.1 668.7L1207.4 667.7L1206.5 667.8L1205.5 667.8L1203.9 668.4L1204.2 667.5L1202.8 667.9L1203.6 666.6L1201.9 667.2L1202.8 665.8L1202.6 665.2L1202 665L1200.5 665.5L1201.6 664L1202 663L1202.5 661.9L1200.4 662.9L1199.2 663L1200.5 661.4L1201.1 660.3L1199 661.1L1198.7 660.7L1197.9 660.6L1198.7 659.3L1198.5 658.8L1197.2 659L1196.9 658.6L1195.9 658.7L1196.8 657.3L1196.8 656.6L1195.3 657L1195.4 656.3L1195.4 655.6L1194.8 655.3L1194 655.3L1193.4 655L1194.1 653.9L1193.8 653.4L1195.3 651.7L1193.4 652.4L1192.3 652.4L1192.2 651.8L1192.5 651L1191.5 651L1189.5 651.7L1190.6 650.3L1191.8 648.8L1190.8 648.8L1192.5 647L1193.2 645.9L1190.4 647.1L1190.8 646.2L1189.4 646.5L1188.6 646.4L1188.4 645.8L1187.6 645.7L1185.9 646.2L1186.9 644.9L1187.5 643.8L1188.2 642.7L1186.7 643L1186.9 642.2L1185.5 642.5L1185.9 641.6L1186.6 640.4L1183.8 641.6L1184 640.8L1183.3 640.7L1183.9 639.6L1182.7 639.7L1183.4 638.6L1182.7 638.4L1182.9 637.6L1182.5 637.2L1181.2 637.4L1182.6 635.9L1181.7 635.8L1180.9 635.6L1181 634.9L1178.9 635.6L1179.3 634.7L1179.5 633.9L1180.1 632.9L1180.1 632.3L1179.3 632.1L1179.5 631.4L1178.2 631.5L1177.1 631.5L1177.4 630.7L1178 629.7L1177.4 629.4L1176.6 629.2L1176.1 628.9L1175.9 628.4L1177.3 627L1176 627.1L1176.3 626.3L1176 625.8L1175.7 625.3L1174.4 625.4L1174.4 624.8L1175 623.9L1174.4 623.6M1160.8 596.5L1159.9 596.3L1158.8 596.2L1159.2 595.5L1158.9 595L1158 594.8L1158.1 594.1L1157.5 593.8L1158.9 592.6L1159.7 591.6L1159.4 591.2L1158 591.2L1158.2 590.5L1159.1 589.5L1156.5 590L1155.8 589.7L1156.8 588.7L1157.1 588L1157.1 587.4L1155.9 587.3L1155.5 586.8L1155.5 586.3L1154.5 586.1L1155.6 585L1156.1 584.2L1155.3 584L1154.9 583.5L1154.6 583.1L1154.1 582.7L1155.2 581.6L1153.2 581.9L1154.9 580.6L1153.7 580.5L1153.2 580.1L1152.6 579.8L1152.6 579.1L1153.3 578.3L1153 577.8L1153.6 577L1152.8 576.7L1152.5 576.3L1153.5 575.3L1150.6 575.8L1151.6 574.8L1151 574.5L1150.1 574.2L1150.7 573.4L1151 572.7L1151.6 571.9L1151.4 571.4L1151.2 570.9L1150.6 570.5L1149.5 570.3L1149.5 569.8L1148.4 569.6L1148.7 568.9L1148.8 568.2L1151.3 566.8L1149.8 566.7L1148.9 566.5L1149.8 565.6L1148.9 565.3L1149.1 564.7L1148.6 564.3L1148.1 563.9L1148.2 563.2L1147.8 562.8L1146.8 562.6L1146.3 562.2L1148.6 560.8L1144.3 561.6L1145.6 560.7L1144.5 560.4L1137.2 562.2L1134.4 562.5L1130.3 563.2L1141.6 559L1142.1 558.3L1142 557.8L1143.7 556.6L1145.2 555.6L1142.3 555.9L1140.8 555.8L1138.2 556L1143.5 553.8L1143.4 553.3L1145.1 552.2L1144.9 551.7L1146.8 550.5L1143 551.1L1144.9 550L1144 549.7L1145.2 548.8M1133.8 517.3L1134.6 516.6L1135 516L1134.8 515.5L1134.1 515L1134.2 514.4L1134.2 513.9L1134.3 513.3L1134.7 512.7L1134.3 512.2L1133.1 511.8L1133.7 511.2L1133.5 510.6L1133.7 510.1L1133.3 509.6L1131.1 509.4L1132.7 508.6L1132.9 508L1133.1 507.4L1132.4 506.9L1133.6 506.2L1133.3 505.7L1133.4 505.1L1132.2 504.7L1133.1 504L1132.8 503.5L1133.8 502.8L1133.1 502.4L1134 501.7L1133.6 501.2L1133.4 500.6L1132.6 500.2L1132 499.7L1132.3 499.1L1132.7 498.5L1131.2 498.2L1132.6 497.4L1131.7 497L1131.1 496.5L1132.7 495.8L1134.5 495L1133.5 494.6L1131 494.3L1130 493.9L1129.5 493.4L1129.1 492.9L1131.2 492.1L1135.1 491.1L1132 490.9L1132 490.3L1133.9 489.6L1131.8 489.2L1133.8 488.5L1130.1 488.3L1133.2 487.4L1131.9 487L1130.6 486.6L1130.6 486L1131.6 485.4L1132.9 484.7L1133.4 484.1L1131.9 483.7L1131.3 483.2L1132 482.6L1131.6 482.1L1132.2 481.5L1130.1 481.1L1129.6 480.6L1129.5 480.1L1131.8 479.3L1131.1 478.8L1129.6 478.4L1129.5 477.9L1130.1 477.3L1130.9 476.7L1129.9 476.2L1131.2 475.5L1130.3 475L1131.8 474.4L1130.6 473.9L1131 473.3L1131.4 472.8L1130.8 472.3L1130.2 471.7L1130.9 471.2L1130 470.7L1131.8 470L1131.1 469.5L1130.2 469M1128 438.1L1128.8 437.6L1127.5 437L1126.4 436.4L1127.4 435.9L1127.1 435.3L1124.2 434.6L1128.5 434.3L1124.8 433.5L1129.2 433.2L1131.8 432.8L1132.8 432.3L1131 431.7L1129.9 431.1L1130.4 430.5L1130.7 430L1129.9 429.4L1129 428.8L1128.5 428.2L1129.1 427.7L1129 427.1L1130.1 426.7L1129.2 426L1129.4 425.5L1130.2 425L1129.7 424.4L1129.5 423.9L1131.4 423.5L1129.2 422.7L1129.8 422.2L1129 421.6L1131 421.2L1130.7 420.7L1131.2 420.2L1130.5 419.5L1131.3 419.1L1130.1 418.4L1131.6 418L1132.2 417.5L1132.4 417L1131.8 416.4L1131.7 415.8L1131.5 415.2L1130.5 414.6L1131.1 414.1L1131.6 413.6L1130.5 412.9L1132 412.5L1130.4 411.8L1131.2 411.3L1131.7 410.8L1131.6 410.3L1131.8 409.7L1129.9 408.9L1132.4 408.7L1133.3 408.3L1132.1 407.5L1133.1 407.1L1132.6 406.5L1131.7 405.8L1131.6 405.3L1133.5 405L1133.1 404.4L1133.6 403.9L1133.6 403.3L1134 402.8L1135.7 402.5L1136.2 402.1L1135.3 401.4L1133.2 400.5L1135.1 400.2L1136.4 399.9L1140.3 400L1136.6 398.8L1131 397.4L1133.8 397.3L1136.6 397.2L1138.5 396.9L1135.1 395.8L1137 395.6L1134.6 394.6L1134 394L1136.1 393.8L1134.6 392.9L1136.4 392.7L1136.7 392.2L1135.1 391.4L1135.7 390.9L1136.8 390.6L1135.1 389.7L1134.7 389.1L1136.5 388.8L1136.1 388.2L1135.5 387.5L1135 386.9L1137.2 386.7L1136.8 386.1L1138.4 385.9L1137.3 385.1L1137.3 384.5L1137.7 384.1L1137 383.4L1137.6 382.9L1137.6 382.4L1137.9 381.9M1145.2 351.8L1144.8 351.1L1144.9 350.5L1145.5 350.1L1144.5 349.2L1144.1 348.6L1144.8 348.2L1144.9 347.6L1145.4 347.2L1144.9 346.5L1144.3 345.7L1144 345L1144.5 344.6L1145.2 344.3L1146.3 344.1L1146.8 343.6L1147.9 343.4L1146.2 342.3L1146.9 342L1148.6 342L1146.1 340.5L1147.4 340.4L1144.2 338.7L1147.9 339.4L1146.5 338.3L1145.7 337.5L1151.4 338.9L1148 337.1L1144.7 335.4L1144.6 334.7L1147.9 335.3L1152.9 336.5L1152.2 335.7L1151.2 334.8L1152.6 334.7L1152 333.9L1150.4 332.7L1151.5 332.6L1151.9 332.1L1151.4 331.3L1151.7 330.9L1151.6 330.3L1152.2 329.9L1151.1 328.9L1152.9 329L1152.8 328.4L1152.5 327.7L1152.6 327.1L1152.4 326.5L1151.7 325.6L1153.1 325.5L1153.4 325.1L1153.7 324.6L1154.8 324.5L1154.8 323.9L1156 323.8L1155.7 323.1L1155.1 322.2L1155.5 321.8L1154.7 320.9L1155.5 320.6L1156.2 320.3L1156.1 319.7L1156.2 319.1L1156 318.4L1156.7 318.2L1156 317.3L1156.9 317L1156.7 316.4L1157.2 316L1157.5 315.5L1157.3 314.8L1158.4 314.7L1159 314.4L1158.8 313.7L1158.9 313.1L1159.2 312.7L1159.4 312.2L1159.9 311.8L1160.2 311.3L1159.4 310.4L1161.3 310.6L1160.6 309.7L1161.9 309.7L1162 309.1L1161.1 308.1L1161.3 307.6L1161.9 307.3L1161.3 306.4L1162.4 306.3L1162.4 305.7L1162.6 305.2L1162.8 304.7L1162.2 303.8L1162.8 303.5L1162.6 302.8L1163.9 302.8L1163.9 302.2L1163.5 301.4L1165 301.5L1165.1 301L1165.2 300.4L1166 300.2L1166.1 299.6L1166 298.9L1166.2 298.5L1164.9 297.2L1167.4 297.8L1167.2 297.1L1167.9 296.9L1167.8 296.2L1168.5 295.9L1167.7 294.9L1168.6 294.7L1167.9 293.8L1168 293.2L1168.8 293M1184.9 266.1L1185 265.5L1184.6 264.6L1185.4 264.4L1185.5 263.9L1187.2 264.4L1186.6 263.3L1186.9 262.9L1187.7 262.7L1187.2 261.7L1187.5 261.3L1187.5 260.6L1187.2 259.8L1188.4 259.9L1186.7 258.1L1189 259L1188.8 258.2L1189.7 258.1L1190.7 258.2L1190.1 257L1189.8 256.2L1190.9 256.2L1190 255L1192.2 255.9L1192.5 255.4L1192.4 254.7L1193.1 254.5L1193.6 254.1L1194.2 253.9L1194 253.1L1193.1 251.8L1193.3 251.3L1194.9 251.7L1194.8 251L1194 249.7L1195.4 250.1L1195.6 249.6L1195.3 248.7L1196.8 249.1L1198.5 249.6L1198.3 248.8L1198 247.9L1198.8 247.8L1197.1 245.9L1198.1 246L1197.1 244.5L1197.4 244.1L1198.9 244.5L1200.3 244.9L1199.7 243.7L1197.3 241.2L1196 239.5L1194.5 237.7L1200.4 241.5L1198.7 239.5L1204.1 243L1201.3 240.1L1202.4 240.3L1201.8 239.1L1198 235.4L1195.4 232.7L1203 237.9L1199.7 234.7L1207 239.7L1209.6 241.1L1206.6 238L1202.3 233.9L1206.3 236.4L1207.5 236.6L1210.5 238.3L1207.7 235.4L1207 234.1L1207.1 233.5L1207 232.7L1206.1 231.3L1207.8 231.9L1208.5 231.8L1210 232.3L1209.6 231.2L1210 230.9L1211.4 231.4L1210.6 230L1210.4 229.1L1210.2 228.2L1210.8 228L1211.9 228.2L1211.6 227.2L1211.3 226.2L1212.8 226.8L1212.1 225.5M1234.8 203.1L1235.2 202.7L1234.8 201.6L1235.6 201.6L1236.7 202L1237 201.5L1237 200.7L1236.4 199.3L1237.9 200.1L1239.1 200.6L1239.6 200.3L1239.6 199.5L1239.9 199L1240.7 199L1241.3 198.9L1240.4 197.1L1241.6 197.6L1242.3 197.6L1242.3 196.8L1244 197.9L1243.9 197L1244.2 196.4L1243.9 195.3L1245 195.8L1244.8 194.7L1244.9 194L1245.4 193.8L1245.6 193.1L1246.5 193.3L1248 194.2L1249.7 195.3L1248.7 193.4L1248.9 192.7L1249.6 192.7L1249 191.2L1248.9 190.3L1251.4 192.4L1251.9 192.1L1248.3 187.1L1250.2 188.5L1250.9 188.4L1251 187.7L1250.8 186.6L1251.5 186.6L1254 188.7L1254.2 188.1L1253.5 186.4L1253.3 185.3L1254 185.3L1255.4 186.2L1255 184.8L1256.8 186.1L1255.1 183.1L1254 180.9L1254.6 180.8L1258.9 185.3L1257.6 182.9L1258.9 183.5L1260.1 184.2L1259.6 182.7L1259.9 182.2L1261.5 183.3L1261.2 182L1260.9 180.9L1261.4 180.6L1262 180.4L1263.5 181.4L1263.2 180.2L1263.1 179.2L1264.6 180.2L1263 177.3L1265.9 180.1L1263.4 176.1L1264.6 176.7L1266.5 178.3L1266.8 177.8L1266.7 176.7L1266.5 175.6L1266.9 175.2L1267.8 175.5L1267.9 174.7L1269.1 175.4L1268.6 173.9L1270.2 175.1L1270.8 175L1271 174.3L1271.8 174.4L1272.6 174.6L1272.8 174.1L1272.1 172.1L1271.8 170.9L1273 171.5L1273.4 171.1L1274.3 171.5L1274.3 170.6L1274.6 170L1276 171L1277 171.5L1276.5 169.8L1277.1 169.8L1277.5 169.4L1278.2 169.5L1278.7 169.2L1278.3 167.7L1279.6 168.6L1280 168.3L1280.5 168L1280.5 167L1281 166.9M1308 151.6L1308.5 151.4L1308.3 149.9L1309.7 151.4L1309.7 150.2L1310.1 149.8L1310.3 149L1311.5 150.1L1311.8 149.4L1312.6 149.9L1312.8 149L1313.2 148.7L1312.8 146.7L1313.9 147.7L1314.3 147.2L1314.1 145.7L1314.8 145.9L1315.1 145.3L1316.2 146.3L1317 146.6L1315.8 143L1317 144.2L1320.1 149L1321.4 150.4L1318.7 143.8L1319.1 143.5L1317.2 138.6L1317.1 137.1L1319.5 140.6L1321.6 143.6L1323.7 146.7L1322.7 143.4L1323.7 144.2L1324.2 144L1324.5 143.4L1324.6 142.4L1324.6 141.1L1325.1 140.9L1325.9 141.2L1326.3 140.8L1326.5 140L1327.3 140.4L1327.2 138.9L1327.9 139.2L1328.8 139.9L1329.7 140.3L1330.5 140.8L1330.1 138.8L1330.9 139.2L1331.9 140L1331.8 138.4L1332.4 138.4L1332.8 138.1L1333 137.2L1333.7 137.5L1334.3 137.4L1334.9 137.4L1335 136.4L1335.3 135.6L1335.5 134.8L1336.3 135.3L1337.2 135.9L1337.2 134.6L1337.5 133.9L1338.6 134.9L1339.2 135.1L1339.2 133.6L1340.5 135.2L1340.6 134.1L1341.4 134.6L1341.2 132.7L1342 133.2L1342.6 133.3L1343 132.8L1343.5 132.7L1343.7 131.6L1344.3 131.7L1344.6 131L1345.2 131.1L1345.7 130.7L1346.6 131.6L1347.1 131.2L1347.3 130.3L1348.3 131.4L1347.9 129L1349 130.2L1349.1 128.9L1349.5 128.5L1350.1 128.6L1350.8 128.9L1351.3 128.7L1351.8 128.4L1352.1 127.5L1352.2 126.2L1353 127L1353.9 127.7L1354.3 127.2L1354.9 127.2L1355.2 126.6L1356 127.3L1356.7 127.5L1357.1 127.1L1357.9 127.5L1357.9 126L1358.4 125.6L1359 125.7L1359.8 126.6L1359.9 125.1L1360.4 124.8L1361.3 125.8L1361.6 125.1L1362 124.5L1362.5 124.2L1362.7 123.1L1363.2 122.8L1364.1 124L1364.8 124.2M1391.9 117.7L1392.1 116.1L1392.5 115.5L1393.2 116.1L1393.7 115.9L1394 114.9L1394.5 114.4L1395 114.5L1395.9 115.6L1396.3 115L1396.5 113.5L1397.1 113.8L1397.8 114.1L1398.1 113.1L1398.8 113.9L1399.1 112.5L1399.8 113.2L1400.7 114.6L1401 113.7L1401.6 113.6L1401.9 112.4L1402.7 113.5L1403.2 113.3L1403.8 113.7L1404.3 113.5L1404.6 112L1405.5 113.8L1406 113.4L1406.1 111.4L1407 113.1L1407.6 113.4L1408 112.5L1408.7 112.9L1409 111.9L1409.7 112.5L1410 111.2L1410.6 111.2L1411.2 111.5L1411.6 111L1412.4 112.3L1412.8 111.2L1413.2 110.3L1413.8 110.5L1414.5 111.4L1414.9 110.5L1415.6 111.4L1416.2 111.7L1416.8 111.8L1417 110.3L1417.6 110.3L1418.1 110.1L1418.6 109.8L1419.4 110.9L1419.9 110.8L1420.5 111.2L1421.1 111.2L1421.4 109.9L1422.1 110.7L1422.6 110.6L1423.1 110.1L1423.5 109.2L1424.2 109.8L1424.5 108.3L1425.1 108.6L1425.9 110.4L1426.4 110L1426.8 109L1427.4 109.6L1428.1 110.8L1428.6 110.3L1429.1 109.8L1429.7 110L1430.2 109.9L1430.7 109L1431.2 108.9L1432 111.1L1432.2 108.2L1432.6 107.1L1433.3 108.4L1433.5 105.5L1434.5 108.7L1434.8 107.2L1436.1 113L1436.8 115.1L1437 111.6L1437 107.3L1437.8 108.8L1438 106.3L1438.3 103.6L1439.7 112.2L1439.9 108.5L1440 103.9L1441.1 109.5L1441.5 107.8L1442 107.9L1442.4 105.9L1443 107L1443.7 108.3L1444.1 106.6L1444.8 107.9L1445.4 108.8L1446 109.9L1446.4 107.2L1446.9 107.6L1447.6 109.4L1448.1 108.4L1448.5 106.7L1449 106.7L1449.5 105.7L1450.2 107.5L1450.7 107.3L1451.2 106.1L1451.8 106.8L1452.4 108.3L1453.1 109.9L1453.6 108.8L1454 107.1L1454.6 108.3L1455.2 108.5L1455.7 107.8L1456.2 108L1456.7 107.5L1457.3 107.7L1457.8 107.7L1458.3 107L1458.9 107.1L1459.5 108.4L1460.1 109.1L1460.5 107.4L1461.1 107.2M1490.5 106.3L1491.1 105.9L1491.6 106L1492.2 105.6L1492.7 106.2L1493.3 105.8L1493.8 106.7L1494.4 105.8L1494.9 105.2L1495.5 105.1L1496 106.2L1496.4 107.7L1497 106.9L1497.7 105.6L1498.2 106.2L1498.6 107.4L1499.3 106.6L1499.8 107.3L1500.4 106.3L1500.9 106.6L1501.4 107L1502 106.7L1502.6 105.7L1503.1 106.7L1503.6 106.9L1504 109.5L1504.6 108.3L1505.2 107.4L1505.8 107.6L1506.3 107.9L1507.4 101.4L1507.8 103.6L1508 107L1508.3 110.3L1509.3 105.3L1509.5 108.6L1510.7 101.9L1510.5 109.9L1511.3 107.3L1511.8 107.2L1512.3 108L1512.7 109.9L1513.4 108.2L1513.7 110.2L1514.1 111.4L1514.9 109.7L1515.5 109L1516.1 108.8L1516.7 108.2L1517.4 107L1517.8 107.9L1518.3 108.7L1518.6 110.7L1519.5 108L1520.2 106.5L1520.7 106.8L1521 108.7L1521.6 108.8L1522 109.9L1522.7 108.5L1523.2 109.4L1523.7 109.6L1524.3 109.1L1524.7 110L1525 112.1L1525.7 110.8L1526.3 110.9L1526.8 111.2L1527.5 110.2L1528.2 109.3L1528.7 109.4L1529 111.1L1529.6 110.6L1530.6 108.2L1530.8 110.1L1531.2 111.1L1531.8 110.8L1532.3 111L1532.9 110.9L1533.2 112.2L1534 110.7L1534.1 113.4L1535 111.6L1535.5 111.7L1536 112.1L1536.5 112.6L1537.2 111.8L1537.5 113.2L1538.2 112L1538.6 113.1L1539.3 112.1L1539.9 112.2L1540.1 113.8L1540.9 112.5L1541.5 112.5L1542.3 111.5L1542.7 111.8L1543.1 112.8L1543.6 113.1L1543.9 114.6L1544.6 113.9L1545.2 113.3L1545.8 113L1546.5 112.4L1546.9 113.3L1547.3 114.3L1547.9 113.9L1548.3 114.7L1549 114L1549.5 114.4L1549.9 114.8L1550.5 114.8L1550.8 116L1551.4 115.6L1552.2 114.8L1553.1 113.3L1553.2 115.1L1553.7 115.4L1554 116.6L1554.9 115.2L1555.7 114.3L1555.9 115.6L1556.3 116.3L1557.1 115.3L1557.4 116.4L1557.9 116.7L1558.3 117.4L1558.8 117.5L1559.3 117.8L1559.7 118.4L1560.1 119.2L1560.7 119.1L1561.4 118.6L1561.1 121.7L1562.2 119.6L1562.8 119.6L1563.4 119.6L1564.9 116L1564.5 119.6L1563 127.4L1565.2 121.1L1565.7 121.5L1565.4 124.4L1565.7 125.4L1567.9 119.4M1596.9 128.6L1597.4 128.9L1597.4 130.5L1598 130.4L1599 129.2L1598.9 131L1600.1 129.5L1600.3 130.5L1601.2 129.7L1601.5 130.3L1601.7 131.2L1602.5 130.9L1602.4 132.5L1602.9 132.6L1603.1 133.6L1604.2 132.4L1605.9 129.5L1605.4 132.3L1605.6 133.3L1606.7 132.1L1607.3 132L1608.2 131.3L1608.4 132.3L1608.8 132.8L1609.3 133L1610 132.7L1610.3 133.3L1610.7 133.7L1611.5 133.2L1611.6 134.5L1612.5 133.7L1613.5 132.8L1614.6 131.7L1613 136.8L1615.1 133.4L1615.1 134.5L1616.9 131.8L1616 135.3L1617.4 133.4L1617.1 135.6L1617.8 135.4L1618.7 134.6L1618.5 136.4L1620.2 133.9L1619.7 136.4L1620.3 136.5L1620.5 137.2L1620.9 137.8L1621.8 137L1621.4 139.4L1622.6 138L1622.3 139.9L1624.2 137L1622.9 141.1L1624.9 138.3L1624.5 140.3L1623.9 142.9L1624.7 142.4L1626 140.9L1624.9 144.5L1625.7 144.2L1627.8 141.1L1628.5 140.8L1629 141L1628.8 142.8L1630.6 140.3L1631.5 139.7L1630.7 142.6L1632 141.3L1631.7 143L1632.2 143.3L1632.3 144.2L1632.9 144.2L1633.3 144.8L1634.7 143.1L1635.2 143.4L1635 145L1635.2 145.7L1635.5 146.4L1635.7 147.1L1637 145.9L1636.6 147.8L1637 148.3L1638.4 146.7L1638.2 148.2L1639.6 146.7L1640.1 147L1640.7 147L1641.3 147.1L1642.3 146.5L1642.6 147.1L1642.2 148.9L1643 148.6L1643.7 148.4L1643.4 150.1L1644.3 149.7L1644.7 149.9L1645.7 149.4L1646.2 149.6L1645.5 152L1645.9 152.3L1646.8 151.8L1647.8 151.2L1648.3 151.5L1648.9 151.4L1649.3 151.9L1649.2 153.1L1650 152.9L1651.3 151.8L1651.2 153.1L1651.8 153L1652.8 152.4L1653.1 152.9L1653.6 153.3L1653.1 155.1L1654.9 153.2L1654.5 154.9L1655.2 154.8L1655.5 155.3L1655.4 156.5L1656.2 156.3L1656.6 156.7M1682.4 174L1682.8 174.4L1683.1 174.9L1683.5 175.3L1684.2 175.3L1685.3 174.7L1685 176L1685.5 176.2L1686.6 175.7L1686.2 177.1L1686 178.3L1686 179.2L1687.5 178.1L1687.7 178.8L1687.6 179.7L1689.2 178.6L1688.8 179.9L1689.4 180.1L1688.5 182.1L1689.9 181.3L1691 180.8L1692 180.3L1692.8 180.2L1692.4 181.6L1693 181.8L1693.3 182.2L1693.7 182.6L1694.6 182.3L1695.4 182.3L1695.3 183.2L1696 183.2L1694.8 185.5L1693.6 187.9L1695.6 186.3L1696.5 186L1696.8 186.5L1696.6 187.7L1697.1 187.8L1698.2 187.4L1698.1 188.3L1699.6 187.4L1701.9 185.6L1701.2 187.2L1699 190.6L1700.6 189.6L1702.6 188.1L1702.6 189L1700.2 192.6L1701 192.5L1703.2 190.7L1703.6 191.1L1706 189.2L1706.4 189.6L1707.4 189.3L1704.5 193.4L1706.2 192.4L1706.2 193.1L1705.8 194.4L1705 196.1L1706.8 195L1706 196.6L1710.9 192L1710 193.8L1707.4 197.5L1706.9 198.9L1709.5 196.8L1707.2 200.1L1707.6 200.5L1709.5 199.2L1708.6 201L1710.9 199.3L1712.9 198L1712 199.7L1713 199.5L1709.2 204.3L1711.2 202.9L1712.4 202.5L1715.3 200.2L1712 204.5L1716 201.1L1715.7 202.2L1717 201.6L1716.7 202.7L1717.5 202.6L1715.9 205.1L1716.1 205.6L1717.4 205.1L1718.1 205.1L1717.7 206.4L1718 206.8L1719.1 206.4L1719.8 206.5L1720 207.1L1720.5 207.4L1719.8 208.8L1720.5 209L1721.1 209.1L1721.7 209.2L1721.9 209.8L1721.3 211.2L1722.5 210.8L1723.4 210.7L1723.8 211L1724.6 211L1725.2 211.2L1724.1 213L1725.2 212.7L1726 212.7L1725.4 214L1725.9 214.3L1726.7 214.3L1726.9 214.8L1727.6 214.9L1728.2 215.1L1728.7 215.4L1728.3 216.5L1728.6 216.9L1729.7 216.7L1728.6 218.5L1728.5 219.3L1729 219.6L1730.5 218.9L1731.2 219M1752 242.3L1752.1 243L1752.2 243.6L1753 243.7L1753.1 244.3L1752.6 245.4L1753.8 245.2L1753.4 246.1L1753.1 247L1753.5 247.4L1753.2 248.3L1755.7 247.2L1755.6 247.9L1756.9 247.7L1757 248.3L1756.6 249.2L1755.1 251L1757.4 250L1757.3 250.7L1757.5 251.2L1754.6 254L1761.3 249.9L1756.8 253.8L1759.8 252.3L1759.7 253.1L1768.7 247.5L1772.6 245.4L1767.6 249.6L1761.6 254.4L1768.6 250.2L1769.6 250.2L1754.5 261.3L1759.7 258.4L1757.9 260.3L1767.4 254.5L1771.4 252.4L1763 258.8L1762.2 260L1760.8 261.6L1764.2 260L1766 259.4L1762.7 262.3L1761.9 263.5L1764.7 262.3L1765.4 262.5L1764.8 263.5L1765.9 263.5L1766.9 263.4L1767.7 263.6L1767.5 264.4L1766.8 265.5L1767.7 265.6L1768 266L1767.6 266.9L1768.9 266.7L1769.5 267L1770.5 267.1L1769.6 268.3L1769.1 269.2L1769.3 269.8L1769.7 270.1L1769.4 271L1769.1 271.8L1771.2 271.1L1771.5 271.6L1771.5 272.2L1772.1 272.5L1771.4 273.6L1771.5 274.1L1771.8 274.6L1773.2 274.4L1772.8 275.3L1773.1 275.8L1772.9 276.5M1789.5 304.7L1787.6 306.2L1788.9 306.2L1788.9 306.8L1789.8 307L1790.4 307.3L1789.5 308.3L1790.3 308.5L1792.2 308.3L1791.8 309L1791.6 309.7L1791.8 310.3L1791.4 311L1792.1 311.3L1791.5 312.2L1791.8 312.7L1792.1 313.1L1791.5 314L1792.8 314L1792.9 314.5L1793.4 314.9L1795.5 314.6L1794 315.9L1793.4 316.7L1794.2 317L1793 318.1L1792.3 319L1794.5 318.6L1789.1 321.5L1797.3 318.6L1796.7 319.5L1803.2 317.4L1791.7 322.7L1786.8 325.3L1795.1 322.5L1795.3 323L1796.3 323.2L1799.8 322.4L1798.6 323.5L1797.5 324.5L1798.3 324.8L1797.9 325.5L1797.8 326.1L1797.8 326.7L1798.2 327.2L1798.5 327.6L1799.6 327.8L1799.9 328.3L1798.7 329.3L1798.6 329.9L1801.2 329.5L1801.3 330.1L1801.4 330.6L1799.8 331.8L1800.2 332.2L1800.5 332.7L1800.9 333.2L1799.9 334.1L1800.6 334.4L1802.1 334.5L1801.4 335.3L1801.5 335.8L1802.1 336.2L1802.8 336.6L1802.7 337.2L1803 337.6L1803.4 338.1L1803.8 338.5L1803.7 339.1L1803.8 339.7L1803.9 340.2L1804.3 340.7L1804.2 341.3L1804.1 341.9L1803.7 342.6L1804.4 342.9L1805.8 343.1M1815.4 374.3L1813.4 375.3L1813.8 375.8L1813.9 376.3L1813.4 377L1813.8 377.5L1814.3 377.9L1814.5 378.5L1815.8 378.7L1815.6 379.3L1815.1 380L1815.9 380.4L1817.4 380.7L1816.6 381.4L1816 382.1L1814.2 383L1815.7 383.3L1814.2 384.1L1813.2 384.9L1816.3 384.8L1816.6 385.3L1817.2 385.8L1815.7 386.7L1816.1 387.1L1816.2 387.7L1815.7 388.3L1815.6 388.9L1816.5 389.3L1815.1 390.1L1815.1 390.7L1815.9 391.1L1816.6 391.5L1817.4 391.9L1817.1 392.5L1816.7 393.2L1818 393.5L1817.3 394.2L1817.5 394.7L1817.1 395.3L1816.8 395.9L1816.9 396.5L1816.3 397.1L1816.9 397.6L1816.3 398.2L1817.9 398.6L1818.3 399L1816.3 399.9L1817.9 400.2L1817.9 400.8L1818.2 401.3L1818 401.9L1818.6 402.3L1819.3 402.8L1816.2 403.8L1817.3 404.2L1817.4 404.7L1816.6 405.4L1818.4 405.7L1818.5 406.2L1817.6 406.9L1819.2 407.3L1819.6 407.8L1819.4 408.3L1818.9 408.9L1818.6 409.5L1819.5 410L1818.6 410.6L1819.6 411.1L1818.7 411.7L1820.2 412.1L1819.4 412.8L1818.9 413.4L1819.7 413.8L1820 414.4L1821.6 414.7L1820.4 415.4L1821.2 415.9L1819.3 416.6L1818.4 417.3L1818 417.9L1820.2 418.2L1819.4 418.8L1819 419.4L1819.4 419.9L1820.2 420.4L1819.2 421.1L1818.9 421.6L1818.7 422.2L1821.6 422.5L1821.9 423" stroke="#e88b8b" stroke-width="0.95"/>
<path class="ln" d="M1792.2 480L1792.5 480L1791.9 480.3L1792.6 480.6L1791.8 480.9L1792.5 481.2L1791.8 481.5L1792.4 481.9L1791.7 482.1L1794.7 482.7L1791.7 482.7L1792.4 483.1L1791.6 483.3L1793.6 483.8L1791.6 483.9L1792.5 484.3L1791.5 484.5L1793.5 485L1791.4 485.1L1793.1 485.6L1791.4 485.7L1792.8 486.2L1791.3 486.3L1792.5 486.8L1791.2 487L1792.5 487.4L1791.2 487.6L1792.6 488L1791.1 488.2L1792.2 488.6L1791 488.8L1793.1 489.3L1791 489.4L1791.7 489.8L1790.9 490L1791.6 490.4L1790.8 490.6L1792.4 491.1L1790.8 491.2L1794.6 492L1790.7 491.8L1791.9 492.3L1790.6 492.4L1791.4 492.8L1790.5 493L1792.3 493.5L1790.5 493.6L1793.3 494.3L1790.4 494.2L1791.3 494.6L1790.3 494.8L1791.1 495.2L1790.2 495.4L1791.3 495.9L1790.1 496L1792.3 496.6L1790 496.6L1791.3 497.1L1790 497.2L1790.9 497.7L1789.9 497.8L1791.3 498.4L1789.8 498.4L1791 498.9L1789.7 499.1L1790.9 499.5L1789.6 499.7L1790.9 500.2L1789.5 500.3L1790.9 500.8L1789.4 500.9L1790.6 501.4L1789.3 501.5L1792 502.2L1789.2 502.1L1790.6 502.6L1789.1 502.7L1790 503.1L1789 503.3L1790.4 503.8L1788.9 503.9L1790.4 504.4L1788.8 504.5L1791.9 505.3L1788.7 505.1L1789.5 505.5L1788.6 505.7L1790.7 506.3L1788.5 506.3L1789.6 506.8L1788.4 506.9L1789.2 507.3L1788.3 507.5L1789.2 507.9L1788.2 508.1L1790.7 508.8L1788.1 508.7L1789.1 509.2L1788 509.3L1790 510L1787.9 509.9L1789 510.4L1787.8 510.5L1789.5 511.1L1787.7 511.1L1789.8 511.8L1787.6 511.7L1788.6 512.2L1787.5 512.3L1791.8 513.4L1787.3 512.9L1788.2 513.4L1787.2 513.5L1788.6 514.1L1787.1 514.1L1788.2 514.6L1787 514.7L1788.9 515.4L1786.9 515.3L1789 516L1786.7 515.9L1788.6 516.6L1786.6 516.5L1788.9 517.2L1786.5 517.1L1787.9 517.7L1786.4 517.7L1788.7 518.5L1786.3 518.3L1788.6 519.1L1786.1 518.9L1788.2 519.6L1786 519.5L1788 520.2L1785.9 520.1L1787 520.6L1785.7 520.7L1787.1 521.3L1785.6 521.2L1787.4 522L1785.5 521.8L1787.6 522.6L1785.3 522.4L1789.1 523.6L1785.2 523L1786.3 523.6L1785.1 523.6L1786.9 524.4L1784.9 524.2L1787.9 525.2L1784.8 524.8L1786.6 525.6L1784.7 525.4L1786 526L1784.5 526L1785.6 526.6L1784.4 526.6L1789.1 528.1L1784.2 527.2L1785.5 527.8L1784.1 527.8L1785.8 528.5L1783.9 528.4L1785.6 529.1L1783.8 529L1785.7 529.8L1783.7 529.6L1785.5 530.3L1783.5 530.2L1786.9 531.3L1783.4 530.7L1784.9 531.4L1783.2 531.3L1784.4 532L1783.1 531.9L1784.1 532.5L1782.9 532.5L1785.4 533.5L1782.7 533.1L1784.5 533.9L1782.6 533.7L1783.8 534.3L1782.4 534.3L1783.9 535L1782.3 534.9L1783.6 535.5L1782.1 535.5L1784.5 536.4L1782 536.1L1783 536.7L1781.8 536.6L1789.2 539L1781.6 537.2L1782.5 537.8L1781.5 537.8L1784.1 538.9L1781.3 538.4L1783.5 539.3L1781.1 539L1782.1 539.6L1781 539.6L1782.3 540.3L1780.8 540.2L1784.4 541.5L1780.6 540.8L1782.3 541.5L1780.5 541.3L1782.3 542.2L1780.3 541.9L1782.1 542.8L1780.1 542.5L1782.1 543.4L1780 543.1L1781 543.7L1779.8 543.7L1781.2 544.4L1779.6 544.3L1783.4 545.7L1779.4 544.8L1780.6 545.5L1779.2 545.4L1782.1 546.6L1779.1 546L1780.4 546.7L1778.9 546.6L1780.2 547.3L1778.7 547.2L1780.6 548.1L1778.5 547.8L1779.5 548.4L1778.3 548.3L1780.4 549.3L1778.2 548.9L1779.5 549.7L1778 549.5L1779.3 550.3L1777.8 550.1L1779.5 550.9L1777.6 550.7L1781.1 552.1L1777.4 551.2L1778.8 552L1777.2 551.8L1778.4 552.5L1777 552.4L1780.2 553.8L1776.8 553L1778.2 553.8L1776.6 553.6L1778.7 554.6L1776.4 554.1L1780.3 555.8L1776.3 554.4M1765.9 581.9L1766.6 582.2L1765.5 582L1766 582.6L1765.3 582.6L1767.3 583.8L1765 583.1L1766.1 583.9L1764.8 583.7L1766.6 584.9L1764.5 584.3L1765.5 585L1764.3 584.8L1766.6 586.2L1764 585.4L1766.1 586.7L1763.8 585.9L1764.8 586.7L1763.5 586.5L1764.6 587.3L1763.3 587L1763.8 587.6L1763 587.6L1763.7 588.3L1762.7 588.1L1763.4 588.8L1762.5 588.7L1763.6 589.6L1762.2 589.2L1762.8 589.9L1762 589.8L1763.6 590.9L1761.7 590.3L1762.4 591L1761.4 590.9L1762.1 591.6L1761.2 591.4L1761.6 592L1760.9 592L1762.9 593.3L1760.6 592.5L1761.4 593.3L1760.4 593.1L1761 593.8L1760.1 593.6L1760.7 594.3L1759.8 594.2L1760.8 595L1759.5 594.7L1760.6 595.6L1759.3 595.3L1759.9 596L1759 595.8L1760.1 596.7L1758.7 596.4L1759.9 597.3L1758.4 596.9L1759.6 597.9L1758.2 597.4L1758.8 598.1L1757.9 598L1760.4 599.6L1757.6 598.5L1758.5 599.3L1757.3 599.1L1758.5 600L1757 599.6L1758.6 600.8L1756.8 600.2L1757.3 600.8L1756.5 600.7L1757.3 601.5L1756.2 601.2L1757.6 602.3L1755.9 601.8L1756.9 602.6L1755.6 602.3L1756.6 603.2L1755.3 602.8L1757 604.1L1755 603.4L1756.1 604.3L1754.7 603.9L1755.3 604.6L1754.5 604.5L1755.8 605.6L1754.2 605L1755 605.8L1753.9 605.5L1754.5 606.2L1753.6 606.1L1754.4 606.9L1753.3 606.6L1754.4 607.6L1753 607.1L1753.6 607.8L1752.7 607.7L1754.2 608.9L1752.4 608.2L1753 608.9L1752.1 608.7L1753.8 610.1L1751.8 609.3L1752.3 609.9L1751.5 609.8L1753.1 611.1L1751.2 610.3L1751.9 611.1L1750.9 610.8L1752.2 612L1750.6 611.4L1751.2 612.1L1750.3 611.9L1751.2 612.8L1750 612.4L1750.9 613.4L1749.7 613L1750.2 613.7L1749.3 613.5L1750.5 614.5L1749 614L1751.2 615.7L1748.7 614.5L1750 615.6L1748.4 615.1L1749.5 616.1L1748.1 615.6L1749.1 616.5L1747.8 616.1L1749.6 617.5L1747.5 616.6L1748 617.3L1747.2 617.2L1748 618L1746.8 617.7L1747.8 618.6L1746.5 618.2L1747.9 619.4L1746.2 618.7L1747 619.6L1745.9 619.2L1746.9 620.2L1745.6 619.8L1746.1 620.4L1745.2 620.3L1746.8 621.6L1744.9 620.8L1746.1 621.9L1744.6 621.3L1748.1 623.9L1744.3 621.8L1745.6 623L1743.9 622.3L1745.1 623.5L1743.6 622.9L1744.6 623.8L1743.3 623.4L1744.1 624.3L1743 623.9L1743.6 624.7L1742.6 624.4L1743.4 625.2L1742.3 624.9L1743.7 626.2L1742 625.4L1743.6 626.9L1741.6 625.9L1743.8 627.7L1741.3 626.4L1742.5 627.6L1741 627L1741.9 628L1740.6 627.5L1742.3 629L1740.3 628L1741.6 629.2L1740 628.5L1742.2 630.3L1739.6 629L1741.6 630.7L1739.3 629.5L1740 630.4L1738.9 630L1739.6 630.8L1738.6 630.5L1739.9 631.8L1738.3 631L1739.5 632.2L1737.9 631.5L1738.9 632.6L1737.6 632L1740 634.1L1737.2 632.5L1738.2 633.6L1736.9 633L1738 634.2L1736.5 633.5L1737.5 634.6L1736.2 634L1736.8 634.8L1735.8 634.5L1737.7 636.2L1735.5 635L1738 637.2L1735.1 635.5L1735.9 636.5L1734.8 636L1737.3 638.2L1734.4 636.5L1735.5 637.7L1734.1 637L1734.9 638L1733.7 637.5L1734.6 638.5L1733.4 638L1734.2 639L1733 638.5L1734.5 640L1732.6 639L1734.1 640.4L1732.3 639.5L1732.9 640.3L1731.9 640L1732.7 641L1731.6 640.5L1733.3 642.2L1731.2 641L1732.2 642.1L1730.8 641.5L1731.5 642.4L1730.5 642L1731.9 643.4L1730.1 642.4L1730.9 643.5L1729.7 642.9L1730.8 644.1L1729.4 643.4L1730.5 644.6L1729 643.9L1730.1 645.1L1728.6 644.4L1730.1 645.9L1728.3 644.9L1729.2 646L1727.9 645.4L1730 647.3L1727.5 645.9L1728.3 646.8L1727.2 646.3L1728.5 647.8L1726.8 646.8L1727.5 647.8L1726.4 647.3L1727.5 648.6L1726 647.8L1727.4 649.2L1725.7 648.3L1726.4 649.2L1725.3 648.7L1727 650.5L1724.9 649.2L1727.3 651.5L1724.5 649.7L1725.6 651L1724.2 650.2L1725.1 651.3L1723.8 650.7L1724.8 651.9L1723.4 651.1L1724.2 652.2L1723 651.6L1724.9 653.5L1722.6 652.1L1723.7 653.3L1722.2 652.6L1724.1 654.5L1721.9 653L1724.8 655.8L1721.5 653.5L1722.4 654.7L1721.1 654L1722.8 655.8L1720.7 654.5L1726.7 659.8L1720.3 654.9L1726.4 660.3L1719.9 655.4L1721.6 657.2L1719.5 655.9L1721.4 657.8L1719.1 656.3L1720.4 657.8L1718.7 656.8L1719.6 657.9L1718.4 657.3L1723.5 662L1718 657.7L1720 659.8L1717.6 658.2L1720.1 660.8L1717.2 658.7L1717.8 659.6L1716.8 659.1L1719.3 661.7L1716.4 659.6L1717.4 660.9L1716.2 659.8M1697.2 680.4L1698.2 681.4L1696.8 680.4L1697.4 681.4L1696.4 680.8L1696.7 681.7L1695.9 681.2L1697.8 683.7L1695.5 681.7L1696.8 683.5L1695 682.1L1695.6 683.1L1694.6 682.5L1695.6 684.1L1694.1 682.9L1694.8 684.1L1693.7 683.4L1696.1 686.3L1693.2 683.8L1694.1 685.2L1692.8 684.2L1693.2 685.1L1692.3 684.6L1693.5 686.3L1691.9 685L1692.7 686.4L1691.4 685.5L1694.4 689.1L1691 685.9L1691.8 687.2L1690.5 686.3L1691.2 687.4L1690.1 686.7L1690.7 687.9L1689.6 687.1L1690.1 688L1689.2 687.5L1689.7 688.6L1688.7 687.9L1689.4 689.1L1688.3 688.4L1690.4 691.2L1687.8 688.8L1688.2 689.7L1687.4 689.2L1689.6 692.1L1686.9 689.6L1690.1 693.7L1686.4 690L1687.3 691.4L1686 690.4L1686.6 691.5L1685.5 690.8L1687 692.9L1685.1 691.2L1685.4 692L1684.6 691.6L1685.5 693.1L1684.1 692L1684.7 693.1L1683.7 692.4L1686.3 695.9L1683.2 692.8L1684.3 694.5L1682.7 693.2L1683.2 694.3L1682.3 693.6L1682.7 694.6L1681.8 694L1683.1 696L1681.3 694.4L1682 695.7L1680.9 694.8L1681.5 696L1680.4 695.2L1680.8 696.2L1679.9 695.6L1680.9 697.2L1679.5 696L1680 697.2L1679 696.4L1682.3 700.8L1678.5 696.8L1679.4 698.3L1678.1 697.2L1679.9 699.9L1677.6 697.6L1678 698.6L1677.1 698L1677.9 699.5L1676.6 698.4L1677 699.3L1676.2 698.7L1676.7 699.9L1675.7 699.1L1679.1 703.8L1675.2 699.5L1675.5 700.4L1674.7 699.9L1676.3 702.4L1674.2 700.3L1675.5 702.3L1673.8 700.7L1674.5 702.1L1673.3 701.1L1673.9 702.3L1672.8 701.4L1673.3 702.6L1672.3 701.8L1673.1 703.3L1671.8 702.2L1672.2 703.2L1671.4 702.6L1671.6 703.4L1670.9 702.9L1671.2 703.9L1670.4 703.3L1671.1 704.7L1669.9 703.7L1670.3 704.7L1669.4 704.1L1671.4 707.1L1668.9 704.5L1672.7 709.8L1668.4 704.8L1668.9 705.9L1668 705.2L1668.2 706.1L1667.5 705.6L1667.9 706.7L1667 705.9L1667.7 707.4L1666.5 706.3L1666.8 707.3L1666 706.7L1666.7 708.2L1665.5 707L1666.6 709.1L1665 707.4L1665.4 708.5L1664.5 707.8L1665.5 709.6L1664 708.1L1664.7 709.6L1663.5 708.5L1665.3 711.4L1663 708.9L1663.7 710.3L1662.5 709.2L1663.5 711.1L1662 709.6L1663 711.5L1661.5 709.9L1662.6 711.9L1661 710.3L1661.5 711.5L1660.5 710.7L1660.8 711.5L1660.1 711L1661.9 714.1L1659.6 711.4L1659.8 712.3L1659 711.7L1659.8 713.3L1658.5 712.1L1659 713.2L1658 712.4L1658.3 713.3L1657.5 712.8L1658.4 714.6L1657 713.1L1659.2 716.8L1656.5 713.5L1657.3 715.1L1656 713.8L1656.8 715.5L1655.5 714.2L1655.9 715.3L1655 714.5L1655.4 715.6L1654.5 714.9L1655 716.1L1654 715.2L1654.2 716.1L1653.5 715.6L1653.9 716.7L1653 715.9L1653.2 716.9L1652.5 716.3L1653 717.6L1652 716.6L1652.2 717.5L1651.5 716.9L1652 718.3L1650.9 717.3L1651.5 718.7L1650.4 717.6L1650.8 718.8L1649.9 718L1652.1 721.9L1649.4 718.3L1650.1 719.9L1648.9 718.6L1649.1 719.5L1648.4 719L1648.9 720.3L1647.9 719.3L1648.3 720.6L1647.3 719.6L1647.5 720.5L1646.8 720L1647.2 721.2L1646.3 720.3L1647.6 722.8L1645.8 720.6L1646.9 722.9L1645.3 720.9L1646 722.6L1644.8 721.3L1646.4 724.5L1644.2 721.6L1645.6 724.3L1643.7 721.9L1644.1 723.2L1643.2 722.3L1645.2 726.1L1642.7 722.6L1644.7 726.5L1642.1 722.9L1642.6 724.3L1641.6 723.2L1641.9 724.3L1641.1 723.5L1643.2 727.6L1640.6 723.9L1641.5 725.9L1640.1 724.2L1640.8 726L1639.5 724.5L1639.9 725.8L1639 724.8L1639.4 726.2L1638.5 725.1L1639.2 726.9L1637.9 725.4L1639.4 728.5L1637.4 725.8L1637.6 726.6L1636.9 726.1L1637.7 728L1636.4 726.4L1636.9 727.9L1635.8 726.7L1636.4 728.2L1635.3 727L1635.8 728.5L1634.8 727.3L1635.5 729.2L1634.2 727.6L1635.1 729.7L1634 727.8M1609 741L1610.8 744.8L1608.6 740.9L1609.2 742.8L1608.1 741.1L1608.2 742.2L1607.5 741.4L1608 743.2L1606.9 741.6L1607.6 743.7L1606.4 741.9L1607.1 744.3L1605.8 742.1L1606.3 744.1L1605.3 742.4L1605.8 744.5L1604.7 742.6L1604.8 743.7L1604.1 742.9L1604.6 744.6L1603.6 743.1L1603.6 744L1603 743.4L1604.6 747.8L1602.5 743.6L1602.6 744.7L1601.9 743.9L1602 745L1601.3 744.1L1601.6 745.5L1600.8 744.4L1601.6 747L1600.2 744.6L1600.7 746.6L1599.6 744.8L1600.4 747.5L1599.1 745.1L1599.3 746.5L1598.5 745.3L1598.6 746.4L1597.9 745.6L1598.4 747.5L1597.4 745.8L1597.8 747.6L1596.8 746L1597 747.2L1596.2 746.3L1596.4 747.4L1595.7 746.5L1595.9 747.9L1595.1 746.7L1596.1 749.9L1594.5 746.9L1594.6 748L1594 747.2L1594.1 748.5L1593.4 747.4L1594 749.7L1592.8 747.6L1593.1 749.1L1592.2 747.9L1593.3 751.4L1591.7 748.1L1591.8 749.3L1591.1 748.3L1591.5 750.1L1590.5 748.5L1590.7 749.9L1590 748.8L1590.2 750.3L1589.4 749L1589.5 750.2L1588.8 749.2L1589.3 751.3L1588.2 749.4L1588.4 750.6L1587.7 749.6L1588 751.3L1587.1 749.8L1589.1 756L1586.5 750.1L1586.6 751.2L1585.9 750.3L1586 751.3L1585.4 750.5L1586.1 753.3L1584.8 750.7L1585 752.2L1584.2 750.9L1584.7 753.1L1583.6 751.1L1583.6 752L1583.1 751.3L1584 755L1582.5 751.5L1582.5 752.5L1581.9 751.7L1582.1 753.3L1581.3 751.9L1581.6 753.6L1580.7 752.1L1581.1 754.2L1580.2 752.3L1580.7 754.7L1579.6 752.5L1579.9 754.4L1579 752.7L1579.1 753.9L1578.4 752.9L1578.5 754L1577.8 753.1L1578.6 756.2L1577.3 753.3L1577.4 754.8L1576.7 753.5L1577 755.4L1576.1 753.7L1576.3 755.3L1575.5 753.9L1575.9 756.1L1574.9 754.1L1575.3 756.2L1574.4 754.3L1574.9 757.1L1573.8 754.5L1573.8 755.7L1573.2 754.7L1573.4 756.4L1572.6 754.9L1572.9 756.7L1572 755.1L1573 759.1L1571.4 755.2L1571.4 756.3L1570.8 755.4L1571.2 757.5L1570.3 755.6L1570.5 757.4L1569.7 755.8L1569.8 757.3L1569.1 756L1569.3 757.6L1568.5 756.2L1568.5 757.2L1567.9 756.3L1567.9 757.4L1567.3 756.5L1567.5 758L1566.7 756.7L1566.7 757.6L1566.1 756.9L1566.7 759.8L1565.6 757L1566.1 760.1L1565 757.2L1565.1 758.9L1564.4 757.4L1564.4 758.7L1563.8 757.6L1564.2 760.2L1563.2 757.7L1563.2 758.8L1562.6 757.9L1562.7 759.4L1562 758.1L1562.5 761L1561.4 758.2L1561.4 759.4L1560.8 758.4L1560.9 759.7L1560.2 758.6L1560.6 761.1L1559.7 758.7L1559.7 759.9L1559.1 758.9L1559.2 760.5L1558.5 759L1558.7 761L1557.9 759.2L1557.8 760.2L1557.3 759.4L1557.6 761.8L1556.7 759.5L1557 761.7L1556.1 759.7L1556.3 761.8L1555.5 759.8L1555.6 761.2L1554.9 760L1555 761.4L1554.3 760.1L1554.4 761.6L1553.7 760.3L1553.7 761.3L1553.1 760.4L1553.7 764.1L1552.5 760.6L1552.4 761.5L1551.9 760.7L1551.9 761.9L1551.3 760.9L1551.3 762.2L1550.7 761L1551.1 763.8L1550.1 761.2L1553.4 776.1L1549.5 761.3L1549.6 763L1549 761.5L1549 762.9L1548.4 761.6L1548.3 762.5L1547.8 761.7L1547.9 763.5L1547.2 761.9L1547.4 764.1L1546.6 762L1546.5 763.2L1546 762.1L1546 763.7L1545.4 762.3L1545.4 764L1544.8 762.4L1545.1 765.4L1544.2 762.5L1544.2 764.1L1543.6 762.7L1543.5 764L1543 762.8L1543.2 765.3L1542.4 762.9L1542.3 764.2L1541.8 763.1L1542.6 768.6L1541.2 763.2L1541.1 764.2L1540.6 763.3L1540.8 765.8L1540 763.4L1539.9 764.6L1539.4 763.6L1539.3 765.1L1539.1 763.6M1511.8 768.3L1511.8 768.7L1511.4 768L1511.2 768.7L1510.8 768.1L1510.8 771.2L1510.2 768.1L1510 769.1L1509.6 768.2L1509.4 769.2L1509 768.3L1508.8 769.6L1508.4 768.3L1508.2 769.6L1507.8 768.4L1507.6 769.9L1507.1 768.4L1506.9 769.3L1506.5 768.5L1506.3 769.6L1505.9 768.6L1505.7 769.5L1505.3 768.6L1505.2 770.2L1504.7 768.7L1504.5 769.8L1504.1 768.7L1503.9 770L1503.5 768.8L1503.3 770.4L1502.9 768.8L1502.7 770.3L1502.3 768.9L1502 769.6L1501.7 768.9L1501.4 769.6L1501 769L1500.8 770.1L1500.4 769L1500.2 770.4L1499.8 769.1L1499.6 770.1L1499.2 769.1L1499.2 772.7L1498.6 769.2L1498.4 770.2L1498 769.2L1497.8 770.5L1497.4 769.3L1497.3 772.9L1496.8 769.3L1496.5 770.4L1496.1 769.3L1495.9 770.2L1495.5 769.4L1495.3 770.8L1494.9 769.4L1494.7 770.5L1494.3 769.5L1494.2 772.6L1493.7 769.5L1493.5 770.8L1493.1 769.5L1492.8 770.8L1492.5 769.6L1492.2 770.7L1491.9 769.6L1491.6 770.4L1491.3 769.6L1491 770.8L1490.6 769.7L1490.4 770.8L1490 769.7L1489.8 771.6L1489.4 769.7L1489.3 773.9L1488.8 769.7L1488.7 774L1488.2 769.8L1487.9 770.8L1487.6 769.8L1487.3 771.5L1487 769.8L1486.7 770.7L1486.4 769.8L1486.1 770.7L1485.7 769.8L1485.5 772.3L1485.1 769.9L1484.8 771L1484.5 769.9L1484.2 771.1L1483.9 769.9L1483.7 772.5L1483.3 769.9L1483 771L1482.7 769.9L1482.4 771.2L1482.1 769.9L1481.8 771.2L1481.4 769.9L1481.2 771L1480.8 770L1480.5 771L1480.2 770L1479.9 771.5L1479.6 770L1479.3 770.9L1479 770L1478.7 772.3L1478.4 770L1478.1 771.2L1477.8 770L1477.5 771.5L1477.2 770L1476.9 772.2L1476.5 770L1476.2 771.7L1475.9 770L1475.6 772.8L1475.3 770L1475 771.9L1474.7 770L1474.4 771L1474.1 770L1473.8 772.1L1473.5 770L1473.2 770.9L1472.9 770L1472.5 772.1L1472.3 770L1471.9 771.5L1471.6 770L1471.3 771.8L1471 770L1470.7 771.9L1470.4 770L1470.1 771.1L1469.8 769.9L1469.5 771L1469.2 769.9L1468.9 771L1468.6 769.9L1468.2 771.9L1468 769.9L1467.6 771.7L1467.3 769.9L1467 772.3L1466.7 769.9L1466.4 772L1466.1 769.9L1465.7 771.9L1465.5 769.8L1465.1 772L1464.9 769.8L1464.5 772L1464.3 769.8L1463.9 770.9L1463.7 769.8L1463.3 771.3L1463.1 769.7L1462.7 771.9L1462.4 769.7L1462.1 770.8L1461.8 769.7L1461.4 772.2L1461.2 769.7L1460.9 770.9L1460.6 769.6L1460.2 772.1L1460 769.6L1459.5 772.3L1459.4 769.6L1458.9 773.2L1458.8 769.5L1458.4 771L1458.2 769.5L1457.7 771.7L1457.5 769.5L1457.1 771.1L1456.9 769.4L1456.5 772.2L1456.3 769.4L1455.8 772.5L1455.7 769.4L1455.2 772.6L1455.1 769.3L1454.7 770.3L1454.5 769.3L1454 771.3L1453.9 769.2L1453.5 770.6L1453.3 769.2L1452.9 770.3L1452.7 769.2L1452.2 771.6L1452 769.1L1451.6 771.2L1451.4 769.1L1451 770.4L1450.8 769L1450.4 770.5L1450.2 769L1449.7 771.1L1449.6 768.9L1449.1 770.6L1449 768.9L1448.4 771.7L1448.4 768.8L1447.5 774.8L1447.8 768.8L1447.3 770.5L1447.2 768.7L1446.6 771.1L1446.5 768.6L1446.1 770L1445.9 768.6L1445.4 771.1L1445.3 768.5L1444.8 770.3L1444.7 768.5L1444.3 769.9L1444.1 768.4L1443.6 770.3L1443.5 768.4L1443 770.5L1443.2 768.3M1415.7 764.6L1415.4 766.3L1415.5 764.2L1415 765L1414.9 764.1L1414.2 766L1414.3 764L1413.6 765.9L1413.7 763.9L1413 765.6L1413.1 763.7L1412.4 765.7L1412.5 763.6L1412 764.6L1411.9 763.5L1411.4 764.4L1411.3 763.4L1410.8 764.3L1410.7 763.2L1409.3 768.3L1410.1 763.1L1409.3 765.1L1409.5 763L1408.9 764.3L1408.9 762.9L1408.4 763.8L1408.3 762.7L1407.8 763.5L1407.7 762.6L1407 764.4L1407.1 762.5L1406.6 763.3L1406.5 762.3L1406 763.1L1405.9 762.2L1405.1 764.1L1405.3 762.1L1404.5 763.9L1404.7 761.9L1403.2 766.8L1404.1 761.8L1403.2 764L1403.5 761.7L1402.7 763.4L1402.9 761.5L1402.3 762.4L1402.3 761.4L1401.4 763.8L1401.7 761.2L1400.8 763.4L1401.1 761.1L1400.6 762L1400.5 760.9L1399.7 763.1L1399.9 760.8L1399.2 762.4L1399.3 760.6L1398.7 761.9L1398.7 760.5L1397.7 763.3L1398.1 760.3L1397.4 761.9L1397.5 760.2L1397 761L1396.9 760L1396.2 761.5L1396.3 759.9L1395.6 761.3L1395.7 759.7L1395.1 761L1395.1 759.6L1394.5 760.7L1394.5 759.4L1394 760.2L1394 759.3L1393.4 760.1L1393.4 759.1L1392.8 760L1392.8 758.9L1392.1 760.1L1392.2 758.8L1391.1 761.5L1391.6 758.6L1390.4 761.8L1391 758.5L1390.3 759.7L1390.4 758.3L1389.9 759L1389.8 758.1L1388.8 760.5L1389.2 758L1388.3 760L1388.6 757.8L1388 758.7L1388 757.6L1387.1 759.8L1387.4 757.4L1386.3 760.2L1386.9 757.3L1385.7 760.2L1386.3 757.1L1385.6 758.4L1385.7 756.9L1384.8 758.6L1385.1 756.8L1383.2 762.1L1384.5 756.6L1383.2 759.8L1383.9 756.4L1382.9 758.6L1383.3 756.2L1382.2 758.9L1382.7 756L1382.2 756.9L1382.1 755.9L1381.4 757.2L1381.6 755.7L1380.6 757.6L1381 755.5L1380.4 756.4L1380.4 755.3L1379.8 756.3L1379.8 755.1L1379.2 756.1L1379.2 754.9L1378.4 756.6L1378.6 754.8L1377.9 755.9L1378 754.6L1376.4 758.7L1377.5 754.4L1376.9 755.1L1376.9 754.2L1376.1 755.5L1376.3 754L1375.5 755.4L1375.7 753.8L1373.3 759.9L1375.1 753.6L1374.2 755.5L1374.5 753.4L1373.7 755L1374 753.2L1373.3 754.1L1373.4 753L1371.7 757L1372.8 752.8L1371.8 754.7L1372.2 752.6L1371.4 754L1371.6 752.4L1370.5 754.7L1371.1 752.2L1370.4 753.3L1370.5 752L1369.5 754L1369.9 751.8L1369.3 752.6L1369.3 751.6L1367.3 756.3L1368.7 751.4L1368 752.6L1368.2 751.2L1367.1 753.1L1367.6 751L1367 751.7L1367 750.8L1366.1 752.5L1366.4 750.6L1365.8 751.3L1365.9 750.3L1365 751.8L1365.3 750.1L1364.7 750.8L1364.7 749.9L1363.9 751.1L1364.1 749.7L1363.4 750.8L1363.6 749.5L1362.9 750.4L1363 749.3L1362.1 750.8L1362.4 749L1361.3 751.2L1361.8 748.8L1361 750.2L1361.3 748.6L1360.5 749.6L1360.7 748.4L1358.9 752.2L1360.1 748.2L1359.3 749.4L1359.5 747.9L1358.8 749L1359 747.7L1357.5 750.7L1358.4 747.5L1357.4 749.3L1357.8 747.3L1357 748.5L1357.3 747L1356.1 749.1L1356.7 746.8L1355 750.1L1356.1 746.6L1355.1 748.3L1355.6 746.3L1354.4 748.4L1355 746.1L1353.4 749.1L1354.4 745.9L1353.3 747.7L1353.9 745.6L1353 746.8L1353.3 745.4L1352.2 747.1L1352.7 745.2L1352 746L1352.2 744.9L1351.4 745.8L1351.6 744.7L1350.9 745.5L1351 744.4L1350.4 745.2L1350.5 744.2L1349.5 745.6L1349.9 744L1348.9 745.6L1349.3 743.7L1348 746L1348.8 743.5L1347.9 744.7L1348.2 743.2L1347.5 744.2L1347.6 743L1346.9 743.9L1347.1 742.7L1346.4 743.5L1346.5 742.5L1345.5 744.1L1346.2 742.3M1320.6 729.8L1319.3 732.1L1320.5 729.4L1318.5 732.4L1320 729.1L1318.1 731.8L1319.4 728.8L1317.4 731.8L1318.9 728.5L1317.6 730.1L1318.4 728.2L1316.6 730.7L1317.8 727.9L1316.2 730.1L1317.3 727.6L1316.5 728.4L1316.8 727.3L1315.5 728.9L1316.3 727L1315 728.5L1315.7 726.7L1314.6 728L1315.2 726.4L1314.2 727.4L1314.7 726.1L1313.9 726.8L1314.2 725.7L1313 727.1L1313.6 725.4L1312.2 727.2L1313.1 725.1L1309.6 730.4L1312.6 724.8L1310.6 727.6L1312.1 724.5L1311.1 725.6L1311.5 724.2L1309 727.8L1311 723.9L1309.8 725.3L1310.5 723.5L1309.1 725.2L1310 723.2L1308.7 724.7L1309.5 722.9L1308.6 723.7L1308.9 722.6L1305.5 727.5L1308.4 722.3L1307 724L1307.9 721.9L1307 722.8L1307.4 721.6L1306.2 723L1306.9 721.3L1305.9 722.3L1306.4 721L1303 725.7L1305.8 720.6L1303.4 723.9L1305.3 720.3L1301.6 725.5L1304.8 720L1303.9 720.9L1304.3 719.7L1303.4 720.5L1303.8 719.3L1302.9 720.1L1303.3 719L1302.2 720.1L1302.8 718.7L1301.1 720.7L1302.3 718.3L1300.2 721L1301.7 718L1299.8 720.3L1301.2 717.7L1299.5 719.7L1300.7 717.3L1299.2 719.1L1300.2 717L1298.2 719.5L1299.7 716.7L1298.6 717.7L1299.2 716.3L1298.4 717L1298.7 716L1297.5 717.2L1298.2 715.6L1297.3 716.4L1297.7 715.3L1296.9 715.9L1297.2 715L1296 716.1L1296.7 714.6L1295.7 715.5L1296.2 714.3L1294.8 715.7L1295.7 713.9L1294.9 714.5L1295.2 713.6L1291.6 718.2L1294.7 713.2L1293.5 714.4L1294.2 712.9L1292.5 714.7L1293.7 712.5L1292.3 713.9L1293.2 712.2L1291.3 714.3L1292.7 711.8L1291.4 713.1L1292.2 711.5L1290.7 713L1291.7 711.1L1290 712.9L1291.2 710.8L1289.6 712.4L1290.7 710.4L1288.3 713.2L1290.2 710.1L1288.5 711.9L1289.7 709.7L1288.8 710.4L1289.2 709.3L1287.8 710.8L1288.7 709L1287.3 710.5L1288.2 708.6L1287.5 709.1L1287.7 708.3L1284.9 711.6L1287.2 707.9L1285.3 710L1286.8 707.5L1285.4 708.8L1286.3 707.2L1285.5 707.6L1285.8 706.8L1284.7 707.7L1285.3 706.4L1284.4 707.1L1284.8 706.1L1283.1 707.9L1284.3 705.7L1282.9 707L1283.8 705.3L1281.3 708.2L1283.3 705L1280.6 708L1282.9 704.6L1281.5 705.8L1282.4 704.2L1281.2 705.2L1281.9 703.9L1281.1 704.4L1281.4 703.5L1280.5 704.1L1280.9 703.1L1279.6 704.4L1280.4 702.7L1279.2 703.9L1280 702.4L1278.9 703.2L1279.5 702L1278.5 702.7L1279 701.6L1278 702.4L1278.5 701.2L1276.9 702.8L1278.1 700.8L1276.6 702.2L1277.6 700.5L1276.5 701.4L1277.1 700.1L1276.2 700.7L1276.6 699.7L1275.4 700.7L1276.2 699.3L1275.3 699.9L1275.7 698.9L1274.9 699.4L1275.2 698.5L1274.5 699L1274.7 698.2L1273.8 698.8L1274.3 697.8L1273.6 698.1L1273.8 697.4L1272.4 698.6L1273.3 697L1272.5 697.5L1272.9 696.6L1271.5 697.8L1272.4 696.2L1271.3 697.1L1271.9 695.8L1271.1 696.3L1271.5 695.4L1270.4 696.2L1271 695L1269.9 695.8L1270.5 694.6L1269.7 695.2L1270.1 694.3L1266.5 698L1269.6 693.9L1267.1 696.3L1269.1 693.5L1268.2 694L1268.7 693.1L1267.3 694.2L1268.2 692.7L1267.1 693.4L1267.7 692.3L1266.5 693.2L1267.3 691.9L1265.6 693.3L1266.8 691.5L1265.8 692.1L1266.4 691.1L1265.6 691.4L1265.9 690.7L1264.8 691.4L1265.5 690.3L1264.3 691.1L1265 689.9L1264.1 690.4L1264.5 689.4L1263.3 690.3L1264.1 689L1263 689.8L1263.6 688.6L1262.9 689L1263.2 688.2L1262.4 688.6L1262.7 687.8L1259.7 690.7L1262.3 687.4L1261.5 687.8L1261.8 687L1259.7 688.8L1261.4 686.6L1260.7 686.9L1260.9 686.2L1259.9 686.8L1260.5 685.8L1259.5 686.4L1260 685.3L1259.3 685.7L1259.6 684.9L1257.2 687.1L1259.1 684.5L1257.9 685.4L1258.7 684.1L1257.7 684.7L1258.3 683.7L1257.3 684.2L1258 683.5M1238.3 663.6L1237.7 664.1L1238.3 663.1L1237.1 663.8L1237.9 662.7L1236.9 663.2L1237.5 662.2L1236.1 663L1237.1 661.8L1235.9 662.4L1236.7 661.3L1235.2 662.2L1236.3 660.8L1232.8 663.4L1235.9 660.4L1234 661.6L1235.5 659.9L1233.3 661.4L1235.1 659.4L1234.2 659.8L1234.7 659L1232.5 660.5L1234.3 658.5L1232.6 659.6L1233.9 658L1233.1 658.4L1233.5 657.6L1229.5 660.6L1233.1 657.1L1231.2 658.3L1232.7 656.6L1231.6 657.2L1232.3 656.2L1231 656.9L1231.9 655.7L1230.7 656.4L1231.5 655.2L1228.4 657.4L1231.2 654.8L1229.9 655.4L1230.8 654.3L1229.8 654.7L1230.4 653.8L1229.3 654.3L1230 653.3L1228.8 653.9L1229.6 652.9L1228.8 653.1L1229.2 652.4L1228.2 652.8L1228.8 651.9L1227.5 652.6L1228.5 651.4L1226.2 652.9L1228.1 651L1226.4 651.9L1227.7 650.5L1226.2 651.2L1227.3 650L1226.4 650.3L1226.9 649.5L1223.2 652.1L1226.5 649L1224.3 650.4L1226.2 648.6L1224.5 649.5L1225.8 648.1L1222 650.7L1225.4 647.6L1224.4 648L1225 647.1L1224.1 647.4L1224.7 646.6L1217.1 652.1L1224.3 646.1L1222.9 646.8L1223.9 645.7L1223 646L1223.5 645.2L1221.3 646.5L1223.2 644.7L1222.3 644.9L1222.8 644.2L1221.9 644.5L1222.4 643.7L1220.9 644.5L1222.1 643.2L1220.9 643.7L1221.7 642.7L1217.3 645.7L1221.3 642.2L1220.5 642.5L1221 641.7L1219.2 642.7L1220.6 641.3L1218.7 642.3L1220.2 640.8L1218.7 641.5L1219.9 640.3L1218.4 641L1219.5 639.8L1217 641.2L1219.2 639.3L1217.4 640.2L1218.8 638.8L1217.7 639.2L1218.4 638.3L1217.3 638.8L1218.1 637.8L1216.4 638.6L1217.7 637.3L1216.9 637.5L1217.4 636.8L1216.5 637L1217 636.3L1215.2 637.2L1216.7 635.8L1215.1 636.5L1216.3 635.3L1214.7 636.1L1216 634.8L1213.1 636.4L1215.6 634.3L1213.9 635.1L1215.3 633.8L1213.7 634.5L1214.9 633.3L1212.4 634.6L1214.6 632.8L1213.6 633.1L1214.2 632.3L1212.6 633L1213.9 631.8L1210.1 634L1213.5 631.3L1212.5 631.6L1213.2 630.8L1210.8 632L1212.8 630.3L1210.3 631.6L1212.5 629.8L1211.5 630L1212.1 629.2L1209.8 630.4L1211.8 628.7L1209.8 629.7L1211.5 628.2L1210.3 628.6L1211.1 627.7L1209.2 628.6L1210.8 627.2L1209.3 627.8L1210.5 626.7L1207.9 628L1210.1 626.2L1208.3 627L1209.8 625.7L1208.3 626.3L1209.5 625.2L1208.5 625.4L1209.1 624.6L1207.6 625.2L1208.8 624.1L1207.9 624.3L1208.5 623.6L1206.5 624.5L1208.1 623.1L1206.2 624L1207.8 622.6L1206.3 623.2L1207.5 622.1L1204.3 623.7L1207.2 621.5L1206.1 621.8L1206.8 621L1205.9 621.2L1206.5 620.5L1205.5 620.8L1206.2 620L1205.3 620.2L1205.9 619.5L1204.2 620.1L1205.5 618.9L1204.4 619.3L1205.2 618.4L1204.2 618.7L1204.9 617.9L1203.7 618.2L1204.6 617.4L1203.3 617.8L1204.3 616.8L1200.5 618.7L1203.9 616.3L1202.6 616.8L1203.6 615.8L1202.7 616L1203.3 615.3L1202.1 615.6L1203 614.7L1201.5 615.3L1202.7 614.2L1198.8 616.2L1202.4 613.7L1200.4 614.5L1202.1 613.2L1200.9 613.5L1201.8 612.6L1200.3 613.1L1201.4 612.1L1200.1 612.6L1201.1 611.6L1198.8 612.5L1200.8 611L1198.7 611.9L1200.5 610.5L1199.3 610.8L1200.2 610L1199.2 610.2L1199.9 609.5L1195.6 611.6L1199.8 609.2M1186.9 584.6L1185.4 585.3L1187 584.2L1185.6 584.5L1186.8 583.6L1184.9 584.1L1186.5 583.1L1185.5 583.2L1186.3 582.5L1183.3 583.5L1186 582L1184.9 582.1L1185.8 581.4L1180.8 583.2L1185.5 580.8L1182.9 581.6L1185.3 580.3L1184.3 580.3L1185 579.7L1184.1 579.8L1184.8 579.1L1183.7 579.3L1184.5 578.6L1182.4 579.2L1184.3 578L1183.1 578.2L1184.1 577.4L1183 577.6L1183.8 576.9L1182.6 577.1L1183.6 576.3L1181.3 577L1183.3 575.7L1181 576.4L1183.1 575.2L1181.9 575.3L1182.9 574.6L1181.2 575L1182.6 574L1180.1 574.7L1182.4 573.5L1180.1 574.1L1182.1 572.9L1181 573L1181.9 572.3L1180.1 572.7L1181.7 571.8L1179.6 572.3L1181.5 571.2L1179.9 571.5L1181.2 570.6L1179.3 571.1L1181 570L1179.8 570.2L1180.8 569.5L1178.2 570.2L1180.5 568.9L1179.3 569L1180.3 568.3L1178.3 568.8L1180.1 567.8L1178.7 568L1179.9 567.2L1178.7 567.3L1179.7 566.6L1178.6 566.7L1179.4 566L1175.3 567.3L1179.2 565.5L1177.6 565.7L1179 564.9L1177.9 565L1178.8 564.3L1176.3 564.9L1178.6 563.7L1177 564L1178.3 563.1L1176.9 563.3L1178.1 562.6L1177.1 562.6L1177.9 562L1176.9 562L1177.7 561.4L1176.8 561.4L1177.5 560.8L1175.6 561.2L1177.3 560.3L1174.9 560.8L1177.1 559.7L1175.2 560L1176.9 559.1L1172.2 560.4L1176.7 558.5L1174.9 558.8L1176.5 557.9L1175.1 558.1L1176.3 557.4L1174.5 557.7L1176.1 556.8L1174.5 557L1175.9 556.2L1174.8 556.2L1175.7 555.6L1174.3 555.7L1175.5 555L1173.1 555.5L1175.3 554.4L1173.1 554.8L1175.1 553.9L1173.1 554.2L1174.9 553.3L1172.9 553.6L1174.7 552.7L1172.5 553.1L1174.5 552.1L1173.6 552.1L1174.3 551.5L1172.9 551.7L1174.1 550.9L1172.1 551.2L1173.9 550.4L1172.9 550.3L1173.7 549.8L1172.2 549.9L1173.5 549.2L1171.6 549.5L1173.3 548.6L1172.2 548.6L1173.2 548L1171.9 548.1L1173 547.4L1170.3 547.9L1172.8 546.8L1171.6 546.9L1172.6 546.2L1171.5 546.3L1172.4 545.7L1168.9 546.4L1172.2 545.1L1171 545.1L1172.1 544.5L1170.6 544.6L1171.9 543.9L1169.7 544.2L1171.7 543.3L1169.9 543.5L1171.5 542.7L1170.6 542.6L1171.4 542.1L1169.4 542.4L1171.2 541.5L1170 541.5L1171.1 541.2M1163.7 511.7L1163.4 511.7L1164 511.3L1163.3 511.1L1163.8 510.7L1161.8 510.8L1163.7 510.1L1162.7 510L1163.6 509.5L1162.9 509.3L1163.5 508.9L1160.7 509.1L1163.4 508.3L1162 508.2L1163.3 507.7L1161.8 507.6L1163.2 507.1L1162.1 506.9L1163.1 506.5L1161.7 506.4L1163 505.9L1161.4 505.8L1162.9 505.3L1161.2 505.2L1162.8 504.6L1161.7 504.5L1162.7 504L1161.6 503.9L1162.6 503.4L1161.1 503.4L1162.5 502.8L1161.3 502.7L1162.4 502.2L1161.2 502.1L1162.3 501.6L1161.3 501.5L1162.2 501L1158.1 501.3L1162.1 500.4L1160.5 500.3L1162 499.8L1160.2 499.7L1161.9 499.2L1160.9 499L1161.8 498.6L1159.7 498.6L1161.7 498L1159.6 498L1161.7 497.4L1160.8 497.2L1161.6 496.7L1159.8 496.7L1161.5 496.1L1159.1 496.1L1161.4 495.5L1160.4 495.3L1161.3 494.9L1159.2 494.9L1161.2 494.3L1160.3 494.1L1161.2 493.7L1160.3 493.5L1161.1 493.1L1159.2 493L1161 492.5L1158.5 492.5L1160.9 491.9L1158.7 491.8L1160.9 491.3L1158.6 491.2L1160.8 490.6L1158.4 490.6L1160.7 490L1159.4 489.9L1160.6 489.4L1157.6 489.5L1160.6 488.8L1159.5 488.6L1160.5 488.2L1159.5 488L1160.4 487.6L1157.9 487.5L1160.4 487L1158.7 486.8L1160.3 486.4L1158.9 486.2L1160.2 485.7L1156.2 485.9L1160.2 485.1L1158.3 485L1160.1 484.5L1159 484.3L1160 483.9L1157 483.9L1160 483.3L1158.6 483.1L1159.9 482.7L1157 482.7L1159.9 482.1L1157.9 481.9L1159.8 481.5L1155.2 481.6L1159.8 480.8L1154.3 481L1159.7 480.2L1158.3 480L1159.6 479.6L1158.1 479.4L1159.6 479L1158.5 478.8L1159.5 478.4L1158 478.2L1159.5 477.8L1156.8 477.7L1159.4 477.2L1154.1 477.3L1159.4 476.6L1157.9 476.4L1159.4 475.9L1157 475.8L1159.3 475.3L1155.4 475.3L1159.3 474.7L1157.8 474.5L1159.2 474.1L1155.9 474L1159.2 473.5L1155.5 473.4L1159.1 472.9L1156.2 472.7L1159.1 472.3L1157.7 472L1159.1 471.6L1155.7 471.5L1159 471L1157.4 470.8L1159 470.4L1155.4 470.3L1159 469.8L1153.8 469.8L1158.9 469.2L1156.6 469L1158.9 468.6L1157.2 468.3L1158.9 468L1157.5 467.7L1158.9 467.6M1158.5 439.4L1156.3 439.3L1158.8 439.1L1157.5 438.7L1158.8 438.5L1158 438.1L1158.8 437.9L1157.8 437.5L1158.9 437.3L1157.7 436.9L1158.9 436.7L1157.5 436.3L1158.9 436L1157.9 435.7L1159 435.4L1157.6 435L1159 434.8L1158.2 434.5L1159 434.2L1157.7 433.8L1159.1 433.6L1158.1 433.2L1159.1 433L1155.2 432.4L1159.2 432.4L1158.2 432L1159.2 431.7L1158.4 431.4L1159.2 431.1L1158.1 430.7L1159.3 430.5L1156.7 430L1159.3 429.9L1158.1 429.5L1159.4 429.3L1158.4 428.9L1159.4 428.7L1158.4 428.3L1159.5 428.1L1158.3 427.7L1159.5 427.4L1158.2 427L1159.6 426.8L1156.2 426.2L1159.6 426.2L1158 425.8L1159.7 425.6L1158.3 425.2L1159.7 425L1158.7 424.6L1159.8 424.4L1157.8 423.9L1159.8 423.8L1159.1 423.4L1159.9 423.2L1156.9 422.6L1159.9 422.5L1158.9 422.1L1160 421.9L1159.1 421.5L1160.1 421.3L1158.8 420.9L1160.1 420.7L1159.2 420.3L1160.2 420.1L1159.4 419.7L1160.2 419.5L1159.2 419.1L1160.3 418.9L1157.4 418.2L1160.4 418.3L1159.4 417.8L1160.4 417.6L1158 417.1L1160.5 417L1159.1 416.6L1160.6 416.4L1158.4 415.9L1160.7 415.8L1159.5 415.4L1160.7 415.2L1159.3 414.7L1160.8 414.6L1159.6 414.1L1160.9 414L1159.8 413.5L1160.9 413.4L1158.3 412.7L1161 412.8L1158 412.1L1161.1 412.2L1159.5 411.6L1161.2 411.5L1160.2 411.1L1161.3 410.9L1160.1 410.5L1161.3 410.3L1160 409.8L1161.4 409.7L1160.1 409.2L1161.5 409.1L1159.9 408.6L1161.6 408.5L1159.4 407.9L1161.7 407.9L1160.4 407.4L1161.8 407.3L1160.3 406.7L1161.9 406.7L1160.4 406.1L1161.9 406.1L1160.7 405.6L1162 405.5L1160.9 405L1162.1 404.8L1160.2 404.2L1162.2 404.2L1161.2 403.8L1162.3 403.6L1161.4 403.2L1162.4 403L1161.4 402.6L1162.5 402.4L1160.3 401.7L1162.6 401.8L1158.4 400.8L1162.7 401.2L1161.8 400.7L1162.8 400.6L1161.6 400.1L1162.9 400L1157.3 398.7L1163 399.4L1161.9 398.9L1163.1 398.8L1161.9 398.2L1163.2 398.2L1159.4 397.2L1163.3 397.6L1162.3 397.1L1163.4 397L1162.4 396.5L1163.5 396.4L1157 394.9L1163.7 395.7L1161.2 395L1163.8 395.1L1162.3 394.6L1163.9 394.5L1161.8 393.8L1164 393.9L1160.8 393L1164.1 393.3L1163.1 392.8L1164.2 392.7L1162.1 392L1164.3 392.1L1161.2 391.2L1164.5 391.5L1161.9 390.7L1164.6 390.9L1163.5 390.4L1164.7 390.3L1162.5 389.5L1164.8 389.7L1162.3 388.9L1164.9 389.1L1161.9 388.2L1165.1 388.5L1164 388L1165.2 387.9L1163.8 387.3L1165.3 387.6M1172 359.9L1170.9 359.6L1172.4 359.7L1171.2 359L1172.6 359.2L1170.4 358.2L1172.8 358.6L1171.3 357.8L1173 358L1171.8 357.3L1173.1 357.4L1172.4 356.9L1173.3 356.8L1172.3 356.2L1173.5 356.2L1172.5 355.6L1173.7 355.7L1172.3 354.9L1173.9 355.1L1171.8 354.1L1174.1 354.5L1173 353.8L1174.3 353.9L1173.4 353.3L1174.5 353.3L1172.8 352.5L1174.7 352.7L1172.4 351.7L1174.8 352.2L1174 351.6L1175 351.6L1174 350.9L1175.2 351L1173.3 350L1175.4 350.4L1173.7 349.5L1175.6 349.8L1174.2 349L1175.8 349.3L1174.7 348.5L1176 348.7L1174.4 347.8L1176.2 348.1L1174.2 347.1L1176.4 347.5L1175.5 346.9L1176.6 347L1176 346.4L1176.8 346.4L1175.9 345.7L1177 345.8L1175.6 345L1177.3 345.2L1176.3 344.6L1177.5 344.7L1176.1 343.8L1177.7 344.1L1176.6 343.4L1177.9 343.5L1175.8 342.4L1178.1 342.9L1176.4 342L1178.3 342.4L1177.1 341.6L1178.5 341.8L1175 340.2L1178.7 341.2L1177.9 340.6L1178.9 340.6L1178 339.9L1179.2 340.1L1176 338.5L1179.4 339.5L1178.2 338.7L1179.6 338.9L1177.8 337.9L1179.8 338.3L1178.3 337.4L1180 337.8L1179.3 337.2L1180.3 337.2L1178.8 336.3L1180.5 336.6L1179.4 335.9L1180.7 336.1L1179.7 335.3L1180.9 335.5L1179.2 334.5L1181.2 334.9L1179.5 333.9L1181.4 334.4L1177.6 332.5L1181.6 333.8L1178.7 332.3L1181.9 333.2L1181.1 332.6L1182.1 332.7L1181.3 332L1182.3 332.1L1181 331.2L1182.5 331.5L1180.8 330.4L1182.8 331L1181.4 330L1183 330.4L1182.4 329.8L1183.3 329.8L1182.6 329.2L1183.5 329.3L1182.4 328.5L1183.7 328.7L1182.9 328L1184 328.1L1181.7 326.8L1184.2 327.6L1183.1 326.8L1184.5 327L1182.6 325.9L1184.7 326.5L1183.3 325.5L1184.9 325.9L1183.6 325L1185.2 325.3L1183.9 324.4L1185.4 324.8L1183.6 323.6L1185.7 324.2L1184.9 323.5L1185.9 323.7L1184.7 322.8L1186.2 323.1L1181.9 320.9L1186.4 322.5L1185.5 321.8L1186.7 322L1185.3 321L1186.9 321.4L1186.1 320.7L1187.2 320.9L1186.4 320.2L1187.4 320.3L1186.2 319.4L1187.7 319.7L1187.1 319.1L1188 319.2L1186.6 318.2L1188.2 318.6L1187.6 318L1188.5 318.1L1187 317L1188.7 317.5L1187.6 316.7L1189 317L1186.3 315.4L1189.3 316.4L1188.1 315.5L1189.5 315.9L1188.8 315.2L1189.8 315.3L1189.1 314.6L1190 314.8L1189.4 314.1L1190.3 314.2L1188.1 312.8L1190.6 313.7L1189.9 313L1190.9 313.1L1189.7 312.2L1191.1 312.6L1189.6 311.5L1191.4 312L1189.3 310.6L1191.7 311.5L1191 310.8L1191.9 310.9L1186.8 308L1192.2 310.4L1191.6 309.7L1192.5 309.8L1190.9 308.7L1192.8 309.3L1191.1 308.1L1193 308.7L1191.2 307.5L1193.3 308.2L1190.7 306.5L1193.6 307.6L1192.2 306.6L1193.9 307.1L1193.2 306.4L1194.2 306.6L1193.4 305.8L1194.3 306.3M1208.5 281.2L1207.7 280.7L1208.9 281.1L1208 280.2L1209.2 280.6L1208.6 279.9L1209.6 280.1L1209.2 279.5L1209.9 279.6L1209 278.7L1210.2 279.1L1209.6 278.3L1210.6 278.6L1209.6 277.5L1210.9 278L1210 277L1211.2 277.5L1210.3 276.5L1211.6 277L1211.1 276.3L1211.9 276.5L1210.9 275.5L1212.3 276L1211.6 275.2L1212.6 275.5L1211.8 274.6L1212.9 275L1211.9 273.9L1213.3 274.5L1212.8 273.8L1213.6 274L1212.3 272.7L1214 273.5L1213.2 272.6L1214.3 273L1213.2 271.8L1214.7 272.5L1212 270.2L1215 272L1212.6 269.9L1215.4 271.5L1213.3 269.6L1215.7 270.9L1215.3 270.3L1216.1 270.4L1215.1 269.4L1216.4 269.9L1212.6 266.8L1216.8 269.4L1215.6 268.2L1217.1 268.9L1216.4 268.1L1217.5 268.4L1216.3 267.2L1217.8 268L1217.3 267.2L1218.2 267.5L1217.5 266.6L1218.5 267L1217.8 266L1218.9 266.5L1217.3 264.9L1219.3 266L1218 264.7L1219.6 265.5L1218.6 264.3L1220 265L1219.3 264.1L1220.4 264.5L1219.4 263.4L1220.7 264L1219 262.3L1221.1 263.5L1219.4 261.9L1221.4 263L1219.9 261.5L1221.8 262.5L1220.3 261L1222.2 262L1220.7 260.5L1222.5 261.5L1221.8 260.6L1222.9 261.1L1219.2 257.8L1223.3 260.6L1222.1 259.3L1223.7 260.1L1221.6 258.1L1224 259.6L1222.8 258.3L1224.4 259.1L1220.8 255.9L1224.8 258.6L1223.7 257.4L1225.2 258.1L1224.3 257L1225.5 257.7L1224.9 256.8L1225.9 257.2L1224.5 255.7L1226.3 256.7L1223.3 254L1226.7 256.2L1225.3 254.8L1227 255.7L1226.4 254.8L1227.4 255.2L1226.6 254.2L1227.8 254.8L1225.4 252.4L1228.2 254.3L1227.6 253.4L1228.6 253.8L1226.5 251.7L1229 253.3L1227.7 251.9L1229.3 252.9L1224.6 248.6L1229.7 252.4L1228.6 251L1230.1 251.9L1228.7 250.4L1230.5 251.4L1227.9 248.9L1230.9 251L1225 245.7L1231.3 250.5L1230.4 249.3L1231.7 250L1230.6 248.7L1232.1 249.6L1226.6 244.6L1232.5 249.1L1231.2 247.6L1232.8 248.6L1231 246.7L1233.2 248.1L1232.3 246.9L1233.6 247.7L1232.2 246.1L1234 247.2L1231.6 244.8L1234.4 246.7L1232 244.2L1234.8 246.3L1233.8 245L1235.2 245.8L1233.9 244.3L1235.4 245.6M1255.2 224.2L1254.2 223.2L1255.6 224.2L1254.8 223L1256 223.8L1255.6 222.9L1256.5 223.4L1254.6 221L1256.9 223L1256.6 222.1L1257.4 222.5L1255.2 219.8L1257.8 222.1L1256.4 220.1L1258.3 221.7L1257.4 220.3L1258.7 221.3L1257.8 219.9L1259.2 220.9L1258.7 219.9L1259.6 220.5L1258.9 219.3L1260.1 220L1259.3 218.7L1260.5 219.6L1259.9 218.5L1261 219.2L1260.3 218L1261.4 218.8L1260.8 217.6L1261.9 218.4L1261.5 217.5L1262.3 218L1261.2 216.2L1262.8 217.6L1260.4 214.4L1263.2 217.1L1262.1 215.4L1263.7 216.7L1263.4 215.9L1264.1 216.3L1263.3 214.9L1264.6 215.9L1263.9 214.7L1265 215.5L1264 213.8L1265.5 215.1L1265 214.1L1266 214.7L1264.5 212.6L1266.4 214.3L1263.6 210.6L1266.9 213.9L1264.2 210.3L1267.3 213.5L1266.4 211.9L1267.8 213.1L1265.3 209.7L1268.3 212.7L1267.9 211.8L1268.7 212.3L1268.3 211.3L1269.2 211.9L1268.8 210.9L1269.7 211.5L1269 210.3L1270.1 211.1L1269.4 209.8L1270.6 210.7L1269.1 208.5L1271.1 210.3L1270 208.6L1271.5 209.9L1269.8 207.4L1272 209.5L1271.1 207.9L1272.5 209.1L1270.4 206.2L1272.9 208.7L1272.6 207.8L1273.4 208.3L1273 207.3L1273.9 207.9L1272.9 206.3L1274.3 207.6L1274 206.6L1274.8 207.2L1273.4 204.9L1275.3 206.8L1274.3 205L1275.8 206.4L1274.1 203.9L1276.2 206L1275.2 204.3L1276.7 205.6L1275.5 203.6L1277.2 205.2L1276.9 204.4L1277.7 204.9L1277.2 203.7L1278.2 204.5L1277.6 203.2L1278.6 204.1L1277.4 202L1279.1 203.7L1278.4 202.3L1279.6 203.3L1279.2 202.4L1280.1 203L1278.8 200.8L1280.6 202.6L1279.7 201L1281 202.2L1280.5 201L1281.5 201.8L1281.3 201L1282 201.5L1281.4 200.2L1282.5 201.1L1281.8 199.7L1283 200.7L1282.7 199.8L1283.5 200.3L1282.3 198.2L1284 200L1282.1 197L1284.4 199.6L1284.1 198.6L1284.9 199.2L1284.2 197.7L1285.4 198.9L1285 197.7L1285.9 198.5L1285 196.8L1286.4 198.1L1285.6 196.5L1286.9 197.8L1286.2 196.4L1287.4 197.4L1286.3 195.4L1287.9 197L1287.6 196.1L1288.4 196.7L1288.1 195.8L1288.9 196.3L1288.4 195.1L1289.4 195.9L1286.9 192L1289.9 195.6L1289.4 194.4L1290.4 195.2L1290 194.1L1290.9 194.9L1289.5 192.4L1291.4 194.5L1291 193.6L1291.9 194.2L1289.4 190.2L1292.4 193.8L1291.8 192.5L1292.9 193.5L1292.5 192.4L1293.4 193.1L1292.7 191.7L1293.9 192.7L1293.4 191.5L1294.4 192.4L1293.8 191.1L1294.9 192L1292.8 188.6L1295.4 191.7L1294.4 189.8L1295.9 191.4L1295.4 190.2L1296.4 191L1295.9 189.7L1296.9 190.7L1296.5 189.6L1297.1 190.5M1321.2 175.3L1318.4 170.2L1321.6 175.4L1319.7 171.4L1322.1 175.1L1320.8 172.1L1322.7 174.8L1321.9 172.7L1323.2 174.5L1322.1 171.8L1323.7 174.2L1323.1 172.3L1324.3 173.9L1323.7 172.2L1324.8 173.6L1324.5 172.3L1325.4 173.3L1324.8 171.7L1325.9 173L1322.3 165.7L1326.4 172.8L1326 171.4L1327 172.5L1326.4 170.7L1327.5 172.2L1327.1 170.8L1328 171.9L1327.6 170.3L1328.6 171.6L1327.3 168.6L1329.1 171.3L1328.1 168.7L1329.7 171.1L1328.8 168.7L1330.2 170.8L1330 169.7L1330.7 170.5L1329.8 168L1331.3 170.2L1331 169L1331.8 169.9L1330.7 167.1L1332.4 169.7L1332.1 168.4L1332.9 169.4L1332.7 168.2L1333.5 169.1L1333 167.6L1334 168.8L1333.6 167.3L1334.6 168.6L1334.2 167.2L1335.1 168.3L1334.6 166.5L1335.6 168L1333.8 163.5L1336.2 167.8L1335.7 166L1336.7 167.5L1336.4 166.1L1337.3 167.2L1336.5 164.8L1337.8 167L1337 164.6L1338.4 166.7L1337 163.2L1338.9 166.4L1338.6 164.9L1339.5 166.2L1339.4 165.2L1340 165.9L1339.2 163.3L1340.6 165.6L1340.3 164.2L1341.1 165.4L1340.6 163.5L1341.7 165.1L1340.6 161.9L1342.3 164.9L1341.7 163L1342.8 164.6L1342.4 162.9L1343.4 164.4L1342.8 162.5L1343.9 164.1L1343.2 161.8L1344.5 163.9L1344.4 163L1345 163.6L1344.7 162.2L1345.6 163.4L1345.2 161.7L1346.1 163.1L1345.9 161.8L1346.7 162.9L1346.5 161.8L1347.2 162.6L1346.6 160.4L1347.8 162.4L1347.5 160.9L1348.4 162.1L1347.8 160L1348.9 161.9L1348.8 160.8L1349.5 161.6L1349.4 160.6L1350 161.4L1349.6 159.7L1350.6 161.1L1350.5 160.1L1351.2 160.9L1351 159.6L1351.7 160.7L1351.5 159.3L1352.3 160.4L1351.7 158.2L1352.8 160.2L1352.8 159.3L1353.4 160L1353.3 159L1354 159.7L1353.4 157.7L1354.5 159.5L1354.2 157.8L1355.1 159.3L1354.8 157.7L1355.7 159L1354.6 155.5L1356.2 158.8L1356.1 157.7L1356.8 158.6L1356.6 157.2L1357.4 158.3L1357.1 156.8L1357.9 158.1L1357.8 156.9L1358.5 157.9L1358.1 156.1L1359.1 157.7L1359 156.7L1359.6 157.4L1359.3 155.9L1360.2 157.2L1360.1 156.1L1360.8 157L1360.7 156L1361.3 156.8L1361.3 156L1361.9 156.5L1361.5 154.7L1362.5 156.3L1362.3 155.1L1363 156.1L1363.1 155.3L1363.6 155.9L1363.3 154.2L1364.2 155.7L1363.8 153.9L1364.7 155.5L1364.6 154.3L1365.3 155.3L1365.3 154.3L1365.9 155L1365.8 153.9L1366.5 154.8L1365.5 151.3L1367 154.6L1367 153.6L1367.6 154.4L1367.5 153.1L1368.2 154.2L1367.8 152.3L1368.8 154L1368.8 153.2L1369.3 153.8L1369.3 152.9L1369.9 153.6L1369.8 152.5L1370.5 153.4L1370.3 152L1371.1 153.2L1370.2 149.9L1371.6 153L1371.3 151.2L1372.2 152.8L1372.1 151.5L1372.8 152.6L1372.9 151.9L1373.4 152.4L1373.2 151L1373.9 152.2L1373.8 151L1374.2 152.1M1398.6 144.6L1398.3 143.3L1399 144.8L1398.5 141.5L1399.6 144.7L1398.1 137.1L1400.2 144.5L1399.7 141.3L1400.8 144.4L1400.6 142.3L1401.4 144.2L1401.2 142L1402 144.1L1401.5 140.8L1402.6 144L1402.4 141.6L1403.2 143.8L1403.2 142.5L1403.8 143.7L1403.3 140.2L1404.4 143.5L1404.4 142.5L1405 143.4L1404.7 141L1405.6 143.3L1405.2 140.4L1406.2 143.1L1406.1 141.5L1406.8 143L1406.7 141.2L1407.4 142.9L1406.8 138.7L1408 142.7L1407.8 140.7L1408.6 142.6L1408.5 140.7L1409.2 142.5L1408.8 139.4L1409.8 142.3L1409.8 141.2L1410.4 142.2L1410.2 139.8L1411 142.1L1410.9 140.3L1411.6 142L1411.3 139L1412.2 141.8L1411.6 137.8L1412.8 141.7L1412.4 138.3L1413.4 141.6L1413.2 139L1414 141.5L1413.8 139.1L1414.6 141.4L1414.6 140.1L1415.2 141.2L1415.1 139.4L1415.8 141.1L1415.6 138.9L1416.4 141L1416.4 139.4L1417 140.9L1416.5 136.7L1417.6 140.8L1417.4 138L1418.2 140.7L1418 138.2L1418.8 140.6L1418.7 138.5L1419.4 140.5L1419.5 139.3L1420 140.3L1420 138.8L1420.6 140.2L1420.6 138.3L1421.2 140.1L1421.1 137.8L1421.8 140L1421.8 138.5L1422.4 139.9L1422.1 136.3L1423 139.8L1423.1 138.3L1423.6 139.7L1423.6 137.5L1424.2 139.6L1424.3 138L1424.8 139.5L1424.9 138.1L1425.4 139.4L1425.4 137.5L1426 139.3L1426.2 138.4L1426.6 139.2L1426.2 134.5L1427.2 139.1L1427.3 137.7L1427.8 139L1427.8 136.4L1428.4 139L1428.4 136.3L1429.1 138.9L1429.1 137L1429.7 138.8L1429.7 137L1430.3 138.7L1430.4 137.4L1430.9 138.6L1430.9 136.5L1431.5 138.5L1431.6 137.4L1432.1 138.4L1432.2 137.3L1432.7 138.3L1432.7 136.1L1433.3 138.3L1433.5 137.1L1433.9 138.2L1434.1 137.2L1434.5 138.1L1434.6 136L1435.1 138L1435.3 136.6L1435.7 137.9L1435.8 135.8L1436.3 137.9L1436.5 137L1436.9 137.8L1437.1 136.3L1437.6 137.7L1437.7 136.1L1438.2 137.6L1438.3 136.3L1438.8 137.6L1438.8 135.4L1439.4 137.5L1439.5 135.8L1440 137.4L1440.2 136.3L1440.6 137.4L1440.8 136L1441.2 137.3L1441.4 135.8L1441.8 137.2L1442 135.7L1442.4 137.2L1442.1 131.4L1443 137.1L1443.2 135.6L1443.6 137L1443.9 136.2L1444.3 137L1444.5 136L1444.9 136.9L1444.8 132.5L1445.5 136.9L1445.7 135.6L1446.1 136.8L1446.3 135.9L1446.7 136.7L1446.9 135.6L1447.3 136.7L1447.4 134.7L1447.9 136.6L1448.1 135.6L1448.5 136.6L1448.7 135.4L1449.1 136.5L1449.3 135L1449.8 136.5L1449.9 135.1L1450.4 136.4L1450.6 135.5L1451 136.4L1451.2 135.4L1451.6 136.3L1451.8 135.5L1452.2 136.3L1452.4 135L1452.8 136.2L1453 134.3L1453.4 136.2L1453.7 135.1L1454 136.1L1454.3 135.4L1454.6 136.1L1454.9 135.3L1455.3 136.1L1455.5 134.7L1455.9 136L1456.1 134.6L1456.5 136L1456.7 134.6L1457.1 136L1457.3 134.3L1457.7 135.9L1457.9 134.2L1458.3 135.9L1458.6 134.8L1458.9 135.8L1459.2 134.4L1459.5 135.8L1459.8 135.1L1460.1 135.8L1460.4 134.8L1460.8 135.8L1461 133.9L1461.4 135.7L1461.6 134.9L1462 135.7L1462.2 134.5L1462.3 135.7M1489.3 135.4L1489.3 134.6L1489.6 135.7L1489.9 134.6L1490.2 135.7L1490.5 135.1L1490.8 135.8L1491.1 135L1491.4 135.8L1491.8 134L1492 135.8L1492.4 134.7L1492.6 135.8L1493 134.8L1493.2 135.9L1493.6 135.1L1493.8 135.9L1494.2 135.2L1494.4 135.9L1494.8 134.4L1495 136L1495.4 134.9L1495.7 136L1496 134.8L1496.3 136.1L1496.6 135.2L1496.9 136.1L1497.2 135.4L1497.5 136.1L1497.9 134.8L1498.1 136.2L1498.5 135.2L1498.7 136.2L1499.1 135.5L1499.3 136.3L1499.7 135.4L1499.9 136.3L1500.4 134.4L1500.5 136.4L1500.9 135L1501.1 136.4L1501.5 135.6L1501.8 136.5L1502.1 135.7L1502.4 136.5L1502.8 135.4L1503 136.6L1503.4 135.5L1503.6 136.6L1504 135.4L1504.2 136.7L1504.6 136L1504.8 136.7L1505.2 135.7L1505.4 136.8L1505.8 135.8L1506 136.8L1506.4 135.7L1506.6 136.9L1507.1 135.2L1507.2 137L1507.7 135.5L1507.8 137L1508.5 134.1L1508.4 137.1L1509 134.5L1509.1 137.1L1509.5 135.8L1509.7 137.2L1510.1 136.1L1510.3 137.3L1510.7 136.2L1510.9 137.3L1511.4 135.6L1511.5 137.4L1511.9 136.5L1512.1 137.5L1512.5 136.4L1512.7 137.6L1513.3 135.4L1513.3 137.6L1513.8 136.2L1513.9 137.7L1514.3 136.9L1514.5 137.8L1515.3 134.2L1515.1 137.8L1515.5 137L1515.7 137.9L1516.3 136L1516.3 138L1517 135.6L1516.9 138.1L1517.6 135.6L1517.5 138.2L1518.1 136.6L1518.2 138.2L1518.6 137.3L1518.8 138.3L1519.3 136.7L1519.4 138.4L1519.9 136.6L1520 138.5L1520.4 137.5L1520.6 138.6L1521.1 137.1L1521.2 138.7L1521.7 137.4L1521.8 138.7L1522.9 133.1L1522.4 138.8L1523 136.9L1523 138.9L1523.6 137.1L1523.6 139L1524.6 134.4L1524.2 139.1L1524.7 138L1524.8 139.2L1525.2 138.4L1525.4 139.3L1525.9 138.2L1526 139.4L1527.2 134.1L1526.6 139.5L1527.8 134.4L1527.2 139.6L1528.5 133.9L1527.8 139.7L1528.7 136.5L1528.4 139.8L1528.9 138.6L1529 139.9L1529.5 138.8L1529.6 140L1530.3 138.2L1530.2 140.1L1530.7 139.2L1530.8 140.2L1531.8 136.4L1531.4 140.3L1532.1 138.2L1532 140.4L1532.6 139.2L1532.6 140.5L1533.4 138.3L1533.2 140.6L1533.9 138.8L1533.8 140.8L1534.4 139.3L1534.4 140.9L1535 139.6L1535 141L1535.9 138.3L1535.6 141.1L1536.2 139.9L1536.2 141.2L1537.2 137.9L1536.8 141.3L1537.4 139.8L1537.4 141.4L1538 140.4L1538 141.6L1538.6 140.4L1538.6 141.7L1540 136.7L1539.2 141.8L1539.8 140.4L1539.8 141.9L1540.4 140.9L1540.4 142.1L1541.3 139.4L1541 142.2L1541.9 139.4L1541.6 142.3L1542.2 141.3L1542.2 142.4L1543.9 136.1L1542.8 142.6L1543.3 141.6L1543.4 142.7L1544.2 140.4L1544 142.8L1544.7 141.3L1544.6 143L1545.2 141.8L1545.2 143.1L1545.9 141.6L1545.8 143.2L1546.4 142L1546.4 143.4L1547 142L1547 143.5L1547.6 142.2L1547.6 143.6L1548.4 141.7L1548.2 143.8L1548.9 142.1L1548.8 143.9L1549.7 141.4L1549.4 144L1549.9 143.2L1550 144.2L1550.8 142L1550.6 144.3L1551.3 142.8L1551.2 144.5L1552.1 142.1L1551.8 144.6L1552.3 143.7L1552.3 144.8L1553.2 142.5L1552.9 144.9L1553.6 143.7L1553.5 145.1L1554.3 143.3L1554.1 145.2L1555.1 142.7L1554.7 145.4L1555.3 144.4L1555.3 145.5L1556 144.1L1555.9 145.7L1556.5 144.7L1556.5 145.8L1557.7 142.4L1557.1 146L1558 143.8L1557.7 146.1L1558.3 145L1558.3 146.3L1559.4 143.4L1558.9 146.5L1559.8 144.3L1559.4 146.6L1560.7 143L1560 146.8L1560.8 145.2L1560.3 146.9M1587 155.2L1587.2 154.6L1587.2 155.6L1587.8 154.8L1587.7 155.8L1588.8 153.7L1588.3 156L1589 155.1L1588.9 156.2L1590.5 152.9L1589.4 156.4L1590.3 155.1L1590 156.7L1590.6 156.1L1590.6 156.9L1591.3 155.8L1591.2 157.1L1592 155.8L1591.7 157.3L1592.5 156.1L1592.3 157.6L1592.8 157L1592.9 157.8L1593.6 156.7L1593.4 158L1594.1 157.1L1594 158.2L1594.6 157.6L1594.6 158.5L1595.4 157.1L1595.1 158.7L1595.9 157.7L1595.7 158.9L1596.6 157.5L1596.3 159.2L1596.9 158.3L1596.8 159.4L1597.4 158.8L1597.4 159.6L1598.8 157.1L1598 159.9L1598.5 159.3L1598.5 160.1L1599.1 159.5L1599.1 160.3L1599.8 159.5L1599.6 160.6L1600.7 158.8L1600.2 160.8L1601.1 159.4L1600.8 161L1601.5 160.1L1601.3 161.3L1602.3 159.8L1601.9 161.5L1602.6 160.7L1602.5 161.8L1603.2 160.9L1603 162L1603.8 161.1L1603.6 162.3L1604.4 161.1L1604.1 162.5L1604.8 161.9L1604.7 162.8L1605.9 160.8L1605.3 163L1605.9 162.3L1605.8 163.3L1606.7 162.1L1606.4 163.5L1607.5 161.8L1606.9 163.8L1609.1 159.6L1607.5 164L1608.8 161.9L1608 164.3L1609.4 162L1608.6 164.5L1609.9 162.5L1609.1 164.8L1610.4 162.9L1609.7 165L1610.7 163.6L1610.3 165.3L1612.4 161.4L1610.8 165.6L1611.9 164L1611.4 165.8L1612 165.1L1611.9 166.1L1613 164.5L1612.5 166.3L1613.1 165.7L1613 166.6L1613.9 165.6L1613.6 166.9L1614.6 165.4L1614.1 167.1L1615.2 165.7L1614.7 167.4L1615.6 166.2L1615.2 167.7L1617.6 163.6L1615.8 167.9L1616.6 166.9L1616.3 168.2L1617.8 165.9L1616.9 168.5L1617.9 167L1617.4 168.8L1618.2 167.9L1618 169L1618.8 168L1618.5 169.3L1620.5 166.1L1619.1 169.6L1620.2 168.1L1619.6 169.9L1620.3 169.2L1620.1 170.1L1621.7 167.8L1620.7 170.4L1621.7 169.1L1621.2 170.7L1622.1 169.8L1621.8 171L1622.9 169.5L1622.3 171.3L1623.6 169.5L1622.9 171.5L1624.1 169.9L1623.4 171.8L1624.1 171.2L1623.9 172.1L1624.6 171.4L1624.5 172.4L1625.9 170.3L1625 172.7L1625.8 171.8L1625.6 173L1626.9 171.2L1626.1 173.3L1627.9 170.6L1626.6 173.5L1627.7 172.2L1627.2 173.8L1628.4 172.2L1627.7 174.1L1628.8 172.7L1628.2 174.4L1629.7 172.4L1628.8 174.7L1630.1 172.9L1629.3 175L1630.7 173.2L1629.9 175.3L1631.6 172.8L1630.4 175.6L1631.7 173.8L1630.9 175.9L1632 174.6L1631.5 176.2L1632.3 175.3L1632 176.5L1633.6 174.3L1632.5 176.8L1633.3 176L1633.1 177.1L1635.1 174.1L1633.6 177.4L1635.9 174L1634.1 177.7L1635.1 176.7L1634.6 178L1635.7 176.8L1635.2 178.3L1636 177.5L1635.7 178.6L1637.9 175.4L1636.2 178.9L1637.7 177L1636.8 179.3L1637.8 178.1L1637.3 179.6L1639.4 176.6L1637.8 179.9L1639.6 177.4L1638.3 180.2L1641.3 175.7L1638.9 180.5L1640.3 178.7L1639.4 180.8L1640.7 179.2L1639.9 181.1L1643.6 175.7L1640.4 181.4L1641.8 179.8L1640.9 181.8L1641.8 180.9L1641.2 181.9M1664.9 197.6L1665.2 197.2L1665 198L1666.1 197L1665.5 198.3L1666.8 197.1L1666 198.7L1667 197.9L1666.5 199.1L1667.2 198.7L1667 199.5L1667.9 198.8L1667.5 199.8L1668.4 199.1L1668 200.2L1668.6 199.8L1668.4 200.6L1669.3 200L1668.9 200.9L1669.6 200.5L1669.4 201.3L1670.8 200L1669.9 201.7L1670.7 201.1L1670.4 202.1L1671.2 201.6L1670.9 202.4L1671.6 202.1L1671.4 202.8L1672.2 202.3L1671.8 203.2L1672.9 202.4L1672.3 203.6L1673.6 202.4L1672.8 204L1673.9 203.1L1673.3 204.4L1674.1 203.8L1673.8 204.7L1674.7 204.1L1674.3 205.1L1675.9 203.5L1674.7 205.5L1676.8 203.4L1675.2 205.9L1676.5 204.8L1675.7 206.3L1676.4 205.9L1676.2 206.7L1677.5 205.5L1676.6 207.1L1677.6 206.3L1677.1 207.4L1678.3 206.5L1677.6 207.8L1678.5 207.3L1678.1 208.2L1679.8 206.6L1678.5 208.6L1679.5 207.9L1679 209L1679.8 208.5L1679.5 209.4L1680.2 209L1680 209.8L1681.6 208.3L1680.4 210.2L1682.3 208.5L1680.9 210.6L1682.9 208.8L1681.4 211L1682.4 210.3L1681.8 211.4L1682.7 210.9L1682.3 211.8L1683.1 211.3L1682.8 212.2L1683.8 211.5L1683.2 212.6L1684.1 212.1L1683.7 213L1685.3 211.6L1684.2 213.4L1685.9 211.9L1684.6 213.8L1685.7 213L1685.1 214.2L1686.2 213.4L1685.5 214.6L1687.8 212.5L1686 215L1686.8 214.6L1686.5 215.4L1687.3 215L1686.9 215.8L1690.3 212.6L1687.4 216.2L1689.3 214.6L1687.8 216.7L1689.3 215.5L1688.3 217.1L1690.4 215.2L1688.8 217.5L1690.6 215.9L1689.2 217.9L1690.3 217.2L1689.7 218.3L1690.5 217.8L1690.1 218.7L1691.1 218.1L1690.6 219.1L1691.4 218.7L1691 219.6L1692.1 218.9L1691.5 220L1692.6 219.2L1691.9 220.4L1693.4 219.2L1692.4 220.8L1693.6 220L1692.8 221.2L1694.2 220.3L1693.3 221.6L1694.5 220.8L1693.7 222.1L1694.9 221.2L1694.2 222.5L1698.8 218L1694.6 222.9L1695.7 222.2L1695.1 223.3L1696.8 222L1695.5 223.8L1698.9 220.7L1695.9 224.2L1697.9 222.6L1696.4 224.6L1699 222.4L1696.8 225L1698.1 224.2L1697.3 225.5L1699.2 223.9L1697.7 225.9L1699.4 224.6L1698.1 226.3L1699 225.9L1698.6 226.8L1700.1 225.7L1699 227.2L1700.3 226.3L1699.5 227.6L1700.4 227.1L1699.9 228.1L1701.2 227.2L1700.3 228.5L1701.3 228L1700.8 228.9L1702 228.2L1701.2 229.4L1705 226L1701.6 229.8L1702.8 229.1L1702.1 230.2L1704.1 228.6L1702.5 230.7L1704.1 229.6L1702.9 231.1L1704 230.5L1703.3 231.6L1708.3 227.2L1703.8 232L1706.1 230.2L1704.2 232.4L1705.2 231.9L1704.6 232.9L1705.8 232.2L1705.1 233.3L1708 231L1705.5 233.8L1706.7 233.1L1705.9 234.2L1708.1 232.5L1706.3 234.7L1710.5 231.2L1706.7 235.1L1708.9 233.5L1707.2 235.6L1709.5 233.8L1707.6 236L1708.6 235.5L1708 236.5L1709.2 235.8L1708.4 236.9L1709.5 236.3L1708.8 237.4L1710.1 236.6L1709.3 237.8L1711.6 236.1L1709.7 238.3L1710.8 237.6L1709.9 238.5M1728.5 260.3L1729 259.9L1728.4 260.7L1730.6 259.5L1728.8 261.2L1730.1 260.6L1729.2 261.7L1732.8 259.3L1729.5 262.2L1730.8 261.6L1729.9 262.7L1731.6 261.7L1730.3 263.1L1732.5 261.9L1730.6 263.6L1731.6 263.3L1731 264.1L1733.1 262.9L1731.3 264.6L1733.4 263.5L1731.7 265.1L1733.4 264.3L1732.1 265.6L1734.3 264.4L1732.4 266.1L1733.6 265.6L1732.8 266.6L1733.9 266.2L1733.1 267.1L1734.3 266.6L1733.5 267.6L1734.9 267L1733.9 268.1L1735.1 267.6L1734.2 268.6L1735.7 267.9L1734.6 269.1L1736.3 268.2L1734.9 269.6L1735.9 269.3L1735.3 270.1L1736.6 269.5L1735.6 270.6L1737.1 269.9L1736 271.1L1737.1 270.6L1736.3 271.6L1737.9 270.9L1736.7 272.1L1737.7 271.7L1737 272.6L1739.1 271.5L1737.4 273.1L1739 272.3L1737.7 273.6L1739.3 272.9L1738.1 274.1L1738.9 273.9L1738.4 274.6L1740.4 273.6L1738.7 275.1L1741.1 273.9L1739.1 275.6L1740.3 275.2L1739.4 276.1L1741.4 275.2L1739.8 276.6L1740.7 276.4L1740.1 277.1L1742.2 276.1L1740.4 277.6L1742.1 276.9L1740.8 278.2L1741.7 277.9L1741.1 278.7L1743.3 277.6L1741.4 279.2L1742.7 278.7L1741.8 279.7L1744.9 278L1742.1 280.2L1743.1 279.9L1742.4 280.7L1744.3 279.9L1742.8 281.2L1744.5 280.5L1743.1 281.7L1744.7 281.1L1743.4 282.3L1744.5 281.9L1743.8 282.8L1744.7 282.6L1744.1 283.3L1746.9 281.9L1744.4 283.8L1746 283.1L1744.7 284.3L1745.6 284.1L1745.1 284.8L1746.3 284.4L1745.4 285.4L1747 284.7L1745.7 285.9L1747.3 285.3L1746 286.4L1747.1 286.1L1746.3 286.9L1747.9 286.4L1746.7 287.4L1748.8 286.5L1747 288L1748.8 287.2L1747.3 288.5L1749.2 287.7L1747.6 289L1748.6 288.8L1747.9 289.5L1750.5 288.4L1748.2 290.1L1749.2 289.9L1748.6 290.6L1750.3 289.9L1748.7 290.8M1763 317.2L1763.9 316.8L1762.9 317.6L1764.2 317.3L1763.2 318.1L1765.6 317.3L1763.4 318.7L1765.9 317.9L1763.7 319.2L1765.2 318.9L1763.9 319.8L1768.3 318.2L1764.2 320.4L1765.3 320.2L1764.4 320.9L1766.5 320.3L1764.7 321.5L1767.8 320.4L1764.9 322L1766.4 321.7L1765.2 322.6L1766.6 322.3L1765.5 323.2L1768 322.3L1765.7 323.7L1767.9 323.1L1766 324.3L1767 324.2L1766.2 324.8L1768.1 324.4L1766.4 325.4L1768.1 325L1766.7 326L1768.9 325.3L1766.9 326.5L1768.8 326.1L1767.2 327.1L1769 326.7L1767.4 327.7L1769.4 327.2L1767.7 328.2L1768.8 328.1L1767.9 328.8L1772.1 327.3L1768.1 329.4L1769.4 329.2L1768.4 329.9L1771.1 329.1L1768.6 330.5L1772.2 329.4L1768.9 331.1L1769.8 331L1769.1 331.6L1772.2 330.7L1769.3 332.2L1772 331.4L1769.6 332.8L1770.7 332.7L1769.8 333.3L1770.8 333.3L1770 333.9L1771 333.9L1770.3 334.5L1771.9 334.1L1770.5 335L1772.6 334.5L1770.7 335.6L1772.2 335.4L1770.9 336.2L1773.2 335.6L1771.2 336.8L1772.5 336.6L1771.4 337.3L1773 337L1771.6 337.9L1773.2 337.6L1771.8 338.5L1774.1 337.9L1772 339.1L1773.1 339L1772.3 339.6L1774 339.3L1772.5 340.2L1774.5 339.8L1772.7 340.8L1773.8 340.7L1772.9 341.3L1774.2 341.2L1773.1 341.9L1775.6 341.4L1773.3 342.5L1775.4 342.1L1773.6 343.1L1774.8 343L1773.8 343.7L1776.5 343L1774 344.2L1775.2 344.1L1774.2 344.8L1776.3 344.4L1774.4 345.4L1776.1 345.1L1774.6 346L1779.8 344.5L1774.8 346.5L1776.9 346.2L1775 347.1L1781.1 345.3L1775.2 347.7L1776.3 347.7L1775.4 348.3L1776.9 348.1L1775.6 348.9L1780.7 347.4L1775.8 349.4L1777.4 349.2L1776 350L1778.1 349.7L1776.2 350.6L1777.2 350.6L1776.4 351.2L1777.9 351L1776.6 351.8L1777.7 351.7L1776.8 352.4L1778.1 352.2L1776.9 352.6M1785.3 381.3L1786.2 381L1785 381.6L1785.8 381.8L1785.2 382.2L1785.8 382.4L1785.3 382.8L1786.1 383L1785.4 383.4L1786.3 383.6L1785.6 384L1786.4 384.2L1785.7 384.6L1786.7 384.7L1785.8 385.2L1787.3 385.2L1786 385.8L1788.1 385.7L1786.1 386.4L1787.7 386.4L1786.2 387L1787.8 387L1786.4 387.6L1787.2 387.8L1786.5 388.2L1787.3 388.4L1786.6 388.8L1787.4 389L1786.7 389.4L1788.4 389.4L1786.8 390L1788.6 390L1787 390.6L1790.4 390.3L1787.1 391.2L1788.1 391.3L1787.2 391.8L1790 391.6L1787.3 392.4L1788.8 392.5L1787.4 393L1788.7 393.1L1787.6 393.6L1788.6 393.8L1787.7 394.3L1788.6 394.4L1787.8 394.9L1788.6 395L1787.9 395.5L1789.1 395.6L1788 396.1L1789.4 396.1L1788.1 396.7L1789 396.8L1788.2 397.3L1789.4 397.4L1788.3 397.9L1789.5 398L1788.4 398.5L1789.9 398.6L1788.5 399.1L1789.9 399.2L1788.6 399.7L1789.8 399.8L1788.7 400.3L1790.2 400.4L1788.8 400.9L1790.6 400.9L1788.9 401.5L1791.7 401.4L1789 402.1L1790 402.3L1789.1 402.7L1790.2 402.9L1789.2 403.3L1790.9 403.4L1789.3 403.9L1790.6 404.1L1789.4 404.5L1791.8 404.5L1789.5 405.2L1791.4 405.2L1789.6 405.8L1792 405.7L1789.7 406.4L1791.1 406.5L1789.8 407L1791.5 407.1L1789.9 407.6L1794.8 407.2L1790 408.2L1791.2 408.3L1790 408.8L1793 408.7L1790.1 409.4L1792.6 409.4L1790.2 410L1791.3 410.2L1790.3 410.6L1791.7 410.8L1790.4 411.2L1792.6 411.3L1790.5 411.8L1793.3 411.8L1790.5 412.5L1795.5 412.1L1790.6 413.1L1792.2 413.2L1790.7 413.7L1792.1 413.8L1790.8 414.3L1792.1 414.4L1790.8 414.9L1792 415.1L1790.9 415.5L1794.1 415.5L1791 416.1L1794 416.1L1791.1 416.7L1795 416.6L1791.1 417.3L1794 417.3L1791.2 418L1794.4 417.9L1791.3 418.6L1792.4 418.8L1791.3 419.2L1793.5 419.3L1791.4 419.8L1793.6 419.9L1791.5 420.4L1793.4 420.5L1791.5 421L1792.7 421.2L1791.6 421.6L1792.7 421.8L1791.6 422.2L1793.1 422.4L1791.7 422.8L1794.7 422.9L1791.7 423.5L1795.3 423.4L1791.8 424.1L1794.3 424.2L1791.9 424.7L1795.3 424.7L1791.9 425.3L1794.3 425.4L1791.9 425.6" stroke="#a9a2d5" stroke-width="0.9"/>
<path class="ln" d="M1766.3 477.8L1766.3 477.8L1774.3 478.4L1766.3 477.9L1766.2 478.8L1769 479.1L1766.2 478.9L1765.9 482.1L1768.8 482.4L1765.9 482.2L1765.6 485.2L1766.5 485.3L1765.6 485.3L1764.8 491.4L1766 491.5L1764.8 491.5L1764.8 491.7L1774.7 493L1764.8 491.8L1764.8 491.8L1767.1 492.1L1764.8 491.9L1764.7 492L1767.4 492.3L1764.7 492.1L1763.8 498.6L1768.7 499.4L1763.7 498.7L1762.5 505.7L1764.8 506.1L1762.5 505.8L1761.9 509L1764.9 509.6L1761.9 509.1L1761.9 509.2L1764.2 509.7L1761.8 509.3L1761.7 510.3L1762.5 510.4L1761.6 510.4L1761.1 512.8L1763.6 513.3L1761.1 512.9L1761 513.5L1762.7 513.8L1761 513.6L1760.2 517.1L1761.3 517.4L1760.2 517.2L1759.7 519.2L1761.6 519.7L1759.7 519.3L1758.3 525.1L1759.5 525.4L1758.2 525.2L1758 526.1L1760.6 526.8L1758 526.2L1757.7 527.4L1763.5 528.9L1757.6 527.5L1757.6 527.6L1758.5 527.8L1757.6 527.7L1757.5 527.9L1758.9 528.2L1757.5 528L1756.8 530.4L1758.3 530.8L1756.8 530.5L1756.6 531.5L1768.1 534.7L1756.5 531.6L1755.8 534.2L1763.5 536.4L1755.8 534.3L1755.6 535L1757.2 535.5L1755.5 535.1L1755 536.8L1764.6 539.7L1755 536.9L1754.2 539.3L1756.9 540.1L1754.2 539.4L1754.2 539.5L1760.9 541.6L1754.1 539.6L1753.9 540.3L1756.3 541L1753.9 540.4L1753.3 542.2L1763.8 545.6L1753.3 542.3L1752.7 544.2L1758.4 546.1L1752.6 544.3L1752 546.2M1742.2 571.3L1742.2 571.3L1753.2 576.2L1742.1 571.4L1741.5 572.9L1749.7 576.6L1741.4 573L1741.1 573.8L1742.4 574.4L1741 573.9L1740.8 574.4L1752.6 579.8L1740.7 574.5L1740.1 576L1747.3 579.3L1740 576.1L1739.1 578L1740.3 578.5L1739.1 578.1L1739 578.3L1748.9 583L1738.9 578.4L1738.1 580.1L1739.2 580.7L1738 580.2L1737.9 580.5L1740.3 581.7L1737.9 580.6L1737.9 580.6L1743.3 583.2L1737.8 580.7L1734.7 586.9L1737.3 588.2L1734.7 586.9L1732.9 590.3L1734.6 591.2L1732.8 590.4L1732.6 590.9L1734.7 592L1732.5 591L1730.8 594.2L1733.4 595.6L1730.7 594.3L1730.1 595.4L1731.7 596.3L1730.1 595.4L1726.1 602.3L1727.8 603.3L1726.1 602.4L1725.4 603.4L1727.4 604.6L1725.4 603.5L1725 604.2L1726.9 605.4L1724.9 604.3L1724.4 605.1L1726.7 606.5L1724.3 605.2L1722.2 608.6L1720 612L1722.3 613.5L1720 612.1L1719.8 612.4L1723.1 614.6L1719.7 612.5L1719.5 612.9L1721 613.9L1719.4 612.9L1717.7 615.5L1719.8 616.9L1717.6 615.6L1717 616.6L1718.8 617.8L1717 616.6L1715 619.5L1716.6 620.6L1714.9 619.6L1711.4 624.6L1713.5 626.1L1711.3 624.6L1710.3 626L1711.9 627.2L1710.2 626.1L1709.7 626.8L1711.4 628L1709.7 626.9L1705.4 632.5L1710.1 636.2L1705.3 632.6L1703.2 635.2L1709.5 640.2L1703.2 635.3L1701.6 637.2L1705.5 640.3L1701.6 637.2L1699.5 639.8L1705.6 644.9L1699.4 639.9L1697.8 641.7L1702.4 645.6L1697.7 641.8L1696.7 643M1679.1 661.8L1677.5 663.3L1683.1 669L1677.4 663.3L1675.9 664.8L1679.4 668.4L1675.9 664.8L1674.6 666L1676.4 667.8L1674.6 666.1L1673.6 667L1674.3 667.8L1673.5 667.1L1671.5 668.9L1672.8 670.4L1671.4 669L1668.4 671.6L1670.4 673.9L1668.3 671.7L1666.3 673.4L1667.8 675.2L1666.3 673.5L1665.9 673.8L1667.8 676.1L1665.8 673.9L1662.9 676.3L1663.7 677.3L1662.8 676.4L1662.4 676.8L1663.4 678L1662.3 676.8L1662.3 676.9L1663.5 678.4L1662.2 677L1659.5 679.1L1661.4 681.4L1659.5 679.2L1659.5 679.1L1668.3 690L1666.6 691.5L1657.8 680.5L1658.1 680.3L1665.8 689.9L1658.1 680.3L1658.7 679.8L1666.9 690L1658.7 679.8L1659.2 679.4L1665.3 686.8L1659.2 679.4L1657.8 680.5L1658.3 680.2L1659.2 681.3L1658.2 680.2L1654.4 683.2L1656.8 686.4L1654.3 683.3L1649.9 686.6L1651.4 688.5L1649.8 686.7L1647.9 688.1L1649.7 690.5L1647.8 688.1L1646.2 689.3L1647.2 690.8L1646.1 689.4L1646 689.5L1646.6 690.3L1645.9 689.5L1645.6 689.7L1647.4 692.2L1645.5 689.8L1644.6 690.5L1646.3 692.9L1644.5 690.6L1644.5 690.5L1645.5 691.9L1644.4 690.6L1644.1 690.8L1644.9 692L1644 690.9L1642.7 691.8L1643.6 693L1642.7 691.8L1642.2 692.1L1643.2 693.6L1642.1 692.2L1637.4 695.4L1638.3 696.8L1637.3 695.5L1632.2 698.8L1632.9 699.9L1632.1 698.8L1628.7 701L1632.3 707L1628.6 701.1L1626.7 702.2L1627.7 703.9L1626.6 702.3L1626.2 702.5L1630.8 710.2L1626.1 702.6L1624.3 703.7L1627.4 708.8L1624.2 703.7L1622.4 704.8L1626.4 711.7L1622.3 704.8L1622.3 704.8L1623.7 707.3L1622.2 704.9L1621.6 705.2L1622.6 707L1621.5 705.3L1621.2 705.4L1622.2 707.2L1621.1 705.5L1621.2 705.5M1598.1 717.4L1594.9 718.9L1595.5 720.3L1594.8 718.9L1593.7 719.4L1594.3 720.7L1593.6 719.4L1593.2 719.6L1597.2 728.8L1593.1 719.7L1590.2 720.9L1590.9 722.5L1590.1 721L1589.4 721.2L1594.9 734.1L1589.4 721.3L1588.8 721.5L1589.6 723.4L1588.7 721.6L1586.4 722.5L1587.3 724.8L1586.3 722.6L1585.7 722.8L1587.6 727.4L1585.6 722.8L1579.4 725.3L1580.8 729L1579.3 725.3L1579.2 725.4L1580 727.7L1579.1 725.4L1579.1 725.4L1579.6 726.6L1579 725.4L1578.4 725.6L1579.2 727.7L1578.3 725.7L1575.2 726.8L1575.8 728.5L1575.1 726.9L1573.6 727.4L1574.2 729.1L1573.5 727.4L1572.6 727.8L1573 729L1572.5 727.8L1572.4 727.8L1572.9 729.4L1572.3 727.9L1571.8 728.1L1573.7 733.7L1571.7 728.1L1571 728.3L1571.3 729.3L1570.9 728.4L1568.3 729.2L1568.6 730L1568.2 729.3L1564 730.6L1564.9 733.5L1563.9 730.7L1563.4 730.8L1567 742.3L1563.3 730.9L1561 731.6L1561.4 733L1560.9 731.6L1560.2 731.8L1561.9 737.6L1560.1 731.9L1557 732.8L1557.6 735L1556.9 732.8L1556.3 733L1558.8 741.6L1556.2 733L1554.6 733.4L1555.3 735.8L1554.5 733.5L1553 733.9L1553.3 734.9L1552.9 733.9L1552.4 734.1L1553 736.4L1552.3 734.1L1549.3 734.9L1549.9 737L1549.2 734.9L1547.7 735.3L1548.3 737.6L1547.6 735.3L1547.1 735.4L1549.8 746.1L1547 735.5L1540.6 737L1541.7 741.9L1540.5 737L1537.3 737.7L1537.8 739.9L1537.2 737.8L1537 737.8L1537.6 740.4L1536.9 737.8L1536.9 737.8L1537.5 740.5L1536.8 737.8L1536.6 737.9L1536.9 738.9L1536.5 737.9L1533.9 738.4M1508.8 742.4L1507.6 742.6L1508.3 749.5L1507.5 742.6L1505.8 742.8L1506 745.1L1505.7 742.8L1505.7 742.8L1506.7 752.7L1505.6 742.8L1505 742.8L1505.2 744.5L1504.9 742.8L1504.1 742.9L1504.3 744.9L1504 742.9L1502.5 743.1L1503 748.1L1502.4 743.1L1501.7 743.1L1501.9 745.9L1501.6 743.2L1501.4 743.2L1501.6 745.5L1501.3 743.2L1499.5 743.3L1499.7 745.6L1499.4 743.3L1498.9 743.4L1499.1 745.2L1498.8 743.4L1498.2 743.4L1498.3 744.5L1498.1 743.4L1497.5 743.5L1498.4 755.5L1497.4 743.5L1495.6 743.6L1496.2 751.6L1495.5 743.6L1492.5 743.8L1493.3 758.8L1492.4 743.8L1491 743.9L1491 745.1L1490.9 743.9L1489.9 744L1490.2 749.9L1489.8 744L1487.9 744.1L1487.9 745.3L1487.8 744.1L1486.2 744.1L1486.3 748.1L1486.1 744.1L1484.7 744.2L1484.7 747L1484.6 744.2L1483.5 744.2L1483.6 747L1483.4 744.2L1482.4 744.2L1482.6 753.2L1482.3 744.2L1477.7 744.3L1477.7 745.8L1477.6 744.3L1477.3 744.3L1477.4 749.3L1477.2 744.3L1473.5 744.3L1473.5 755.3L1473.4 744.3L1473 744.3L1473 745.3L1472.9 744.3L1471 744.3L1470.9 751.3L1470.9 744.3L1470.5 744.3L1470.5 746L1470.4 744.2L1466 744.1L1465.5 757.1L1465.9 744.1L1463.4 744L1463.1 753L1463.3 744L1460 743.9L1459.9 746.8L1459.9 743.9L1459.7 743.9L1459.4 748.8L1459.6 743.8L1455.9 743.6L1455.3 751.6L1455.8 743.6L1455.6 743.6L1455.5 745.5L1455.5 743.6L1453.7 743.5L1453.5 745.6L1453.6 743.5L1452.1 743.3L1451.3 753.3L1452 743.3L1449 743.1L1448.4 749L1448.9 743.1L1448.3 743L1448.1 745.3L1448.2 743L1448.2 743L1447.9 745.9L1448.1 743L1445.8 742.8M1420.7 739L1420.7 739L1419.5 744.9L1420.6 739L1418.8 738.7L1418.4 740.5L1418.7 738.7L1418.7 738.7L1418.3 740.8L1418.6 738.6L1418 738.5L1416 748.3L1417.9 738.5L1417.3 738.4L1417 739.9L1417.2 738.3L1414.1 737.7L1412.6 744.5L1414 737.7L1410.4 736.9L1409.7 739.7L1410.3 736.8L1410.1 736.8L1407.2 749.5L1410 736.8L1409.9 736.8L1409.7 737.6L1409.8 736.7L1408.2 736.3L1408 737.1L1408.1 736.3L1407.5 736.2L1405.4 744.9L1407.4 736.2L1405.4 735.7L1405 736.9L1405.3 735.6L1404.9 735.6L1401.5 749.1L1404.8 735.5L1402.3 734.9L1400.8 740.7L1402.2 734.9L1401.3 734.6L1401.1 735.5L1401.2 734.6L1399.1 734L1396.2 744.6L1399 734L1396.6 733.3L1395.8 736.1L1396.5 733.3L1395.8 733.1L1393.6 740.8L1395.7 733.1L1392 732L1388.5 743.5L1391.9 732L1391.6 731.9L1391.3 732.7L1391.5 731.8L1388.1 730.8L1386.6 735.6L1388 730.8L1386.5 730.3L1386 731.6L1386.4 730.2L1386.4 730.3L1385.6 733L1386.3 730.2L1384.9 729.8L1382.7 736.4L1384.8 729.7L1380.1 728.2L1375.4 726.5L1374.4 729.3L1375.3 726.4L1375.3 726.4L1374.8 727.7L1375.2 726.4L1374.1 726L1373.3 728.2L1374 725.9L1370.9 724.8L1370.2 726.7L1370.8 724.7L1369.5 724.3L1369.2 725.1L1369.4 724.2L1367.4 723.4L1366.7 725.2L1367.3 723.4L1363.6 721.8L1363 723.3L1363.5 721.8L1362.9 721.6L1361.3 725.2L1362.8 721.5L1356.7 718.9M1333.3 707.1L1333.3 707.1L1328.4 715.8L1333.2 707.1L1331.6 706.1L1330.6 707.9L1331.5 706.1L1331.4 706.1L1325.5 716.5L1331.4 706L1329.6 705L1326.1 711L1329.5 704.9L1328.3 704.2L1326.8 706.7L1328.2 704.2L1327.1 703.5L1322.5 711.3L1327 703.5L1326.5 703.2L1325.8 704.4L1326.4 703.1L1323.6 701.4L1322.4 703.3L1323.5 701.4L1319 698.5L1318 700L1318.9 698.5L1318.2 698L1317.4 699.3L1318.1 698L1315 695.9L1313.3 698.4L1314.9 695.9L1313.6 695L1313 695.8L1313.5 694.9L1311.4 693.5L1309.8 696L1311.3 693.5L1310.5 692.9L1309.6 694.2L1310.4 692.9L1307.8 691.1L1302.7 698.4L1307.8 691L1307.1 690.5L1306.1 691.9L1307 690.5L1305.9 689.7L1305.2 690.7L1305.8 689.6L1304.9 689L1296.7 700.3L1304.8 688.9L1303.4 687.9L1302.6 689L1303.4 687.8L1303.2 687.7L1298.5 694.2L1303.1 687.7L1301.6 686.5L1300 688.7L1301.5 686.5L1300.3 685.6L1293.7 694.4L1300.2 685.5L1297.5 683.4L1293.8 688.2L1297.4 683.3L1294.6 681.2L1287.2 690.6L1294.6 681.1L1293.1 679.9L1291.5 681.9L1293 679.9L1292.6 679.5L1291.8 680.4L1292.5 679.5L1291.8 679L1287.4 684.4L1291.8 678.9L1287.1 675.1L1286.3 676.1L1287.1 675L1286.6 674.6L1286.1 675.2L1286.5 674.5L1283.6 672L1281 675L1283.5 671.9L1279.7 668.5L1278.9 669.4L1279.6 668.4L1275.7 664.8M1257.7 646.3L1257.5 646L1256.3 647.1L1257.4 645.9L1256.6 645L1255.5 646.1L1256.6 645L1256.1 644.5L1250.1 649.7L1256.1 644.4L1255.8 644.1L1254.3 645.4L1255.7 644L1254.5 642.6L1246.2 649.8L1254.4 642.5L1254 642L1252.9 642.9L1253.9 641.9L1252.9 640.7L1248.3 644.6L1252.9 640.7L1251.4 638.9L1242.1 646.5L1251.3 638.8L1250.8 638.2L1248.7 639.8L1250.7 638.1L1250.3 637.5L1249.1 638.5L1250.2 637.5L1249.9 637.1L1248.3 638.4L1249.8 637L1249.8 637L1242.8 642.6L1249.7 636.9L1249.3 636.4L1248.4 637.2L1249.3 636.3L1248.3 635.1L1247.2 636L1248.3 635.1L1247.9 634.6L1242.4 638.9L1247.8 634.5L1247.8 634.4L1246.6 635.3L1247.7 634.4L1247.2 633.7L1245.6 634.9L1247.1 633.6L1246 632.2L1238.1 638.3L1245.9 632.1L1244.1 629.7L1243.1 630.5L1244 629.7L1240.8 625.3L1239.8 626.1L1240.7 625.3L1240.4 624.8L1237.2 627.2L1240.4 624.7L1237 620.1L1235.2 621.4L1237 620L1235.8 618.3L1234.6 619L1235.7 618.2L1234.4 616.3L1233.5 616.9L1234.3 616.2L1231.7 612.2L1225 616.6L1231.6 612.1L1230.9 611L1230.1 611.5L1230.8 610.9L1229.3 608.5L1227.3 609.8L1229.3 608.4L1227.3 605.3L1225.1 606.7L1227.3 605.2L1227.3 605.3L1225.3 606.5L1227.2 605.2L1227.2 605.2L1225.7 606.1L1227.2 605.1L1226.4 603.8L1223.8 605.3L1226.3 603.7L1226 603.2L1225 603.8L1226 603.1L1225.2 601.8L1222.6 603.3L1225.2 601.7L1222.8 597.7L1220.3 599.2L1222.8 597.6L1222.6 597.3L1220.7 598.4L1222.5 597.2L1222.3 596.8L1220.2 598L1222.2 596.7L1222.1 596.5M1210.5 573.8L1210.5 573.8L1202.4 577.5L1210.5 573.7L1209.8 572.3L1200.7 576.4L1209.8 572.2L1208.8 569.9L1204.2 571.9L1208.8 569.8L1208.6 569.4L1206.4 570.4L1208.5 569.3L1205.7 562.5L1204.6 562.9L1205.6 562.4L1205.5 562.1L1199 564.7L1205.5 562L1204.4 559.3L1202.1 560.2L1204.4 559.2L1204.3 559L1202.3 559.7L1204.2 558.9L1203 555.6L1201.6 556.2L1202.9 555.5L1202.4 554.2L1196.8 556.3L1202.4 554.1L1201.9 552.7L1199.2 553.6L1201.8 552.6L1199.6 546.2L1192 548.8L1199.6 546.1L1198.8 543.7L1196 544.7L1198.7 543.7L1197.8 540.8L1195.9 541.4L1197.8 540.7L1197.5 539.6L1195.5 540.2L1197.4 539.5L1196.7 537.2L1195.5 537.6L1196.7 537.1L1196.4 536.1L1189.7 538.1L1196.3 536L1195.8 534.1M1189.3 506.8L1189.3 506.8L1183.4 508L1189.3 506.7L1188.9 504.8L1185 505.6L1188.9 504.7L1188.4 502.3L1186.4 502.6L1188.4 502.2L1188.4 502.1L1187.3 502.3L1188.4 502L1188.3 501.5L1185.8 501.9L1188.3 501.4L1188.1 500.1L1186.2 500.4L1188.1 500L1187.9 498.9L1186.4 499.2L1187.9 498.8L1187.9 498.7L1186.8 498.9L1187.8 498.6L1187.3 494.8L1182.3 495.5L1187.2 494.7L1186.5 488.9L1185.6 489L1186.4 488.8L1185.8 483.6L1183.4 483.8L1185.8 483.5L1185.7 482.7L1182.8 483L1185.7 482.6L1185.2 476.9L1184.8 471.1L1182.7 471.2L1184.8 471L1184.6 467.2L1175.6 467.7L1184.6 467.1L1184.5 466.4M1184.5 440.5L1184.5 440.5L1178.5 440.2L1184.5 440.4L1184.5 439L1179.5 438.8L1184.5 438.9L1184.6 438.3L1183.4 438.2L1184.6 438.2L1184.6 437.6L1178.6 437.3L1184.6 437.5L1184.6 436.9L1182.3 436.7L1184.6 436.8L1184.7 435.7L1180.7 435.5L1184.7 435.6L1184.7 435.1L1183 435L1184.7 435L1184.9 432.4L1183.2 432.3L1184.9 432.3L1184.9 432.2L1183.1 432L1184.9 432.1L1184.9 432.1L1182.7 431.9L1184.9 431.9L1185 430.6L1183.5 430.5L1185 430.5L1185.1 430.4L1182.5 430.2L1185.1 430.3L1185.1 429.4L1182.2 429.2L1185.1 429.3L1185.2 428.1L1183.4 427.9L1185.3 428L1186 420.6L1184 420.3L1186 420.5L1186.6 415.5L1185.2 415.3L1186.6 415.4L1186.8 413.6L1185.9 413.4L1186.9 413.5L1187.3 410L1184.7 409.7L1187.4 409.9L1188.6 402.3L1182.7 401.3L1188.6 402.2L1189.8 395.6L1187.5 395.1L1189.9 395.5L1190.2 393.8L1186.3 393L1190.2 393.7L1190.4 392.9M1196.9 367.5L1197.5 365.5L1189 362.8L1197.6 365.4L1197.9 364.4L1196.3 363.9L1197.9 364.3L1198.5 362.4L1188.1 359L1198.6 362.3L1198.7 362L1196.5 361.3L1198.7 361.9L1199 361.1L1197.4 360.5L1199 361L1199.2 360.4L1193.5 358.5L1199.2 360.3L1200.2 357.4L1195.5 355.7L1200.3 357.3L1201.1 354.8L1199.3 354.2L1201.1 354.8L1202.2 351.8L1200.8 351.3L1202.2 351.7L1203.9 347.4L1202.4 346.8L1203.9 347.3L1203.9 347.3L1201.8 346.5L1203.9 347.2L1204.3 346.4L1202.4 345.7L1204.3 346.3L1205.9 342.4L1203.1 341.2L1205.9 342.3L1206.2 341.6L1205.1 341.2L1206.2 341.6L1206.2 341.6L1204.1 340.8L1206.2 341.5L1207.3 339L1205.2 338.1L1207.3 338.9L1209.5 333.9L1211.8 328.9L1210.4 328.3L1211.8 328.8L1213.6 325.1L1212.6 324.6L1213.7 325L1214.8 322.6L1213.3 321.8L1214.9 322.5L1215.4 321.5L1208.3 317.9L1215.4 321.4L1216 320.3L1215.1 319.8L1216 320.2L1216.6 319.1L1211.3 316.3L1216.7 319L1217 318.4L1216.1 317.9L1217 318.3L1217.1 318.1M1230.4 295.3L1230.4 295.3L1227 293.1L1230.4 295.2L1231 294.2L1226 291L1231.1 294.1L1231.7 293.2L1229.2 291.5L1231.8 293.1L1235.2 288L1234 287.2L1235.2 287.9L1239.1 282.4L1238.4 281.9L1239.1 282.3L1243.3 276.7L1232.9 268.9L1243.3 276.6L1243.7 276.2L1241.3 274.4L1243.7 276.1L1243.9 275.9L1242.4 274.8L1243.9 275.9L1246.6 272.4L1245.1 271.2L1246.7 272.3L1246.7 272.3L1245.5 271.4L1246.8 272.2L1247.2 271.7L1244.9 269.8L1247.3 271.6L1247.4 271.4L1245.7 270L1247.5 271.3L1250.3 267.8L1253.2 264.3L1251.7 263L1253.3 264.2L1254.4 263L1250.6 259.7L1254.4 262.9L1254.9 262.4M1273.2 242.9L1276.1 240.2L1271.3 235.1L1276.2 240.1L1279 237.5L1272.3 230.1L1279.1 237.4L1281.2 235.5L1277.2 231.1L1281.3 235.5L1284.2 232.9L1278.9 226.9L1284.3 232.8L1287.9 229.7L1291.8 226.5L1289.2 223.4L1291.8 226.5L1292.4 226L1291.6 225.1L1292.4 226L1293.7 225L1293.2 224.3L1293.8 224.9L1295.7 223.4L1294.8 222.2L1295.8 223.3L1296.6 222.6L1295.9 221.7L1296.7 222.6L1297.5 222L1296.4 220.5L1297.6 221.9L1297.7 221.8L1296.1 219.8L1297.8 221.8L1301.8 218.7L1300.3 216.7L1301.8 218.7L1303.1 217.7L1301.5 215.4L1303.2 217.6L1305.5 216L1302.6 211.9L1305.6 215.9L1307.1 214.9L1305.4 212.5L1307.2 214.8L1308.2 214.1L1307.6 213.2L1308.3 214L1309.6 213.1L1304.4 205.7L1309.6 213.1L1310.7 212.3L1309.6 210.7L1310.8 212.3L1311.6 211.7M1333.9 198L1337.7 195.9L1337 194.7L1337.7 195.9L1342.4 193.4L1342 192.5L1342.5 193.3L1345.6 191.8L1342 184.6L1345.7 191.7L1348.6 190.3L1347.5 188.1L1348.7 190.3L1349.4 189.9L1344.2 179.1L1349.5 189.9L1350.8 189.3L1350.1 187.8L1350.9 189.2L1357.7 186.1L1355.6 181.5L1357.8 186.1L1357.8 186.1L1357.3 185.1L1357.8 186L1362.3 184.1L1361.5 182.1L1362.4 184.1L1363.5 183.6L1360.1 175.3L1363.6 183.5L1364.6 183.2L1364.1 182.2L1364.6 183.1L1368.8 181.4L1368.4 180.5L1368.9 181.4L1369.6 181.1L1368.8 179L1369.7 181.1L1371.4 180.4L1368.9 173.9L1371.5 180.4L1375.4 178.9L1371.6 168.6L1375.5 178.9L1376.9 178.4L1376 175.9L1377 178.4L1377.4 178.2L1377 176.9L1377.5 178.2L1378.4 177.9L1377.8 176.3L1378.5 177.8L1378.9 177.7L1376.3 170.1L1379 177.6L1380.9 177L1377 165.6L1381 176.9L1382.5 176.4M1405 169.8L1405 169.8L1402 158.2L1405.1 169.8L1405 169.8L1404.6 168.4L1405.1 169.8L1408.4 169L1405.9 158.3L1408.5 169L1410.7 168.5L1409.6 163.6L1410.8 168.4L1410.8 168.4L1410.6 167.6L1410.9 168.4L1413.6 167.8L1412.7 163.9L1413.7 167.8L1415.4 167.4L1415.1 166.1L1415.5 167.4L1420.5 166.4L1419.4 160.5L1420.6 166.4L1423.5 165.8L1423.4 165L1423.6 165.8L1424.3 165.7L1424 164.1L1424.4 165.7L1426.7 165.3L1426.4 163.2L1426.8 165.2L1427.7 165.1L1427.2 162.2L1427.8 165.1L1430 164.7L1429.6 162.1L1430.1 164.7L1430.5 164.6L1430.4 163.7L1430.6 164.6L1433.1 164.2L1432.7 161.4L1433.2 164.2L1433.2 164.2L1433.1 163.4L1433.3 164.2L1433.9 164.1L1433.7 162.3L1434 164.1L1434.8 164L1434.5 161.9L1434.9 164L1435 164L1434.7 161.8L1435.1 164L1437.7 163.6L1437.4 161.6L1437.8 163.6L1439.7 163.3L1439.4 161.6L1439.8 163.3L1441 163.2L1439.9 154.2L1441.1 163.2L1441.9 163.1L1441.7 161L1442 163.1L1444.6 162.8L1444.5 161.1L1444.7 162.8L1445.7 162.7L1444.1 147.7L1445.7 147.6L1447.2 162.5L1446.8 162.5L1445.5 149.2L1446.8 162.5L1446.1 162.6L1444.6 148.2L1446.1 162.6L1447.2 162.5L1446.4 162.6L1446.2 160.5L1446.5 162.6L1447.5 162.5L1447.3 160.7L1447.6 162.5L1449.2 162.3L1448.9 159.6L1449.3 162.3L1454.2 161.9L1454.1 160.8L1454.3 161.9L1457.5 161.7L1457.2 157.7L1457.6 161.7L1457.9 161.6L1457.8 159.2L1458 161.6L1462.3 161.4L1462.2 159L1462.4 161.4L1463.4 161.4M1488.2 161.4L1489.8 161.4L1489.9 159.4L1489.9 161.4L1491.9 161.5L1492 160L1492 161.6L1492 161.6L1492.1 160.5L1492.1 161.6L1492.8 161.6L1492.8 160.7L1492.9 161.6L1494.8 161.7L1494.9 159.7L1494.9 161.7L1501.2 162.2L1501.3 161L1501.3 162.2L1501.4 162.2L1501.7 159.2L1501.5 162.2L1502.7 162.3L1502.8 161.4L1502.8 162.4L1502.7 162.3L1502.9 160.6L1502.8 162.4L1503.6 162.4L1503.8 160.9L1503.7 162.4L1504.7 162.5L1505.1 158.6L1504.8 162.5L1505 162.6L1505.2 160.1L1505.1 162.6L1509 163L1509.2 161.2L1509.1 163L1514.5 163.7L1520 164.5L1520.2 163.7L1520.1 164.5L1524.5 165.2L1529 166L1531.3 153.2L1529.1 166L1531.6 166.5L1533.3 157.6L1531.7 166.5L1531.8 166.5L1531.9 165.6L1531.9 166.5L1534.1 167L1534.3 165.7L1534.2 167L1536.5 167.5L1536.8 166.1L1536.6 167.5L1536.8 167.5L1537.4 164.7L1536.9 167.6L1537.6 167.7L1538.2 165L1537.7 167.7L1538.4 167.9L1538.7 166.5L1538.5 167.9L1541.9 168.7L1542.1 167.9L1542 168.7L1543.6 169.1L1544 167.3L1543.7 169.1L1544.5 169.3L1546.9 159.6L1544.6 169.3L1544.7 169.4L1545.2 167.7L1544.8 169.4L1546.9 169.9L1547.5 167.5L1547 169.9L1547.5 170.1L1547.9 168.8L1547.6 170.1L1551.7 171.2L1552.4 168.6L1551.8 171.2L1553.5 171.6M1577.9 179.5L1577.9 179.5L1581.4 170.2L1578 179.6L1578 179.6L1579 177.2L1578.1 179.6L1578.2 179.7L1579.2 176.9L1578.3 179.7L1579 180L1579.7 178.2L1579.1 180L1581.7 181L1582.7 178.5L1581.8 181.1L1583.1 181.5L1584.2 178.8L1583.2 181.6L1584.1 182L1585.2 179.2L1584.2 182L1585.4 182.5L1586.5 179.8L1585.5 182.5L1591.1 184.8L1591.6 183.6L1591.2 184.9L1593.3 185.8L1593.9 184.5L1593.4 185.9L1598.2 188L1598.6 187.2L1598.3 188.1L1598.4 188.1L1599.2 186.3L1598.5 188.2L1600.6 189.1L1601.7 186.7L1600.7 189.2L1602.4 190L1603.2 188.5L1602.5 190.1L1607.4 192.5L1607.9 191.4L1607.4 192.5L1609.7 193.7L1610.7 191.7L1609.8 193.7L1615.2 196.6L1615.6 195.8L1615.3 196.6L1621.1 199.9L1621.9 198.3L1621.2 199.9L1625.2 202.3L1626.7 199.8L1625.3 202.3L1625.8 202.6L1627.2 200.3L1625.9 202.7L1626.4 203L1631 195.3L1626.5 203L1627.8 203.9M1649.5 218.4L1651.7 220.1L1654.1 216.9L1651.8 220.2L1655.5 223.1L1656.5 221.9L1655.6 223.1L1656.1 223.5L1659.2 219.6L1656.2 223.6L1660.5 227L1663 223.9L1660.6 227.1L1660.8 227.3L1662.4 225.3L1660.9 227.4L1660.9 227.4L1662.7 225.2L1661 227.5L1663 229.1L1663.6 228.4L1663.1 229.2L1664.8 230.6L1668.7 226.1L1664.9 230.7L1669.8 235L1671.7 232.9L1669.9 235.1L1671.1 236.2L1677.8 228.7L1671.2 236.2L1671.5 236.5L1673.2 234.7L1671.6 236.6L1671.6 236.6L1673.2 234.9L1671.7 236.7L1675.2 239.9L1684.8 229.7L1675.3 240L1675.4 240.1L1676.1 239.3L1675.4 240.2L1677.7 242.3L1678.4 241.6L1677.8 242.4L1678.4 243L1684.7 236.6L1678.5 243.1L1678.9 243.4L1680.1 242.2L1679 243.5L1680.8 245.3L1681.4 244.7L1680.9 245.4L1681.2 245.8L1689.7 237.2L1681.3 245.8L1681.8 246.3L1683.5 244.6L1681.9 246.4L1685.3 249.9L1687.2 248L1685.4 249.9L1687.1 251.8L1690 249L1687.2 251.8L1688.3 253.1L1689.9 251.6L1688.4 253.1L1689.3 254.1L1689.9 253.5L1689.4 254.1L1690.7 255.6L1691.8 254.5L1690.7 255.6L1690.9 255.8M1707.8 276L1712.2 282L1713.5 281.1L1712.3 282.1L1712.7 282.6L1713.4 282.1L1712.7 282.7L1712.8 282.8L1724.2 274.7L1727.8 279.9L1716.3 287.8L1716.1 287.5L1726 280.7L1716.1 287.5L1715.7 286.9L1724.4 280.9L1715.7 286.9L1715.3 286.4L1722.9 281.1L1715.3 286.4L1714.9 285.8L1721.9 280.9L1714.9 285.8L1714.6 285.3L1723.5 279L1714.6 285.3L1714.2 284.7L1721.7 279.4L1714.2 284.7L1713.8 284.2L1723.8 277.1L1713.8 284.2L1713.4 283.6L1721.2 278.1L1713.4 283.6L1713 283.1L1719.8 278.2L1713 283.1L1716.3 287.8L1714.3 285L1716.4 283.5L1714.4 285.1L1714.5 285.2L1716.6 283.8L1714.6 285.3L1715 285.9L1716.2 285.1L1715.1 286L1715.4 286.5L1716.9 285.4L1715.4 286.6L1719.5 292.5L1722 290.9L1719.5 292.6L1720.1 293.4L1720.9 292.9L1720.1 293.5L1722.4 297L1724.2 295.9L1722.4 297.1L1724 299.6L1730.8 295.4L1731.9 297.2L1725.1 301.4L1724.9 301.1L1729.1 298.5L1724.9 301.1L1724.5 300.5L1728.9 297.8L1724.5 300.5L1724.2 299.9L1730.7 295.9L1724.2 299.9L1725.1 301.4L1724.4 300.3L1725.3 299.7L1724.4 300.4L1726.6 303.9L1728.2 303L1726.7 304L1726.6 304M1739.5 328.3L1739.5 328.3L1746.8 324.9L1739.6 328.4L1741.2 331.8L1743.5 330.8L1741.2 331.9L1743.8 337.8L1746.6 336.7L1743.9 337.9L1744.3 339L1745.9 338.3L1744.4 339.1L1745.1 340.8L1747.3 339.8L1745.1 340.9L1745.1 340.8L1747.2 340L1745.1 340.9L1745.5 341.8L1747.5 340.9L1745.5 341.9L1746.6 344.6L1749.3 343.5L1746.6 344.7L1747.6 347.1L1748.4 346.8L1747.7 347.2L1748 348.2L1759.2 343.9L1761 348.7L1749.8 352.8L1749.7 352.5L1758.8 349.2L1749.7 352.5L1749.4 352L1758.8 348.5L1749.4 352L1749.2 351.4L1756.3 348.8L1749.2 351.4L1749 350.8L1759.9 346.7L1749 350.8L1748.8 350.2L1759.4 346.3L1748.8 350.2L1748.6 349.7L1756.4 346.7L1748.6 349.7L1748.4 349.1L1759.4 344.9L1748.4 349.1L1748.2 348.5L1757.3 345L1748.2 348.5L1749.8 352.8L1750.8 355.7L1752.6 355.1L1750.8 355.8L1751 356.3L1753 355.6L1751 356.4L1751.4 357.4L1754.2 356.5L1751.4 357.5L1752.5 360.8M1759.9 387.1L1759.9 387.1L1764.8 386L1759.9 387.2L1760.3 388.9L1763.1 388.3L1760.4 389L1761 391.9L1768.8 390.3L1761 392L1762.4 399.2L1764.6 398.7L1762.5 399.3L1762.6 399.7L1764 399.5L1762.6 399.8L1762.6 400L1765.5 399.5L1762.6 400.1L1762.8 401.2L1765.3 400.8L1762.8 401.3L1762.9 401.6L1764.8 401.3L1762.9 401.7L1762.9 401.7L1765.5 401.2L1762.9 401.8L1763.2 403.5L1764.7 403.2L1763.2 403.6L1763.5 405.1L1765.7 404.7L1763.5 405.2L1763.5 405.3L1772.4 403.8L1763.5 405.4L1763.7 406.3L1764.8 406.2L1763.7 406.4L1764.1 408.9L1766.4 408.6L1764.1 409L1764.5 411.4L1767.4 411L1764.5 411.5L1764.9 414.4L1766 414.2L1764.9 414.5L1765.1 416.1L1766 416L1765.1 416.2L1765.4 418.4L1767 418.3L1765.4 418.5L1765.8 422.5L1766.2 426.6L1776.2 425.7L1766.2 426.7L1766.3 427.5L1767.9 427.4L1766.3 427.6L1766.3 427.8" stroke="#d7af78" stroke-width="1.25"/>
<path class="ln" d="M1748.4 476.2L1748 480.2L1747.6 484.3L1747.1 488.3L1746.5 492.3L1745.9 496.3L1745.2 500.3L1744.5 504.3L1743.7 508.2L1742.9 512.2L1741.9 516.1L1743.2 516.4L1741.9 516.2L1741 520.1L1739.9 524.1L1738.8 528.1L1737.6 532.1L1736.4 536.1L1737.3 536.3L1736.4 536.1L1735.8 537.9L1738.6 538.9L1735.8 538L1735 540.4M1725.7 564L1725.4 564.7L1729.1 566.4L1725.4 564.8L1723.6 568.6L1721.8 572.4L1719.9 576.3L1718 580L1715.9 583.8L1717.2 584.5L1715.9 583.9L1713.2 588.8L1710.3 593.7L1711.1 594.2L1710.2 593.7L1708.3 597L1706.2 600.2L1704.1 603.5L1701.9 606.7L1699.7 609.9L1697.5 613.1L1695.2 616.2L1692.9 619.3L1690.5 622.3L1688 625.4L1685.6 628.3L1683.1 631.3M1666.5 648.8L1662.9 652.4L1659.1 655.8L1659.7 656.5L1659 655.9L1656.2 658.4L1653.3 660.9L1650.3 663.4L1647.3 665.9L1644.3 668.3L1641.2 670.6L1638.1 673L1635 675.2L1631.8 677.5L1628.6 679.6L1625.4 681.8L1622.1 683.9L1618.8 685.9L1615.5 687.9L1612.2 689.9M1590.6 701.1L1585.9 703.2L1587.1 705.9L1585.8 703.2L1582 704.8L1578.1 706.5L1574.1 708L1570.1 709.5L1566.1 711L1566.5 712.2L1566 711L1562.2 712.3L1558.3 713.6L1554.3 714.8L1550.4 715.9L1546.4 717L1542.4 718.1L1538.4 719L1534.4 720L1530.3 720.8M1506.8 724.5L1502.8 725L1498.9 725.3L1495 725.6L1491 725.9L1487.1 726.1L1483.2 726.2L1479.2 726.3L1475.3 726.3L1471.3 726.3L1467.4 726.2L1463.4 726L1459.5 725.8L1455.5 725.5L1451.6 725.2L1447.7 724.9M1424.1 721.4L1416.6 719.8L1416.3 721.2L1416.5 719.8L1412.8 719L1409 718L1405.2 717L1401.5 716L1397.7 714.9L1394 713.8L1390.3 712.6L1389.9 713.7L1390.2 712.6L1386.5 711.3L1382.7 710L1378.9 708.6L1375.2 707.1L1371.5 705.6L1367.8 704.1L1364.1 702.5M1342.1 691.4L1338.4 689.3L1334.7 687.1L1331 684.8L1330.2 686.1L1330.9 684.8L1327.4 682.6L1323.9 680.2L1320.4 677.9L1316.9 675.4L1313.5 672.9L1310.1 670.4L1309.2 671.5L1310 670.3L1306.8 667.9L1303.6 665.3L1300.4 662.7L1297.2 660L1294.1 657.3L1291 654.5L1288 651.7M1271.2 634.4L1268.6 631.3L1266 628.3L1263.5 625.2L1262.3 626.2L1263.4 625.2L1260 620.9L1256.6 616.5L1256 617L1256.6 616.4L1253.3 611.9L1250.8 613.6L1253.2 611.8L1250.9 608.4L1248.5 605L1246.2 601.5L1243.9 598L1241.7 594.4L1239.6 590.8L1238.7 591.3L1239.6 590.7L1237.8 587.6M1226.9 566.3L1225.3 562.7L1223.7 559L1222.2 555.4L1220.7 551.7L1219.3 547.9L1218 544.2L1216.6 540.4L1215.4 536.6L1214.2 532.8L1213.1 529M1207 503.5L1206.3 499.7L1205.6 496L1205.1 492.2L1204.5 488.4L1204.1 484.6L1203.6 480.8L1203.3 477L1203 473.2L1202.7 469.4L1202.5 465.6M1202.4 441.2L1202.7 436.9L1202.9 432.6L1203.3 428.3L1201.9 428.2L1203.3 428.2L1203.7 423.8L1204.2 419.3L1204.8 414.9L1205.5 410.4L1206.2 406L1205.2 405.8L1206.2 405.9L1207.1 401.3L1208 396.6M1214.1 372.8L1215.9 367.1L1211.2 365.5L1216 367L1217.2 363.3L1214.4 362.3L1217.3 363.2L1218.6 359.3L1220.1 355.3L1221.7 351.4L1223.3 347.5L1221.9 346.9L1223.3 347.4L1225.2 343L1224 342.5L1225.2 342.9L1227 338.8L1229 334.7L1231 330.5L1233.1 326.5M1245.5 305L1247.6 301.7L1249.8 298.5L1252 295.4L1254.2 292.2L1256.5 289.1L1258.8 286.1L1261.2 283L1263.6 280L1266 277L1268.5 274.1M1285.7 255.9L1288.9 252.9L1292 250L1295.2 247.2L1298.5 244.4L1301.7 241.6L1305.1 238.9L1308.5 236.2L1311.9 233.6L1311.3 232.9L1311.9 233.6L1313.4 232.5L1312.6 231.5L1313.5 232.5L1317.5 229.5L1321.7 226.6M1342.6 213.7L1346 211.9L1349.4 210.1L1352.8 208.3L1356.2 206.6L1359.7 205L1363.2 203.3L1366.7 201.8L1370.2 200.3L1373.8 198.8L1377.4 197.4L1381 196.1L1384.6 194.8L1388.2 193.5M1409.3 187.3L1411.8 186.7L1411.6 185.8L1411.9 186.7L1414.6 186L1414.3 184.7L1414.7 186L1420.1 184.8L1425.6 183.7L1425.4 182.7L1425.7 183.7L1429.7 183L1433.8 182.3L1437.9 181.7L1442 181.2L1441.7 178.2L1442.1 181.2L1446.4 180.7L1450.9 180.2L1455.3 179.9L1459.7 179.6L1464.2 179.3M1487.4 179.3L1491.5 179.6L1495.6 179.8L1499.7 180.1L1503.8 180.5L1507.9 181L1508 179.5L1508 181L1512.3 181.5L1516.8 182.2L1521.2 182.9L1525.7 183.7L1529 166L1525.8 183.7L1532.1 185L1532.3 184.1L1532.2 185L1538.9 186.5L1539.2 185.4L1539 186.5L1539.7 186.7L1540.6 182.8L1539.7 186.7L1544.2 187.8L1548.7 189M1571.6 196.4L1575.2 197.8L1578.9 199.3L1582.5 200.8L1586.1 202.3L1589.6 203.9L1593.2 205.6L1594.5 202.9L1593.3 205.6L1597.3 207.6L1597.9 206.4L1597.4 207.6L1598.7 208.3L1599.4 207L1598.8 208.3L1602.6 210.3L1603.1 209.4L1602.7 210.3L1606.6 212.4L1610.6 214.6L1614.5 216.9L1618.4 219.2M1638.7 232.9L1641.1 234.7L1642 233.6L1641.2 234.8L1644.5 237.3L1647.7 239.9L1651 242.5L1654.2 245.3L1657.4 248L1660.5 250.9L1661.3 250L1660.6 250.9L1663.1 253.2L1664 252.2L1663.1 253.3L1665.9 255.9L1668.7 258.7L1671.5 261.5L1674.2 264.3L1675 263.5L1674.2 264.3L1677.6 268M1693.5 286.9L1695.8 290.1L1698.2 293.3L1700.4 296.5L1702.7 299.8L1704.9 303.1L1707 306.4L1709.1 309.8L1711.1 313.1M1723.2 335.9L1725.3 340.4L1727.3 344.9L1729.1 344.1L1727.3 345L1728.4 347.6L1729.8 347.1L1728.5 347.7L1729.9 351.4L1731.4 355.1L1732.8 358.8L1734.1 362.6L1735.4 366.4M1742.4 391.2L1743.2 394.9L1744 398.7L1744.8 402.5L1745.4 406.3L1746.1 410.1L1746.6 414L1747.2 417.8L1747.6 421.6L1748 425.5L1748.4 429.3" stroke="#5fcf66" stroke-width="1.35"/>
<path class="ln" d="M1730.5 474.7L1730.1 478.4L1729.7 482.2L1729.2 485.9L1728.7 489.6L1729.6 489.7L1728.7 489.7L1728.1 493.9L1727.3 498.2L1726.5 502.5L1725.6 506.7L1726.6 506.9L1725.6 506.8L1724.3 512.5L1725.6 512.8L1724.3 512.6L1723.2 517L1731.9 519.3L1723.2 517.1L1722.4 520L1730.1 522.1L1722.4 520L1721.6 522.9L1730.2 525.4L1721.5 523L1720.5 526.5L1724.4 527.6L1720.5 526.5L1719.7 529.1L1721 529.5L1719.7 529.2L1719 531.5L1720.2 531.9L1718.9 531.5L1718.1 534L1720 534.6L1718.1 534.1L1717.9 534.6M1709.3 556.7L1709.3 556.7L1724.8 563.6L1709.3 556.7L1707.8 560.1L1706.2 563.4L1720.6 570.4L1706.1 563.5L1704.4 567.1L1702.5 570.7L1700.7 574.2L1698.7 577.8L1696.7 581.3L1698 582.1L1696.7 581.4L1695.6 583.2L1700.7 586.3L1695.5 583.3L1692 589.1L1693.1 589.9L1691.9 589.2L1689.8 592.5L1687.6 595.8L1685.3 599.1L1683 602.4L1680.6 605.7L1681.9 606.7L1680.5 605.7L1676.4 611.1L1677.6 612L1676.4 611.1L1674.1 613.9L1671.8 616.8L1669.4 619.5M1654 635.9L1649.4 640.3L1652.1 643.3L1649.3 640.4L1646.6 642.8L1643.8 645.3L1641 647.8L1638.1 650.1L1635.2 652.5L1632.3 654.8L1629.3 657.1L1626.3 659.3L1623.3 661.5L1620.2 663.6L1620.8 664.4L1620.1 663.7L1616.6 666.1L1612.9 668.4L1613.7 669.8L1612.8 668.5L1611.4 669.4L1613 671.9L1611.3 669.4L1610.4 670L1610.9 670.7L1610.4 670L1607.1 672L1609.6 676.3L1607 672.1L1603.2 674.3M1583 684.7L1579 686.6L1574.9 688.3L1570.7 690L1566.6 691.6L1567.2 693.2L1566.5 691.7L1562.9 693L1559.2 694.3L1555.4 695.6L1551.6 696.8L1547.9 697.9L1544.1 699L1540.2 700L1536.4 701L1532.6 701.9L1533.9 707.8L1532.5 701.9L1529.7 702.6L1530.3 705.5L1529.6 702.6L1526.8 703.2M1504.7 706.7L1501 707.1L1501.2 708.7L1500.9 707.1L1499.2 707.2L1499.5 710.2L1499.1 707.2L1495.3 707.6L1491.4 707.8L1487.5 708L1483.5 708.2L1483.6 709.7L1483.4 708.2L1481.6 708.2L1481.6 709.1L1481.5 708.2L1477.9 708.3L1474.3 708.3L1470.6 708.2L1467 708.1L1463.3 708L1463 714L1463.2 708L1460.6 707.8L1460.4 710.8L1460.5 707.8L1456.4 707.6L1452.3 707.2L1452 710.2L1452.2 707.2L1449.5 706.9M1427.5 703.7L1424.6 703.1L1423.8 707L1424.5 703.1L1420.2 702.2L1420 703.1L1420.1 702.2L1415.2 701L1410.2 699.8L1409.2 703.6L1410.2 699.7L1408.5 699.3L1407.8 702.2L1408.5 699.3L1405 698.3L1401.5 697.3L1398 696.2L1394.5 695L1391 693.8L1390.7 694.7L1390.9 693.8L1389.1 693.1L1388.4 695L1389 693.1L1384.2 691.3L1383.8 692.6L1384.2 691.3L1378.6 689.1L1378 690.6L1378.5 689.1L1375 687.6L1371.4 686M1350.9 675.7L1348.2 674.2L1345.7 678.5L1348.1 674.1L1344.8 672.2L1341.4 670.1L1338.1 668L1334.8 665.9L1332.6 669.2L1334.7 665.8L1331.5 663.7L1328.3 661.4L1325 659.1L1321.9 656.7L1318.7 654.3L1317.9 655.4L1318.6 654.3L1315.6 651.9L1312.6 649.4L1309.6 646.9L1308.4 648.3L1309.5 646.8L1309.3 646.6L1308.2 647.9L1309.2 646.6L1305.2 643L1304.4 643.9L1305.1 643L1304.9 642.7L1304 643.7L1304.8 642.7L1300.4 638.6M1284.7 622.4L1284.7 622.4L1280.2 626.4L1284.6 622.3L1282.1 619.5L1279.7 616.6L1277.2 613.6L1274.8 610.6L1272.5 607.6L1270.2 604.6L1267.9 601.5L1265.7 598.3L1264.4 599.3L1265.7 598.2L1263.4 594.9L1261.2 591.5L1259.8 592.4L1261.1 591.4L1258.9 587.9L1256.7 584.3L1249.8 588.4L1256.7 584.3L1256.3 583.7L1254.8 584.6L1256.3 583.6L1255.7 582.7L1254.5 583.4L1255.7 582.6L1254 579.7L1247.9 583.2L1253.9 579.6L1253.4 578.8M1243.3 558.9L1241.8 555.5L1240.3 552L1238.9 548.6L1237.5 545.1L1236.2 541.7L1233.4 542.7L1236.2 541.6L1234.9 538L1233.6 534.4L1232.4 530.7L1231.2 527L1230.2 527.3L1231.2 526.9L1230.3 524M1224.6 500.2L1223.7 494.9L1222.9 489.6L1219.9 490L1222.9 489.5L1222.1 484L1220.9 484.2L1222.1 483.9L1221.6 479L1219.6 479.2L1221.5 478.9L1221.1 474.2L1220.8 469.5L1220.5 464.7M1220.4 442L1220.5 441.1L1219.4 441.1L1220.5 441.1L1220.5 439.9L1216.5 439.7L1220.5 439.8L1220.8 435.2L1219.6 435.1L1220.8 435.1L1221.1 431.6L1221.4 427.9L1221.8 424.3L1222.2 420.7L1222.7 417.1L1220.7 416.8L1222.7 417L1222.9 415.9L1221.9 415.8L1222.9 415.8L1223.1 414L1221.6 413.8L1223.2 413.9L1223.9 409.1L1224.8 404.3L1223.7 404L1224.8 404.2L1225.6 400.3L1224.8 400.1L1225.7 400.2L1225.6 400.3M1231.3 378.1L1231.3 378.1L1219.9 374.6L1231.4 378L1231.9 376.3L1230.5 375.9L1231.9 376.2L1233 372.7L1234.3 369.1L1235.5 365.5L1234.1 364.9L1235.6 365.4L1237.2 361.2L1238.9 356.9L1240.6 352.6L1239.1 352L1240.7 352.5L1241 351.7L1236.4 349.7L1241 351.6L1242.5 348.3L1244 345L1245.6 341.7L1247.2 338.4L1248.8 335.2L1239.9 330.6L1248.9 335.1L1249 334.8M1260.7 314.7L1262.6 311.7L1264.6 308.7L1266.7 305.7L1268.8 302.8L1266.3 301L1268.8 302.7L1270.3 300.7L1269.6 300.1L1270.4 300.6L1271.8 298.7L1270.4 297.7L1271.8 298.7L1274.3 295.5L1276.9 292.2L1279.5 289L1282.2 285.9M1298.2 268.8L1299.8 267.3L1296.4 263.7L1299.9 267.3L1301.4 265.8L1299.3 263.7L1301.5 265.8L1304.6 262.9L1307.9 260L1311.2 257.2L1310.3 256.2L1311.3 257.1L1314.2 254.7L1317.2 252.2L1320.3 249.8L1319.7 249.1L1320.4 249.8L1323.5 247.4L1322.5 246.1L1323.6 247.4L1327.6 244.4L1331.8 241.5L1331.3 240.8L1331.9 241.5L1331.9 241.5M1351.4 229.4L1354.8 227.6L1354.4 226.8L1354.9 227.5L1358.3 225.7L1361.9 223.9L1365.5 222.1L1369.2 220.4L1372.8 218.8L1376.5 217.2L1375.8 215.3L1376.6 217.1L1380.2 215.7L1383.9 214.2L1387.5 212.8L1386.9 211.2L1387.6 212.8L1394 210.6M1413.7 204.8L1417.6 203.8L1421.5 202.9L1425.4 202.1L1429.3 201.4L1429.1 200.2L1429.4 201.3L1434.2 200.5L1439.1 199.7L1438.8 197.8L1439.2 199.7L1444 199.1L1448.9 198.5L1448.8 197.3L1449 198.5L1453.3 198.1L1457.7 197.7L1462.2 197.5L1462.1 196.2L1462.2 197.5L1464.9 197.3M1486.6 197.3L1489.5 197.5L1489.6 195.5L1489.6 197.5L1491.9 197.6L1492 195.8L1491.9 197.6L1496.7 198L1496.7 196.9L1496.7 198L1499 198.2L1499.1 196.9L1499.1 198.2L1501.7 198.4L1501.8 196.8L1501.8 198.4L1505.6 198.8L1509.6 199.3L1513.6 199.9L1517.5 200.5L1517.8 198.7L1517.6 200.5L1524.1 201.7L1524.7 198.8L1524.2 201.7L1528.4 202.6L1532.6 203.5L1533.5 199.6L1532.7 203.5L1536.4 204.4L1540.2 205.3L1543.9 206.3M1565.3 213.3L1568.4 214.5L1568.8 213.4L1568.5 214.5L1571 215.5L1571.4 214.7L1571.1 215.5L1572.7 216.2L1573.4 214.5L1572.8 216.2L1577.5 218.2L1577.8 217.4L1577.6 218.2L1581.8 220.1L1586.1 222.1L1590.4 224.2L1591.1 222.8L1590.5 224.3L1592 225.1L1593.4 222.4L1592.1 225.1L1594.9 226.6L1595.5 225.4L1595 226.6L1597.4 227.9L1597.8 227.1L1597.5 227.9L1601.3 230L1605.2 232.3L1609 234.6M1628 247.4L1631.3 249.8L1634.5 252.3L1637.7 254.9L1640.2 251.8L1637.8 255L1637.9 255L1638.5 254.3L1637.9 255.1L1638.1 255.3L1638.8 254.4L1638.2 255.3L1640.6 257.4L1641.2 256.7L1640.7 257.4L1642.9 259.2L1643.6 258.4L1642.9 259.3L1643.4 259.8L1644.7 258.3L1643.5 259.8L1648.7 264.5L1649.3 263.9L1648.8 264.5L1653.1 268.6L1654.2 267.6L1653.2 268.7L1656.4 271.8L1659.6 275.1L1662.7 278.4L1665.6 275.6L1662.8 278.4L1664.4 280.2M1679.2 297.8L1681.6 301.2L1684.1 304.5L1686.5 308L1688.8 311.4L1691.1 314.9L1693.3 318.4L1694.2 317.8L1693.3 318.5L1695.6 322.3M1707 343.6L1708.6 347.2L1710.2 350.8L1711.6 350.2L1710.3 350.9L1710.7 352L1713.5 350.8L1710.8 352.1L1710.8 352.2L1711.9 351.7L1710.8 352.3L1712.5 356.2L1713.9 355.7L1712.5 356.3L1714.1 360.2L1715.6 364.2L1716.6 363.9L1715.6 364.3L1715.7 364.5L1716.9 364L1715.7 364.6L1717.1 368.3L1718.4 372.1M1724.8 395.2L1724.8 395.2L1742.4 391.2L1724.9 395.3L1725.8 399.3L1726.6 403.4L1727.4 407.6L1731.3 406.9L1727.4 407.7L1728.3 412.9L1732.2 412.3L1728.3 413L1728.8 416.5L1729.3 420.1L1729.7 423.7L1730.1 427.3L1730.5 430.9" stroke="#7edcc2" stroke-width="1.3"/>
<path class="ln" d="M1712.5 473.1L1712.5 473.1L1715.5 473.4L1712.5 473.2L1712.2 476.6L1713.4 476.7L1712.2 476.7L1711.8 479.9L1713.8 480.1L1711.8 480L1711.4 483.3L1710.9 486.7L1710.4 490.2L1709.9 493.5L1709.2 496.9L1708.6 500.3L1707.9 503.7L1708.7 503.9L1707.8 503.8L1707 507.4L1706.1 511.2L1707.6 511.5L1706.1 511.2L1706 511.4L1710.9 512.6L1706 511.4L1705.5 513.6L1714.2 515.9L1705.4 513.7L1704.9 515.8L1710.7 517.4L1704.9 515.9L1704.3 518L1713.9 520.7L1704.2 518.1L1703.6 520.2L1707.5 521.3L1703.6 520.2L1702.7 523L1704.6 523.6L1702.7 523.1L1700.9 528.9M1692.9 549.3L1692.9 549.3L1697.4 551.4L1692.8 549.4L1691.8 551.6L1693 552.1L1691.8 551.7L1691.5 552.4L1692.9 553L1691.5 552.4L1690.9 553.7L1692.2 554.3L1690.8 553.7L1689.2 557.2L1687.4 560.7L1685.6 564.2L1683.8 567.6L1681.9 571L1685.3 573L1681.8 571.1L1680.1 574L1678.3 577L1676.5 579.9L1674.6 582.8L1672.7 585.7L1676 588L1672.6 585.8L1672.5 586L1673.4 586.7L1672.4 586.1L1670.4 589L1668.4 591.8L1669.3 592.5L1668.3 591.9L1666.3 594.7L1664.2 597.5L1662 600.3L1659.8 603L1661.4 604.3L1659.8 603.1L1658 605.1L1661.1 607.7L1658 605.2L1655.8 607.8M1641.4 623L1640.6 623.9L1644.1 627.5L1640.5 623.9L1637.1 627.1L1641.9 632.3L1637.1 627.2L1633.6 630.3L1634.6 631.3L1633.6 630.3L1633.4 630.6L1634.5 631.8L1633.3 630.6L1630.6 632.9L1627.9 635.2L1625.1 637.5L1622.3 639.8L1619.5 642L1620.5 643.3L1619.4 642L1616.1 644.5L1612.6 647L1609.1 649.4L1609.9 650.5L1609.1 649.4L1606.9 650.9L1610.2 655.9L1606.8 650.9L1603.4 653.1L1607.7 659.9L1603.3 653.2L1599.3 655.7L1601.9 659.9L1599.3 655.7L1598.2 656.3L1599.2 658L1598.2 656.4L1594.2 658.7M1575.5 668.4L1573 669.5L1574.6 673.2L1572.9 669.6L1571.2 670.3L1571.9 672.1L1571.1 670.4L1567.3 672L1563.5 673.5L1559.6 675L1560.4 676.9L1559.6 675L1557.6 675.8L1560.4 683.3L1557.6 675.8L1556.4 676.2L1556.9 677.8L1556.3 676.3L1555 676.7L1556 679.5L1555 676.7L1551.4 678L1547.7 679.1L1544.1 680.3L1540.4 681.4L1536.6 682.4L1532.9 683.3L1533.4 685.3L1532.8 683.4L1528.6 684.4L1529.9 690.2L1528.5 684.4L1524.8 685.2L1525.6 689.1L1524.7 685.2L1523.2 685.5M1502.7 688.8L1500.1 689L1500.4 692L1500.1 689.1L1495.5 689.5L1495.6 690.5L1495.4 689.5L1491.1 689.8L1486.7 690.1L1486.7 691L1486.6 690.1L1485.2 690.1L1485.2 691.8L1485.1 690.1L1479.4 690.3L1479.4 691.1L1479.3 690.3L1477 690.3L1477.1 693.3L1477 690.3L1471.9 690.3L1471.8 694.3L1471.8 690.3L1470.8 690.2L1470.7 692.1L1470.7 690.2L1467.4 690.2L1464 690L1460.7 689.8L1457.3 689.6L1453.9 689.3L1453.5 694.3L1453.9 689.3L1451.4 689M1430.9 686L1430.9 686L1429.4 693.9L1430.8 686L1429.3 685.7L1429 687.6L1429.2 685.7L1426.6 685.2L1426.3 686.5L1426.5 685.1L1420.2 683.7L1419.9 685.1L1420.1 683.7L1416.3 682.7L1412.5 681.7L1408.7 680.6L1408.1 682.5L1408.6 680.6L1406.5 680L1406.3 680.8L1406.4 680L1401.3 678.3L1400.9 679.6L1401.2 678.3L1400.7 678.1L1400.5 679L1400.7 678.1L1400.4 678L1400 679.1L1400.3 678L1399.2 677.6L1398.2 680.4L1399.1 677.6L1395.9 676.5L1392.7 675.3L1389.4 674L1388.9 675.5L1389.4 674L1387.5 673.3L1386.9 674.8L1387.4 673.2L1383.8 671.8L1382.6 674.5L1383.7 671.7L1378.8 669.6M1359.7 660L1359.7 660L1351.9 674L1359.6 660L1356.7 658.3L1353.7 656.5L1352.9 657.8L1353.6 656.5L1349.1 653.7L1348.1 655.2L1349 653.6L1344.7 650.9L1339.2 659.2L1344.7 650.8L1341.9 649L1339.1 647L1336.3 645.1L1333.6 643L1330.9 641L1328.2 638.9L1326.3 641.2L1328.1 638.8L1326.7 637.7L1326 638.5L1326.6 637.6L1326.6 637.6L1326 638.3L1326.5 637.5L1326.5 637.5L1325.4 638.9L1326.4 637.5L1323.8 635.4L1321.2 633.1L1318.6 630.9L1317.9 631.7L1318.6 630.8L1316.1 628.6L1313.6 626.3L1305.4 635.1L1313.5 626.2L1312.7 625.5M1298.1 610.4L1298.1 610.4L1294.4 613.8L1298.1 610.4L1295.6 607.5L1293.1 604.6L1290.7 601.6L1289.2 602.8L1290.6 601.6L1288 598.2L1286.7 599.2L1287.9 598.2L1287 597L1284.6 598.8L1287 596.9L1285.3 594.7L1284.1 595.5L1285.2 594.6L1281.5 589.4L1280.4 590.2L1281.4 589.4L1281.4 589.3L1279.8 590.5L1281.4 589.3L1280.9 588.7L1279.5 589.7L1280.9 588.6L1279.7 586.8L1276.4 589.1L1279.6 586.8L1277.2 583.2L1275.8 584.1L1277.2 583.1L1275.3 580.2L1273.4 577.2L1271.6 574.1L1270.4 574.8L1271.5 574.1L1269.1 569.9M1259.7 551.4L1258.5 548.8L1257.2 549.4L1258.5 548.7L1257.1 545.5L1255.7 542.1L1254.3 538.8L1253.1 535.4L1245.6 538.2L1253 535.3L1251.9 532.2L1250.7 528.9L1242.2 531.8L1250.7 528.8L1249.2 524.3L1247.8 519.7L1244.9 520.5L1247.8 519.6L1247.6 519M1242.3 496.8L1241.7 493.3L1241.1 489.8L1240.6 486.2L1239.3 486.4L1240.6 486.2L1240.2 483.4L1238.6 483.6L1240.2 483.3L1240.1 482.8L1238.3 483L1240.1 482.7L1239.6 478.8L1235.7 479.2L1239.6 478.7L1239.1 473.8L1235.2 474.2L1239.1 473.7L1239 472.6L1237.8 472.7L1239 472.5L1238.7 468.3L1238.5 463.9M1238.4 442.8L1238.4 442.8L1232.4 442.5L1238.4 442.7L1238.5 441.6L1233.5 441.3L1238.5 441.5L1238.5 440.4L1232.5 440.1L1238.5 440.3L1238.7 438L1236.7 437.9L1238.7 437.9L1238.9 434.7L1238 434.7L1238.9 434.7L1239.2 431.4L1239.5 428L1239.9 424.7L1240.3 421.3L1240.7 418L1241.3 414.7L1241.8 411.3L1242.4 408L1243.1 404.7L1240.2 404.1L1243.1 404.6L1243.3 403.9M1248.6 383.3L1249.9 379.2L1251.3 375L1247.5 373.7L1251.3 375L1252.3 372.1L1251.5 371.8L1252.3 372L1253.6 368.5L1255 364.8L1250.4 363L1255.1 364.8L1256.3 361.7L1257.6 358.6L1259 355.5L1257.4 354.8L1259 355.5L1259.3 354.8L1256.6 353.6L1259.3 354.7L1261 351.1L1260.1 350.7L1261.1 351L1261.3 350.5L1260.4 350.1L1261.3 350.4L1263.7 345.6L1261.8 344.7L1263.7 345.6L1264.4 344.2L1260 341.9L1264.4 344.1L1265 343.1M1275.8 324.4L1277.6 321.6L1275.1 319.9L1277.7 321.5L1277.9 321.2L1276.3 320.1L1278 321.1L1278.8 319.9L1278.1 319.4L1278.8 319.8L1280.9 316.9L1283 313.9L1285.1 311L1283.7 309.9L1285.2 310.9L1287.6 307.7L1290.1 304.5L1288.4 303.1L1290.2 304.4L1294 299.7L1293.3 299L1294.1 299.6L1295.4 298.1L1292.3 295.5L1295.4 298L1295.8 297.6M1310.7 281.8L1313.3 279.4L1315.8 277.1L1318.4 274.7L1321 272.5L1323.6 270.2L1326.3 268L1329 265.9L1326.5 262.7L1329.1 265.8L1331.2 264.2L1330.3 263.1L1331.2 264.1L1334.1 262L1337.1 259.8L1331.8 252.5L1337.1 259.8L1337.2 259.7L1336.6 258.8L1337.3 259.6L1338.7 258.6L1335.2 253.7L1338.8 258.6L1342 256.3M1360.1 245.2L1363.9 243.1L1367.8 241.1L1371.7 239.1L1369.5 234.6L1371.7 239.1L1375.6 237.3L1379.5 235.5L1378.3 232.7L1379.6 235.4L1381.5 234.6L1380.8 233.1L1381.5 234.6L1381.5 234.6L1381 233.4L1381.6 234.6L1384.7 233.3L1384 231.7L1384.7 233.2L1388.4 231.7L1392.2 230.3L1391.9 229.3L1392.3 230.2L1395.6 229.1L1398.9 227.9L1395 216.5L1399 227.9L1399.7 227.6M1418.1 222.2L1423.7 220.9L1422.6 216L1423.8 220.9L1425.1 220.6L1424.5 217.6L1425.2 220.6L1428.5 219.9L1431.8 219.2L1435.2 218.6L1438.6 218L1442 217.5L1445.4 217.1L1448.8 216.6L1452.2 216.3L1451 204.3L1452.3 216.3L1455.3 216L1455.2 214.7L1455.4 216L1459 215.7L1458.9 213.6L1459.1 215.7L1460.1 215.6L1460 214.4L1460.2 215.6L1460.9 215.6L1460.5 209.6L1461 215.6L1461.8 215.5L1461.6 211.5L1461.9 215.5L1465.7 215.3M1485.9 215.3L1485.9 215.3L1486 212.3L1486 215.3L1487 215.4L1487.1 213.2L1487.1 215.4L1490.8 215.6L1494.5 215.8L1498.3 216.2L1502 216.6L1502.2 215.2L1502.1 216.6L1505.7 217L1509.4 217.5L1513 218L1516.7 218.6L1520.3 219.3L1524 220L1527.6 220.8L1528.7 215.9L1527.7 220.8L1529.7 221.3L1530.1 219.3L1529.8 221.3L1530.2 221.4L1531.6 215.6L1530.3 221.4L1532.8 222L1534 217.2L1532.9 222.1L1534 222.3L1534.5 220.3L1534.1 222.4L1534.6 222.5L1534.9 221.2L1534.6 222.5L1535.4 222.7L1537.2 215.9L1535.5 222.7L1537.5 223.3L1539.6 215.5L1537.6 223.3L1539.1 223.7M1559 230.1L1562.1 231.3L1562.4 230.5L1562.1 231.3L1566 232.9L1569.8 234.5L1573.6 236.2L1575.7 231.6L1573.7 236.2L1576.7 237.6L1579.7 239L1582.6 240.5L1585.6 242L1588.6 243.6L1591.5 245.2L1591.9 244.3L1591.5 245.2L1595.3 247.3L1599.1 249.6L1599.8 248.4L1599.2 249.6L1599.7 249.9M1617.3 261.8L1617.3 261.8L1624.4 252.2L1617.4 261.9L1620 263.9L1622.7 266L1625.4 268.1L1626.2 267.1L1625.5 268.2L1628.3 270.5L1629.2 269.4L1628.4 270.5L1631.3 273L1634.2 275.6L1637.1 278.2L1637.9 277.4L1637.2 278.3L1640.3 281.2L1643.4 284.2L1646.4 287.3L1649.3 284.5L1646.5 287.4L1648.8 289.8L1651.1 292.3M1664.8 308.8L1667.3 312L1671.3 309.1L1667.3 312.1L1669.3 314.8L1671.3 317.6L1673.2 320.4L1674.2 319.7L1673.2 320.5L1676.5 325.5L1678.3 324.3L1676.5 325.6L1679.7 330.8L1683.2 328.7L1679.8 330.9L1680.2 331.5M1690.7 351.3L1691.6 353.4L1692.4 353L1691.7 353.4L1694.2 359.1L1697 357.9L1694.2 359.2L1695.6 362.4L1696.9 365.6L1698.2 365.1L1696.9 365.7L1697.4 367L1700.2 366L1697.5 367.1L1698.9 370.9L1699.9 370.5L1698.9 371L1698.9 371L1700.9 370.3L1699 371.1L1700.4 375.1L1704.1 373.8L1700.4 375.2L1701.3 377.8M1707.3 399.3L1707.3 399.3L1717.1 397L1707.3 399.3L1708.1 402.8L1709.2 402.6L1708.1 402.9L1708.9 406.6L1709.6 410.4L1711.5 410L1709.6 410.5L1710 412.4L1716.9 411.2L1710 412.5L1710.3 414.2L1712.2 413.9L1710.3 414.3L1710.8 417.8L1711.3 421.4L1711.8 425L1713.3 424.8L1711.8 425.1L1712.4 430.7L1717.4 430.3L1712.4 430.8L1712.5 432.4" stroke="#8f5315" stroke-width="1.7"/>
<text class="ar" font-size="28" text-anchor="middle" x="1710.5" y="458.5">g</text>
<text class="ar" font-size="28" text-anchor="middle" x="1731.3" y="458.5">f</text>
<text class="ar" font-size="28" text-anchor="middle" x="1752" y="458.5">e</text>
<text class="ar" font-size="28" text-anchor="middle" x="1770.5" y="458.5">d</text>
<text class="ar" font-size="28" text-anchor="middle" x="1797" y="458.5">c</text>
<text class="ar" font-size="28" text-anchor="middle" x="1826.5" y="458.5">b</text>
<text class="ar" font-size="28" text-anchor="middle" x="1852.7" y="458.5">a</text>
</g>
<defs>
<clipPath id="valve"><path d="M1346 375C1370.3 373.3 1362 373 1400 371.5C1438 370 1416.7 371 1460 370.5C1503.3 370 1483.3 370.2 1530 370C1576.7 369.8 1560.7 369.5 1600 370C1639.3 370.5 1626.7 368.5 1648 371.5C1669.3 374.5 1654.3 372.2 1664 379C1673.7 385.8 1670 381.3 1677 392C1684 402.7 1681 397.7 1685 411C1689 424.3 1687.3 418 1689 432C1690.7 446 1690.5 440 1690 453C1689.5 466 1690.2 459 1687.5 471C1684.8 483 1687.2 476 1682 489C1676.8 502 1679.7 497.7 1672 510C1664.3 522.3 1668.7 516.3 1659 526C1649.3 535.7 1655.3 532.2 1643 539C1630.7 545.8 1639.3 543.8 1622 546.5C1604.7 549.2 1614.3 546.8 1591 547C1567.7 547.2 1578.3 546.7 1552 547C1525.7 547.3 1536 547.2 1512 548C1488 548.8 1500.7 547.8 1480 549.5C1459.3 551.2 1469 550.8 1450 553C1431 555.2 1444 554.5 1423 556C1402 557.5 1408.7 558.3 1387 557.5C1365.3 556.7 1376.3 557 1358 553.5C1339.7 550 1349.7 552.8 1332 547C1314.3 541.2 1320.8 544 1305 536C1289.2 528 1296.5 532.5 1284.5 523C1272.5 513.5 1277.7 517.8 1269 507.5C1260.3 497.2 1263.8 502.5 1258.5 492C1253.2 481.5 1255.2 488.3 1253 476C1250.8 463.7 1251.8 467.2 1251.8 455C1251.8 442.8 1250.8 449.8 1253 439.5C1255.2 429.2 1253.2 434.5 1258.5 424C1263.8 413.5 1261.2 417.7 1269 408C1276.8 398.3 1272.5 403.2 1282 395C1291.5 386.8 1287.8 389.2 1297.5 383.5C1307.2 377.8 1301.2 380.3 1311 378C1320.8 375.7 1315.3 377.5 1327 376.5C1338.7 375.5 1321.7 376.7 1346 375Z"/></clipPath>
<linearGradient id="sbase" gradientUnits="userSpaceOnUse" x1="1250" y1="0" x2="1690" y2="0"><stop offset="0" stop-color="#ea641e"/><stop offset="0.08" stop-color="#ef7a22"/><stop offset="0.17" stop-color="#f4932a"/><stop offset="0.25" stop-color="#f9b23a"/><stop offset="0.36" stop-color="#fcc74a"/><stop offset="0.55" stop-color="#fbc044"/><stop offset="0.68" stop-color="#f8a334"/><stop offset="0.8" stop-color="#f58228"/><stop offset="0.9" stop-color="#f36a22"/><stop offset="1" stop-color="#f0531d"/></linearGradient>
<radialGradient id="rred" gradientUnits="userSpaceOnUse" cx="1346" cy="375.5" r="430"><stop offset="0" stop-color="#ee3f1a" stop-opacity="0"/><stop offset="0.2" stop-color="#ee3f1a" stop-opacity="0.03"/><stop offset="0.42" stop-color="#ee3f1a" stop-opacity="0.45"/><stop offset="0.62" stop-color="#ee3f1a" stop-opacity="0.95"/><stop offset="1" stop-color="#ee3f1a" stop-opacity="1"/></radialGradient>
<radialGradient id="rorg" gradientUnits="userSpaceOnUse" cx="1346" cy="375.5" r="430"><stop offset="0" stop-color="#fdd36a" stop-opacity="0"/><stop offset="0.2" stop-color="#fcc658" stop-opacity="0.25"/><stop offset="0.45" stop-color="#fbb040" stop-opacity="0.6"/><stop offset="0.7" stop-color="#fa9a34" stop-opacity="0.85"/><stop offset="1" stop-color="#f98a2e" stop-opacity="0.9"/></radialGradient>
<radialGradient id="sglow" gradientUnits="userSpaceOnUse" cx="1400" cy="402" r="135" gradientTransform="translate(1400 402) rotate(12) scale(1 0.52) translate(-1400 -402)"><stop offset="0" stop-color="#fff6d4" stop-opacity="0.95"/><stop offset="0.28" stop-color="#fee8ac" stop-opacity="0.85"/><stop offset="0.6" stop-color="#fcd070" stop-opacity="0.5"/><stop offset="1" stop-color="#fbc04a" stop-opacity="0"/></radialGradient>
<linearGradient id="sstrip" gradientUnits="userSpaceOnUse" x1="1346" y1="0" x2="1650" y2="0"><stop offset="0" stop-color="#e6c796"/><stop offset="0.2" stop-color="#dcb583"/><stop offset="0.32" stop-color="#e2954a"/><stop offset="0.5" stop-color="#e9772b"/><stop offset="0.75" stop-color="#e2561f"/><stop offset="1" stop-color="#c2431c"/></linearGradient>
<linearGradient id="sshade" gradientUnits="userSpaceOnUse" x1="0" y1="372" x2="0" y2="558"><stop offset="0" stop-color="#fff" stop-opacity="0.05"/><stop offset="0.55" stop-color="#f38a1c" stop-opacity="0"/><stop offset="0.72" stop-color="#f28418" stop-opacity="0.2"/><stop offset="1" stop-color="#ee7a1c" stop-opacity="0.4"/></linearGradient>
<filter id="bl1" x="-5%" y="-5%" width="110%" height="110%"><feGaussianBlur stdDeviation="0.9"/></filter>
<filter id="bl2" x="-30%" y="-30%" width="160%" height="160%"><feGaussianBlur stdDeviation="2.2"/></filter>
<filter id="bl3" x="-30%" y="-30%" width="160%" height="160%"><feGaussianBlur stdDeviation="5"/></filter>
</defs>
<g id="shell">
<path d="M1346 376C1332.4 375.1 1345.8 372.6 1349 369C1352.2 365.4 1350.8 365.2 1358 362.5C1365.2 359.8 1364.3 360.5 1376 359C1387.7 357.5 1389.5 358.4 1402 357C1414.5 355.6 1413.1 354.1 1423 353.6C1432.9 353.1 1429.1 354.5 1439 355.2C1448.9 355.9 1444 355.7 1460 356.2C1476 356.7 1479.5 357.5 1499 357C1518.5 356.5 1516.9 356 1533 354.4C1549.1 352.8 1544 351.5 1559.5 351C1575 350.5 1574.3 352 1591 352.6C1607.7 353.2 1608.1 352.8 1622 353.1C1635.9 353.4 1635.8 352.2 1643 353.6C1650.2 355 1647.4 353.5 1649 358.5C1650.6 363.5 1662.1 369.2 1649 372.5C1635.9 375.8 1631.7 371.4 1600 371C1568.3 370.6 1567.3 370.9 1530 371C1492.7 371.1 1494.7 371.1 1460 371.5C1425.3 371.9 1430.4 371.3 1400 372.5C1369.6 373.7 1359.6 376.9 1346 376Z" fill="url(#sstrip)"/>
<path d="M1560 353 L1605 354 L1643 354.5 L1649 359 L1649 365 L1600 358 Z" fill="#a33a1a" fill-opacity="0.75"/>
<path d="M1453 369.6 L1510 370 L1586 368.5 L1649 371 L1649 364 L1612 359.5 L1580 364 L1510 367.6 Z" fill="#6e2411" fill-opacity="0.8"/>
<path d="M1390 369 L1430 366.5 L1470 367.5" fill="none" stroke="#7a5a38" stroke-width="1.5" stroke-opacity="0.55"/>
<path d="M1368 362.5 L1400 359.5 L1432 357.5" fill="none" stroke="#fff" stroke-width="1.6" stroke-opacity="0.45"/>
<g clip-path="url(#valve)">
<rect x="1245" y="365" width="450" height="200" fill="url(#sbase)"/>
<ellipse cx="1650" cy="405" rx="80" ry="40" fill="#ee431a" fill-opacity="0.45" filter="url(#bl3)"/>
<ellipse cx="1300" cy="470" rx="40" ry="60" fill="#ee6c1e" fill-opacity="0.35" filter="url(#bl3)"/>
<ellipse cx="1425" cy="440" rx="120" ry="60" transform="rotate(12 1425 440)" fill="#fccb4e" fill-opacity="0.92" filter="url(#bl3)"/>
<ellipse cx="1390" cy="528" rx="95" ry="22" transform="rotate(4 1390 528)" fill="#f5901c" fill-opacity="0.5" filter="url(#bl3)"/>
<g filter="url(#bl1)">
<path d="M1346 375.5Q1560.9 369.3 1775.4 353L1775.9 365.4Q1561 372.7 1346 375.5Z" fill="url(#rred)" fill-opacity="0.93"/>
<path d="M1346 375.5Q1561 372.7 1775.9 365.4L1776 378.4Q1561 376.3 1346 375.5Z" fill="url(#rorg)" fill-opacity="0.8"/>
<path d="M1346 375.5Q1561 376.3 1776 378.4L1775.7 391.7Q1561 379.9 1346 375.5Z" fill="url(#rred)" fill-opacity="0.92"/>
<path d="M1346 375.5Q1561 379.9 1775.7 391.7L1774.9 405.6Q1560.8 383.8 1346 375.5Z" fill="url(#rorg)" fill-opacity="0.77"/>
<path d="M1346 375.5Q1560.8 383.8 1774.9 405.6L1773.8 418.6Q1560.7 387.4 1346 375.5Z" fill="url(#rred)" fill-opacity="0.86"/>
<path d="M1346 375.5Q1560.7 387.4 1773.8 418.6L1772.2 432.3Q1560.4 391.2 1346 375.5Z" fill="url(#rorg)" fill-opacity="0.72"/>
<path d="M1346 375.5Q1560.4 391.2 1772.2 432.3L1770.9 441.8Q1560.2 393.8 1346 375.5Z" fill="url(#rred)" fill-opacity="0.8"/>
<path d="M1346 375.5Q1560.2 393.8 1770.9 441.8L1768.9 453.3Q1559.8 398.6 1346 375.5Z" fill="url(#rorg)" fill-opacity="0.68"/>
<path d="M1346 375.5Q1559.8 398.6 1768.9 453.3L1766.2 467Q1558.9 405.3 1346 375.5Z" fill="url(#rred)" fill-opacity="0.75"/>
<path d="M1346 375.5Q1558.9 405.3 1766.2 467L1763.3 479.2Q1557.9 411.9 1346 375.5Z" fill="url(#rorg)" fill-opacity="0.63"/>
<path d="M1346 375.5Q1557.9 411.9 1763.3 479.2L1759.8 492.5Q1556.4 419.8 1346 375.5Z" fill="url(#rred)" fill-opacity="0.68"/>
<path d="M1346 375.5Q1556.4 419.8 1759.8 492.5L1757 502Q1555 426 1346 375.5Z" fill="url(#rorg)" fill-opacity="0.58"/>
<path d="M1346 375.5Q1555 426 1757 502L1753.4 513.1Q1553 433.6 1346 375.5Z" fill="url(#rred)" fill-opacity="0.62"/>
<path d="M1346 375.5Q1553 433.6 1753.4 513.1L1749.9 523.1Q1550.8 440.9 1346 375.5Z" fill="url(#rorg)" fill-opacity="0.54"/>
<path d="M1346 375.5Q1550.8 440.9 1749.9 523.1L1745.6 534.4Q1547.8 449.6 1346 375.5Z" fill="url(#rred)" fill-opacity="0.57"/>
<path d="M1346 375.5Q1547.8 449.6 1745.6 534.4L1740.9 545.6Q1544.2 458.9 1346 375.5Z" fill="url(#rorg)" fill-opacity="0.5"/>
<path d="M1346 375.5Q1544.2 458.9 1740.9 545.6L1737.1 554.2Q1541.5 464.9 1346 375.5Z" fill="url(#rred)" fill-opacity="0.5"/>
<path d="M1346 375.5Q1541.5 464.9 1737.1 554.2L1732.6 563.7Q1539.3 469.6 1346 375.5Z" fill="url(#rorg)" fill-opacity="0.46"/>
<path d="M1346 375.5Q1539.3 469.6 1732.6 563.7L1727.8 573.3Q1536.9 474.4 1346 375.5Z" fill="url(#rred)" fill-opacity="0.45"/>
<path d="M1346 375.5Q1536.9 474.4 1727.8 573.3L1721.2 585.5Q1533.6 480.5 1346 375.5Z" fill="url(#rorg)" fill-opacity="0.42"/>
<path d="M1346 375.5Q1533.6 480.5 1721.2 585.5L1714.7 596.8Q1530.3 486.2 1346 375.5Z" fill="url(#rred)" fill-opacity="0.38"/>
<path d="M1346 375.5Q1530.3 486.2 1714.7 596.8L1709.3 605.5Q1527.7 490.5 1346 375.5Z" fill="url(#rorg)" fill-opacity="0.37"/>
<path d="M1346 375.5Q1527.7 490.5 1709.3 605.5L1702.1 616.6Q1524 496 1346 375.5Z" fill="url(#rred)" fill-opacity="0.31"/>
<path d="M1346 375.5Q1524 496 1702.1 616.6L1696.3 624.8Q1521.2 500.2 1346 375.5Z" fill="url(#rorg)" fill-opacity="0.32"/>
<path d="M1346 375.5Q1521.2 500.2 1696.3 624.8L1689 634.8Q1517.5 505.2 1346 375.5Z" fill="url(#rred)" fill-opacity="0.23"/>
<path d="M1346 375.5Q1517.5 505.2 1689 634.8L1682.9 642.7Q1514.4 509.1 1346 375.5Z" fill="url(#rorg)" fill-opacity="0.28"/>
<path d="M1346 375.5Q1514.4 509.1 1682.9 642.7L1677 650Q1511.5 512.8 1346 375.5Z" fill="url(#rred)" fill-opacity="0.14"/>
<path d="M1346 375.5Q1511.5 512.8 1677 650L1668.1 660.4Q1507 517.9 1346 375.5Z" fill="url(#rorg)" fill-opacity="0.24"/>
<path d="M1346 375.5L1669 659.3L1662 667.1Z" fill="#fde08e" fill-opacity="0.3"/>
<path d="M1346 375.5L1643.6 685.9L1637.1 692Z" fill="#fde08e" fill-opacity="0.4"/>
<path d="M1346 375.5L1621.2 705.9L1611.9 713.4Z" fill="#fde08e" fill-opacity="0.3"/>
<path d="M1346 375.5L1577.7 737.8L1570 742.5Z" fill="#fde08e" fill-opacity="0.45"/>
<path d="M1346 375.5L1547.9 755.2L1534.5 762Z" fill="#fde08e" fill-opacity="0.25"/>
<path d="M1346 375.5L1505 775L1495.2 778.8Z" fill="#fde08e" fill-opacity="0.35"/>
<path d="M1346 375.5L1461.6 789.7L1452.9 792Z" fill="#fde08e" fill-opacity="0.3"/>
<path d="M1346 375.5L1419.9 799.1L1406.6 801.2Z" fill="#fde08e" fill-opacity="0.25"/>
<path d="M1346 375.5L1374.5 804.6L1362.5 805.2Z" fill="#fde08e" fill-opacity="0.6"/>
<path d="M1346 375.5L1328 805.1L1319 804.7Z" fill="#fde08e" fill-opacity="0.25"/>
<path d="M1346 375.5L1656.9 672.6L1648.5 681.1Z" fill="#f3861f" fill-opacity="0.22"/>
<path d="M1346 375.5L1601.8 721.2L1589.6 729.9Z" fill="#f3861f" fill-opacity="0.2"/>
<path d="M1346 375.5L1525.7 766.2L1516.1 770.4Z" fill="#f3861f" fill-opacity="0.15"/>
<path d="M1346 375.5L1441.3 794.8L1429.5 797.3Z" fill="#f3861f" fill-opacity="0.12"/>
<path d="M1346 375.5L1269.9 798.7L1247.8 794.1Z" fill="#fdcf5c" fill-opacity="0.85"/>
<path d="M1346 375.5L1217.4 785.8L1208.8 783Z" fill="#fdcf5c" fill-opacity="0.4"/>
<path d="M1346 375.5L1182.1 773.1L1160.2 763.3Z" fill="#fdcf5c" fill-opacity="0.8"/>
<path d="M1346 375.5L1132.3 748.6L1123.2 743.3Z" fill="#fdcf5c" fill-opacity="0.4"/>
<path d="M1346 375.5L1101.2 729L1085.4 717.6Z" fill="#fdcf5c" fill-opacity="0.6"/>
<path d="M1346 375.5L1057.2 694L1048.4 685.9Z" fill="#fdcf5c" fill-opacity="0.35"/>
<path d="M1346 375.5L1029.5 666.6L1013.7 648.4Z" fill="#fdcf5c" fill-opacity="0.55"/>
<path d="M1346 375.5L988.7 614.7L982.1 604.6Z" fill="#fdcf5c" fill-opacity="0.35"/>
<path d="M1346 375.5L963.6 572.1L955.7 555.9Z" fill="#fdcf5c" fill-opacity="0.4"/>
<path d="M1346 375.5L937 508.4L932.7 494Z" fill="#fdcf5c" fill-opacity="0.3"/>
<path d="M1346 375.5L921.5 444.2L919 426.4Z" fill="#fdcf5c" fill-opacity="0.2"/>
<path d="M1346 375.5L1302.5 803.3L1277.3 800Z" fill="#ee6a1c" fill-opacity="0.3"/>
<path d="M1346 375.5L1242.7 792.9L1226.8 788.6Z" fill="#ee6a1c" fill-opacity="0.3"/>
<path d="M1346 375.5L1200.3 780.1L1183.5 773.6Z" fill="#ee6a1c" fill-opacity="0.3"/>
<path d="M1346 375.5L1157.5 762L1137.5 751.6Z" fill="#ee6a1c" fill-opacity="0.35"/>
<path d="M1346 375.5L1118.8 740.6L1104.9 731.6Z" fill="#ee6a1c" fill-opacity="0.3"/>
<path d="M1346 375.5L1079.5 713L1060 696.6Z" fill="#ee6a1c" fill-opacity="0.35"/>
<path d="M1346 375.5L1010.4 644.4L995.1 624Z" fill="#ee6a1c" fill-opacity="0.3"/>
<path d="M1346 375.5L953.2 550.4L941.9 522.6Z" fill="#ee6a1c" fill-opacity="0.3"/>
<path d="M1346 375.5L928.8 479.5L922.5 450.2Z" fill="#ee6a1c" fill-opacity="0.3"/>
<path d="M1346 375.5L917.6 413L916.1 368Z" fill="#ee6a1c" fill-opacity="0.3"/>
</g>
<path d="M1345 376 L1300 379 L1258 418 L1290 404 L1336 388 Z" fill="#ee441a" fill-opacity="0.9" filter="url(#bl2)"/>
<ellipse cx="1312" cy="390.5" rx="9" ry="3.2" transform="rotate(-18 1312 390.5)" fill="#ffd84e" fill-opacity="0.95" filter="url(#bl1)"/>
<rect x="1245" y="365" width="450" height="200" fill="url(#sglow)"/>
<rect x="1245" y="365" width="450" height="200" fill="url(#sshade)"/>
<path d="M1659 526C1653.7 530.3 1655.3 532.2 1643 539C1630.7 545.8 1639.3 543.8 1622 546.5C1604.7 549.2 1614.3 546.8 1591 547C1567.7 547.2 1578.3 546.7 1552 547C1525.7 547.3 1536 547.2 1512 548C1488 548.8 1500.7 547.8 1480 549.5C1459.3 551.2 1469 550.8 1450 553C1431 555.2 1444 554.5 1423 556C1402 557.5 1408.7 558.3 1387 557.5C1365.3 556.7 1376.3 557 1358 553.5C1339.7 550 1349.7 552.8 1332 547C1314.3 541.2 1320.8 544 1305 536C1289.2 528 1296.5 532.5 1284.5 523C1272.5 513.5 1277.7 517.8 1269 507.5C1260.3 497.2 1263.8 502.5 1258.5 492C1253.2 481.5 1255.2 488.3 1253 476C1250.8 463.7 1251.8 467.2 1251.8 455C1251.8 442.8 1250.8 449.8 1253 439.5C1255.2 429.2 1256.7 429.2 1258.5 424" fill="none" stroke="#eda686" stroke-width="5" stroke-opacity="0.6" filter="url(#bl1)"/>
<ellipse cx="1452" cy="428" rx="30" ry="6" transform="rotate(22 1452 428)" fill="#fff8de" fill-opacity="0.8" filter="url(#bl2)"/>
<ellipse cx="1490" cy="447" rx="24" ry="5" transform="rotate(24 1490 447)" fill="#fff8de" fill-opacity="0.7" filter="url(#bl2)"/>
<ellipse cx="1412" cy="416" rx="26" ry="5" transform="rotate(8 1412 416)" fill="#fff8de" fill-opacity="0.6" filter="url(#bl2)"/>
<ellipse cx="1548" cy="452" rx="14" ry="3" transform="rotate(30 1548 452)" fill="#fff8de" fill-opacity="0.5" filter="url(#bl2)"/>
<ellipse cx="1618" cy="450" rx="12" ry="4.2" transform="rotate(35 1618 450)" fill="#fff8de" fill-opacity="0.75" filter="url(#bl2)"/>
<ellipse cx="1620" cy="413" rx="17" ry="2.2" transform="rotate(15 1620 413)" fill="#fff8de" fill-opacity="0.9" filter="url(#bl2)"/>
<ellipse cx="1575" cy="470" rx="10" ry="2.5" transform="rotate(30 1575 470)" fill="#fff8de" fill-opacity="0.35" filter="url(#bl2)"/>
<ellipse cx="1600" cy="500" rx="12" ry="2.5" transform="rotate(35 1600 500)" fill="#fff8de" fill-opacity="0.3" filter="url(#bl2)"/>
</g>
</g>
</svg>
</body></html>
